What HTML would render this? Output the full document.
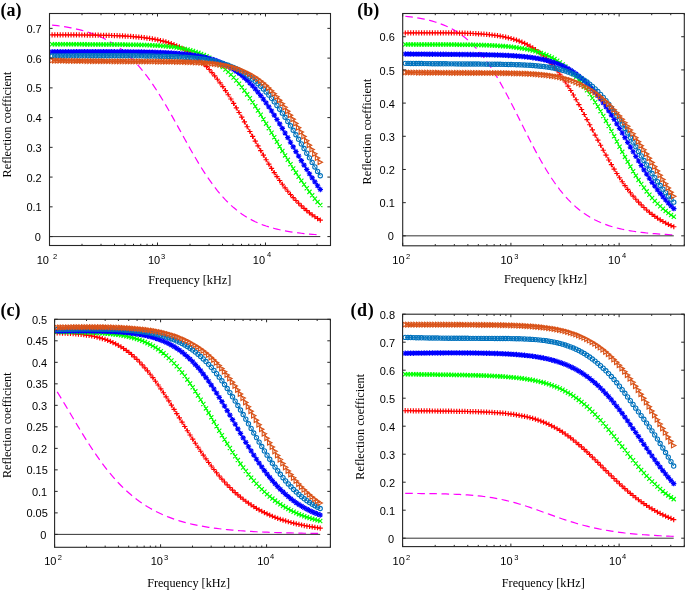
<!DOCTYPE html>
<html><head><meta charset="utf-8"><style>
html,body{margin:0;padding:0;background:#fff;}
svg{display:block;will-change:transform;}
text{fill:#000;}
.t{font-family:"Liberation Sans",sans-serif;font-size:11px;}
.s{font-family:"Liberation Sans",sans-serif;font-size:7.5px;}
.f{font-family:"Liberation Serif",serif;font-size:12.2px;}
.p{font-family:"Liberation Serif",serif;font-size:18px;font-weight:bold;}
</style></head><body>
<svg width="685" height="590" viewBox="0 0 685 590">
<defs><clipPath id="ca"><rect x="49.50" y="13.50" width="281.00" height="232.00"/></clipPath><clipPath id="cb"><rect x="402.70" y="13.50" width="281.60" height="232.30"/></clipPath><clipPath id="cc"><rect x="54.60" y="319.30" width="275.80" height="228.00"/></clipPath><clipPath id="cd"><rect x="402.60" y="314.20" width="281.70" height="232.40"/></clipPath></defs>
<rect width="685" height="590" fill="#fff"/>
<g clip-path="url(#ca)">
<polyline fill="none" stroke="#ff00ff" stroke-width="1.2" stroke-dasharray="7.6 4.5" points="52.10,25.04 54.81,25.36 57.52,25.71 60.23,26.09 62.94,26.50 65.65,26.93 68.35,27.40 71.06,27.91 73.77,28.46 76.48,29.06 79.19,29.70 81.90,30.39 84.61,31.13 87.32,31.94 90.03,32.81 92.74,33.75 95.45,34.77 98.15,35.86 100.86,37.04 103.57,38.32 106.28,39.69 108.99,41.16 111.70,42.75 114.41,44.45 117.12,46.28 119.83,48.24 122.54,50.33 125.25,52.57 127.95,54.95 130.66,57.49 133.37,60.19 136.08,63.06 138.79,66.09 141.50,69.29 144.21,72.66 146.92,76.19 149.63,79.90 152.34,83.77 155.05,87.80 157.75,91.98 160.46,96.31 163.17,100.76 165.88,105.34 168.59,110.01 171.30,114.78 174.01,119.61 176.72,124.49 179.43,129.40 182.14,134.32 184.85,139.23 187.55,144.10 190.26,148.92 192.97,153.66 195.68,158.32 198.39,162.86 201.10,167.28 203.81,171.56 206.52,175.69 209.23,179.66 211.94,183.46 214.65,187.09 217.35,190.55 220.06,193.83 222.77,196.92 225.48,199.85 228.19,202.59 230.90,205.17 233.61,207.58 236.32,209.83 239.03,211.93 241.74,213.89 244.45,215.70 247.15,217.38 249.86,218.94 252.57,220.37 255.28,221.70 257.99,222.93 260.70,224.06 263.41,225.09 266.12,226.05 268.83,226.93 271.54,227.74 274.25,228.48 276.95,229.16 279.66,229.78 282.37,230.36 285.08,230.88 287.79,231.37 290.50,231.81 293.21,232.22 295.92,232.60 298.63,232.94 301.34,233.26 304.05,233.55 306.75,233.83 309.46,234.08 312.17,234.31 314.88,234.52 317.59,234.73 320.30,234.91"/>
<line x1="49.50" y1="236.58" x2="320.30" y2="236.58" stroke="#333" stroke-width="1.0"/>
<polyline fill="none" stroke="#ff0000" stroke-width="1" points="52.10,34.88 54.81,34.88 57.52,34.89 60.23,34.89 62.94,34.90 65.65,34.91 68.35,34.91 71.06,34.92 73.77,34.94 76.48,34.95 79.19,34.97 81.90,34.99 84.61,35.01 87.32,35.04 90.03,35.07 92.74,35.10 95.45,35.14 98.15,35.19 100.86,35.24 103.57,35.29 106.28,35.35 108.99,35.43 111.70,35.51 114.41,35.60 117.12,35.70 119.83,35.81 122.54,35.94 125.25,36.09 127.95,36.25 130.66,36.43 133.37,36.63 136.08,36.86 138.79,37.11 141.50,37.40 144.21,37.71 146.92,38.07 149.63,38.46 152.34,38.90 155.05,39.38 157.75,39.92 160.46,40.53 163.17,41.19 165.88,41.93 168.59,42.74 171.30,43.65 174.01,44.64 176.72,45.73 179.43,46.93 182.14,48.25 184.85,49.69 187.55,51.26 190.26,52.97 192.97,54.83 195.68,56.85 198.39,59.03 201.10,61.37 203.81,63.90 206.52,66.60 209.23,69.48 211.94,72.55 214.65,75.81 217.35,79.25 220.06,82.86 222.77,86.65 225.48,90.61 228.19,94.72 230.90,98.98 233.61,103.37 236.32,107.88 239.03,112.48 241.74,117.17 244.45,121.91 247.15,126.70 249.86,131.51 252.57,136.32 255.28,141.12 257.99,145.87 260.70,150.56 263.41,155.18 266.12,159.71 268.83,164.13 271.54,168.44 274.25,172.61 276.95,176.64 279.66,180.53 282.37,184.26 285.08,187.83 287.79,191.24 290.50,194.49 293.21,197.58 295.92,200.50 298.63,203.27 301.34,205.88 304.05,208.34 306.75,210.65 309.46,212.82 312.17,214.85 314.88,216.75 317.59,218.53 320.30,220.19"/>
<path fill="none" stroke="#ff0000" stroke-width="1.15" d="M49.50 34.88h5.20M52.10 32.28v5.20M52.21 34.88h5.20M54.81 32.28v5.20M54.92 34.89h5.20M57.52 32.29v5.20M57.63 34.89h5.20M60.23 32.29v5.20M60.34 34.90h5.20M62.94 32.30v5.20M63.05 34.91h5.20M65.65 32.31v5.20M65.75 34.91h5.20M68.35 32.31v5.20M68.46 34.92h5.20M71.06 32.32v5.20M71.17 34.94h5.20M73.77 32.34v5.20M73.88 34.95h5.20M76.48 32.35v5.20M76.59 34.97h5.20M79.19 32.37v5.20M79.30 34.99h5.20M81.90 32.39v5.20M82.01 35.01h5.20M84.61 32.41v5.20M84.72 35.04h5.20M87.32 32.44v5.20M87.43 35.07h5.20M90.03 32.47v5.20M90.14 35.10h5.20M92.74 32.50v5.20M92.85 35.14h5.20M95.45 32.54v5.20M95.55 35.19h5.20M98.15 32.59v5.20M98.26 35.24h5.20M100.86 32.64v5.20M100.97 35.29h5.20M103.57 32.69v5.20M103.68 35.35h5.20M106.28 32.75v5.20M106.39 35.43h5.20M108.99 32.83v5.20M109.10 35.51h5.20M111.70 32.91v5.20M111.81 35.60h5.20M114.41 33.00v5.20M114.52 35.70h5.20M117.12 33.10v5.20M117.23 35.81h5.20M119.83 33.21v5.20M119.94 35.94h5.20M122.54 33.34v5.20M122.65 36.09h5.20M125.25 33.49v5.20M125.35 36.25h5.20M127.95 33.65v5.20M128.06 36.43h5.20M130.66 33.83v5.20M130.77 36.63h5.20M133.37 34.03v5.20M133.48 36.86h5.20M136.08 34.26v5.20M136.19 37.11h5.20M138.79 34.51v5.20M138.90 37.40h5.20M141.50 34.80v5.20M141.61 37.71h5.20M144.21 35.11v5.20M144.32 38.07h5.20M146.92 35.47v5.20M147.03 38.46h5.20M149.63 35.86v5.20M149.74 38.90h5.20M152.34 36.30v5.20M152.45 39.38h5.20M155.05 36.78v5.20M155.15 39.92h5.20M157.75 37.32v5.20M157.86 40.53h5.20M160.46 37.93v5.20M160.57 41.19h5.20M163.17 38.59v5.20M163.28 41.93h5.20M165.88 39.33v5.20M165.99 42.74h5.20M168.59 40.14v5.20M168.70 43.65h5.20M171.30 41.05v5.20M171.41 44.64h5.20M174.01 42.04v5.20M174.12 45.73h5.20M176.72 43.13v5.20M176.83 46.93h5.20M179.43 44.33v5.20M179.54 48.25h5.20M182.14 45.65v5.20M182.25 49.69h5.20M184.85 47.09v5.20M184.95 51.26h5.20M187.55 48.66v5.20M187.66 52.97h5.20M190.26 50.37v5.20M190.37 54.83h5.20M192.97 52.23v5.20M193.08 56.85h5.20M195.68 54.25v5.20M195.79 59.03h5.20M198.39 56.43v5.20M198.50 61.37h5.20M201.10 58.77v5.20M201.21 63.90h5.20M203.81 61.30v5.20M203.92 66.60h5.20M206.52 64.00v5.20M206.63 69.48h5.20M209.23 66.88v5.20M209.34 72.55h5.20M211.94 69.95v5.20M212.05 75.81h5.20M214.65 73.21v5.20M214.75 79.25h5.20M217.35 76.65v5.20M217.46 82.86h5.20M220.06 80.26v5.20M220.17 86.65h5.20M222.77 84.05v5.20M222.88 90.61h5.20M225.48 88.01v5.20M225.59 94.72h5.20M228.19 92.12v5.20M228.30 98.98h5.20M230.90 96.38v5.20M231.01 103.37h5.20M233.61 100.77v5.20M233.72 107.88h5.20M236.32 105.28v5.20M236.43 112.48h5.20M239.03 109.88v5.20M239.14 117.17h5.20M241.74 114.57v5.20M241.85 121.91h5.20M244.45 119.31v5.20M244.55 126.70h5.20M247.15 124.10v5.20M247.26 131.51h5.20M249.86 128.91v5.20M249.97 136.32h5.20M252.57 133.72v5.20M252.68 141.12h5.20M255.28 138.52v5.20M255.39 145.87h5.20M257.99 143.27v5.20M258.10 150.56h5.20M260.70 147.96v5.20M260.81 155.18h5.20M263.41 152.58v5.20M263.52 159.71h5.20M266.12 157.11v5.20M266.23 164.13h5.20M268.83 161.53v5.20M268.94 168.44h5.20M271.54 165.84v5.20M271.65 172.61h5.20M274.25 170.01v5.20M274.35 176.64h5.20M276.95 174.04v5.20M277.06 180.53h5.20M279.66 177.93v5.20M279.77 184.26h5.20M282.37 181.66v5.20M282.48 187.83h5.20M285.08 185.23v5.20M285.19 191.24h5.20M287.79 188.64v5.20M287.90 194.49h5.20M290.50 191.89v5.20M290.61 197.58h5.20M293.21 194.98v5.20M293.32 200.50h5.20M295.92 197.90v5.20M296.03 203.27h5.20M298.63 200.67v5.20M298.74 205.88h5.20M301.34 203.28v5.20M301.45 208.34h5.20M304.05 205.74v5.20M304.15 210.65h5.20M306.75 208.05v5.20M306.86 212.82h5.20M309.46 210.22v5.20M309.57 214.85h5.20M312.17 212.25v5.20M312.28 216.75h5.20M314.88 214.15v5.20M314.99 218.53h5.20M317.59 215.93v5.20M317.70 220.19h5.20M320.30 217.59v5.20"/>
<polyline fill="none" stroke="#00ff00" stroke-width="1" points="52.10,44.24 54.81,44.25 57.52,44.27 60.23,44.28 62.94,44.29 65.65,44.30 68.35,44.31 71.06,44.32 73.77,44.33 76.48,44.34 79.19,44.35 81.90,44.36 84.61,44.37 87.32,44.38 90.03,44.39 92.74,44.40 95.45,44.41 98.15,44.42 100.86,44.43 103.57,44.45 106.28,44.46 108.99,44.48 111.70,44.49 114.41,44.51 117.12,44.53 119.83,44.56 122.54,44.59 125.25,44.62 127.95,44.65 130.66,44.69 133.37,44.74 136.08,44.79 138.79,44.85 141.50,44.92 144.21,45.00 146.92,45.09 149.63,45.19 152.34,45.31 155.05,45.45 157.75,45.60 160.46,45.78 163.17,45.98 165.88,46.21 168.59,46.47 171.30,46.77 174.01,47.11 176.72,47.49 179.43,47.92 182.14,48.41 184.85,48.95 187.55,49.57 190.26,50.26 192.97,51.03 195.68,51.89 198.39,52.85 201.10,53.91 203.81,55.08 206.52,56.37 209.23,57.80 211.94,59.36 214.65,61.06 217.35,62.92 220.06,64.93 222.77,67.10 225.48,69.45 228.19,71.96 230.90,74.65 233.61,77.51 236.32,80.55 239.03,83.76 241.74,87.13 244.45,90.67 247.15,94.37 249.86,98.21 252.57,102.18 255.28,106.28 257.99,110.50 260.70,114.81 263.41,119.20 266.12,123.66 268.83,128.18 271.54,132.72 274.25,137.29 276.95,141.85 279.66,146.41 282.37,150.93 285.08,155.41 287.79,159.83 290.50,164.18 293.21,168.45 295.92,172.63 298.63,176.71 301.34,180.68 304.05,184.53 306.75,188.26 309.46,191.87 312.17,195.34 314.88,198.69 317.59,201.90 320.30,204.98"/>
<path fill="none" stroke="#00ff00" stroke-width="1.15" d="M50.00 42.14l4.20 4.20M50.00 46.34l4.20 -4.20M52.71 42.15l4.20 4.20M52.71 46.35l4.20 -4.20M55.42 42.17l4.20 4.20M55.42 46.37l4.20 -4.20M58.13 42.18l4.20 4.20M58.13 46.38l4.20 -4.20M60.84 42.19l4.20 4.20M60.84 46.39l4.20 -4.20M63.55 42.20l4.20 4.20M63.55 46.40l4.20 -4.20M66.25 42.21l4.20 4.20M66.25 46.41l4.20 -4.20M68.96 42.22l4.20 4.20M68.96 46.42l4.20 -4.20M71.67 42.23l4.20 4.20M71.67 46.43l4.20 -4.20M74.38 42.24l4.20 4.20M74.38 46.44l4.20 -4.20M77.09 42.25l4.20 4.20M77.09 46.45l4.20 -4.20M79.80 42.26l4.20 4.20M79.80 46.46l4.20 -4.20M82.51 42.27l4.20 4.20M82.51 46.47l4.20 -4.20M85.22 42.28l4.20 4.20M85.22 46.48l4.20 -4.20M87.93 42.29l4.20 4.20M87.93 46.49l4.20 -4.20M90.64 42.30l4.20 4.20M90.64 46.50l4.20 -4.20M93.35 42.31l4.20 4.20M93.35 46.51l4.20 -4.20M96.05 42.32l4.20 4.20M96.05 46.52l4.20 -4.20M98.76 42.33l4.20 4.20M98.76 46.53l4.20 -4.20M101.47 42.35l4.20 4.20M101.47 46.55l4.20 -4.20M104.18 42.36l4.20 4.20M104.18 46.56l4.20 -4.20M106.89 42.38l4.20 4.20M106.89 46.58l4.20 -4.20M109.60 42.39l4.20 4.20M109.60 46.59l4.20 -4.20M112.31 42.41l4.20 4.20M112.31 46.61l4.20 -4.20M115.02 42.43l4.20 4.20M115.02 46.63l4.20 -4.20M117.73 42.46l4.20 4.20M117.73 46.66l4.20 -4.20M120.44 42.49l4.20 4.20M120.44 46.69l4.20 -4.20M123.15 42.52l4.20 4.20M123.15 46.72l4.20 -4.20M125.85 42.55l4.20 4.20M125.85 46.75l4.20 -4.20M128.56 42.59l4.20 4.20M128.56 46.79l4.20 -4.20M131.27 42.64l4.20 4.20M131.27 46.84l4.20 -4.20M133.98 42.69l4.20 4.20M133.98 46.89l4.20 -4.20M136.69 42.75l4.20 4.20M136.69 46.95l4.20 -4.20M139.40 42.82l4.20 4.20M139.40 47.02l4.20 -4.20M142.11 42.90l4.20 4.20M142.11 47.10l4.20 -4.20M144.82 42.99l4.20 4.20M144.82 47.19l4.20 -4.20M147.53 43.09l4.20 4.20M147.53 47.29l4.20 -4.20M150.24 43.21l4.20 4.20M150.24 47.41l4.20 -4.20M152.95 43.35l4.20 4.20M152.95 47.55l4.20 -4.20M155.65 43.50l4.20 4.20M155.65 47.70l4.20 -4.20M158.36 43.68l4.20 4.20M158.36 47.88l4.20 -4.20M161.07 43.88l4.20 4.20M161.07 48.08l4.20 -4.20M163.78 44.11l4.20 4.20M163.78 48.31l4.20 -4.20M166.49 44.37l4.20 4.20M166.49 48.57l4.20 -4.20M169.20 44.67l4.20 4.20M169.20 48.87l4.20 -4.20M171.91 45.01l4.20 4.20M171.91 49.21l4.20 -4.20M174.62 45.39l4.20 4.20M174.62 49.59l4.20 -4.20M177.33 45.82l4.20 4.20M177.33 50.02l4.20 -4.20M180.04 46.31l4.20 4.20M180.04 50.51l4.20 -4.20M182.75 46.85l4.20 4.20M182.75 51.05l4.20 -4.20M185.45 47.47l4.20 4.20M185.45 51.67l4.20 -4.20M188.16 48.16l4.20 4.20M188.16 52.36l4.20 -4.20M190.87 48.93l4.20 4.20M190.87 53.13l4.20 -4.20M193.58 49.79l4.20 4.20M193.58 53.99l4.20 -4.20M196.29 50.75l4.20 4.20M196.29 54.95l4.20 -4.20M199.00 51.81l4.20 4.20M199.00 56.01l4.20 -4.20M201.71 52.98l4.20 4.20M201.71 57.18l4.20 -4.20M204.42 54.27l4.20 4.20M204.42 58.47l4.20 -4.20M207.13 55.70l4.20 4.20M207.13 59.90l4.20 -4.20M209.84 57.26l4.20 4.20M209.84 61.46l4.20 -4.20M212.55 58.96l4.20 4.20M212.55 63.16l4.20 -4.20M215.25 60.82l4.20 4.20M215.25 65.02l4.20 -4.20M217.96 62.83l4.20 4.20M217.96 67.03l4.20 -4.20M220.67 65.00l4.20 4.20M220.67 69.20l4.20 -4.20M223.38 67.35l4.20 4.20M223.38 71.55l4.20 -4.20M226.09 69.86l4.20 4.20M226.09 74.06l4.20 -4.20M228.80 72.55l4.20 4.20M228.80 76.75l4.20 -4.20M231.51 75.41l4.20 4.20M231.51 79.61l4.20 -4.20M234.22 78.45l4.20 4.20M234.22 82.65l4.20 -4.20M236.93 81.66l4.20 4.20M236.93 85.86l4.20 -4.20M239.64 85.03l4.20 4.20M239.64 89.23l4.20 -4.20M242.35 88.57l4.20 4.20M242.35 92.77l4.20 -4.20M245.05 92.27l4.20 4.20M245.05 96.47l4.20 -4.20M247.76 96.11l4.20 4.20M247.76 100.31l4.20 -4.20M250.47 100.08l4.20 4.20M250.47 104.28l4.20 -4.20M253.18 104.18l4.20 4.20M253.18 108.38l4.20 -4.20M255.89 108.40l4.20 4.20M255.89 112.60l4.20 -4.20M258.60 112.71l4.20 4.20M258.60 116.91l4.20 -4.20M261.31 117.10l4.20 4.20M261.31 121.30l4.20 -4.20M264.02 121.56l4.20 4.20M264.02 125.76l4.20 -4.20M266.73 126.08l4.20 4.20M266.73 130.28l4.20 -4.20M269.44 130.62l4.20 4.20M269.44 134.82l4.20 -4.20M272.15 135.19l4.20 4.20M272.15 139.39l4.20 -4.20M274.85 139.75l4.20 4.20M274.85 143.95l4.20 -4.20M277.56 144.31l4.20 4.20M277.56 148.51l4.20 -4.20M280.27 148.83l4.20 4.20M280.27 153.03l4.20 -4.20M282.98 153.31l4.20 4.20M282.98 157.51l4.20 -4.20M285.69 157.73l4.20 4.20M285.69 161.93l4.20 -4.20M288.40 162.08l4.20 4.20M288.40 166.28l4.20 -4.20M291.11 166.35l4.20 4.20M291.11 170.55l4.20 -4.20M293.82 170.53l4.20 4.20M293.82 174.73l4.20 -4.20M296.53 174.61l4.20 4.20M296.53 178.81l4.20 -4.20M299.24 178.58l4.20 4.20M299.24 182.78l4.20 -4.20M301.95 182.43l4.20 4.20M301.95 186.63l4.20 -4.20M304.65 186.16l4.20 4.20M304.65 190.36l4.20 -4.20M307.36 189.77l4.20 4.20M307.36 193.97l4.20 -4.20M310.07 193.24l4.20 4.20M310.07 197.44l4.20 -4.20M312.78 196.59l4.20 4.20M312.78 200.79l4.20 -4.20M315.49 199.80l4.20 4.20M315.49 204.00l4.20 -4.20M318.20 202.88l4.20 4.20M318.20 207.08l4.20 -4.20"/>
<polyline fill="none" stroke="#0000ff" stroke-width="1" points="52.10,51.81 54.81,51.80 57.52,51.79 60.23,51.78 62.94,51.77 65.65,51.76 68.35,51.76 71.06,51.75 73.77,51.74 76.48,51.73 79.19,51.73 81.90,51.72 84.61,51.72 87.32,51.72 90.03,51.71 92.74,51.71 95.45,51.71 98.15,51.71 100.86,51.71 103.57,51.72 106.28,51.72 108.99,51.73 111.70,51.73 114.41,51.74 117.12,51.75 119.83,51.77 122.54,51.78 125.25,51.80 127.95,51.82 130.66,51.84 133.37,51.87 136.08,51.90 138.79,51.94 141.50,51.98 144.21,52.03 146.92,52.08 149.63,52.14 152.34,52.21 155.05,52.28 157.75,52.37 160.46,52.47 163.17,52.58 165.88,52.70 168.59,52.84 171.30,52.99 174.01,53.17 176.72,53.36 179.43,53.58 182.14,53.83 184.85,54.10 187.55,54.41 190.26,54.75 192.97,55.13 195.68,55.56 198.39,56.03 201.10,56.56 203.81,57.15 206.52,57.80 209.23,58.53 211.94,59.33 214.65,60.22 217.35,61.19 220.06,62.27 222.77,63.46 225.48,64.76 228.19,66.19 230.90,67.75 233.61,69.45 236.32,71.30 239.03,73.31 241.74,75.48 244.45,77.82 247.15,80.34 249.86,83.03 252.57,85.91 255.28,88.96 257.99,92.21 260.70,95.63 263.41,99.22 266.12,102.98 268.83,106.91 271.54,110.98 274.25,115.18 276.95,119.50 279.66,123.93 282.37,128.44 285.08,133.02 287.79,137.64 290.50,142.28 293.21,146.93 295.92,151.56 298.63,156.15 301.34,160.69 304.05,165.14 306.75,169.51 309.46,173.77 312.17,177.91 314.88,181.91 317.59,185.78 320.30,189.49"/>
<path fill="none" stroke="#0000ff" stroke-width="1.15" d="M49.40 51.81h5.40M52.10 49.11v5.40M50.15 49.86l3.90 3.90M50.15 53.76l3.90 -3.90M52.11 51.80h5.40M54.81 49.10v5.40M52.86 49.85l3.90 3.90M52.86 53.75l3.90 -3.90M54.82 51.79h5.40M57.52 49.09v5.40M55.57 49.84l3.90 3.90M55.57 53.74l3.90 -3.90M57.53 51.78h5.40M60.23 49.08v5.40M58.28 49.83l3.90 3.90M58.28 53.73l3.90 -3.90M60.24 51.77h5.40M62.94 49.07v5.40M60.99 49.82l3.90 3.90M60.99 53.72l3.90 -3.90M62.95 51.76h5.40M65.65 49.06v5.40M63.70 49.81l3.90 3.90M63.70 53.71l3.90 -3.90M65.65 51.76h5.40M68.35 49.06v5.40M66.40 49.81l3.90 3.90M66.40 53.71l3.90 -3.90M68.36 51.75h5.40M71.06 49.05v5.40M69.11 49.80l3.90 3.90M69.11 53.70l3.90 -3.90M71.07 51.74h5.40M73.77 49.04v5.40M71.82 49.79l3.90 3.90M71.82 53.69l3.90 -3.90M73.78 51.73h5.40M76.48 49.03v5.40M74.53 49.78l3.90 3.90M74.53 53.68l3.90 -3.90M76.49 51.73h5.40M79.19 49.03v5.40M77.24 49.78l3.90 3.90M77.24 53.68l3.90 -3.90M79.20 51.72h5.40M81.90 49.02v5.40M79.95 49.77l3.90 3.90M79.95 53.67l3.90 -3.90M81.91 51.72h5.40M84.61 49.02v5.40M82.66 49.77l3.90 3.90M82.66 53.67l3.90 -3.90M84.62 51.72h5.40M87.32 49.02v5.40M85.37 49.77l3.90 3.90M85.37 53.67l3.90 -3.90M87.33 51.71h5.40M90.03 49.01v5.40M88.08 49.76l3.90 3.90M88.08 53.66l3.90 -3.90M90.04 51.71h5.40M92.74 49.01v5.40M90.79 49.76l3.90 3.90M90.79 53.66l3.90 -3.90M92.75 51.71h5.40M95.45 49.01v5.40M93.50 49.76l3.90 3.90M93.50 53.66l3.90 -3.90M95.45 51.71h5.40M98.15 49.01v5.40M96.20 49.76l3.90 3.90M96.20 53.66l3.90 -3.90M98.16 51.71h5.40M100.86 49.01v5.40M98.91 49.76l3.90 3.90M98.91 53.66l3.90 -3.90M100.87 51.72h5.40M103.57 49.02v5.40M101.62 49.77l3.90 3.90M101.62 53.67l3.90 -3.90M103.58 51.72h5.40M106.28 49.02v5.40M104.33 49.77l3.90 3.90M104.33 53.67l3.90 -3.90M106.29 51.73h5.40M108.99 49.03v5.40M107.04 49.78l3.90 3.90M107.04 53.68l3.90 -3.90M109.00 51.73h5.40M111.70 49.03v5.40M109.75 49.78l3.90 3.90M109.75 53.68l3.90 -3.90M111.71 51.74h5.40M114.41 49.04v5.40M112.46 49.79l3.90 3.90M112.46 53.69l3.90 -3.90M114.42 51.75h5.40M117.12 49.05v5.40M115.17 49.80l3.90 3.90M115.17 53.70l3.90 -3.90M117.13 51.77h5.40M119.83 49.07v5.40M117.88 49.82l3.90 3.90M117.88 53.72l3.90 -3.90M119.84 51.78h5.40M122.54 49.08v5.40M120.59 49.83l3.90 3.90M120.59 53.73l3.90 -3.90M122.55 51.80h5.40M125.25 49.10v5.40M123.30 49.85l3.90 3.90M123.30 53.75l3.90 -3.90M125.25 51.82h5.40M127.95 49.12v5.40M126.00 49.87l3.90 3.90M126.00 53.77l3.90 -3.90M127.96 51.84h5.40M130.66 49.14v5.40M128.71 49.89l3.90 3.90M128.71 53.79l3.90 -3.90M130.67 51.87h5.40M133.37 49.17v5.40M131.42 49.92l3.90 3.90M131.42 53.82l3.90 -3.90M133.38 51.90h5.40M136.08 49.20v5.40M134.13 49.95l3.90 3.90M134.13 53.85l3.90 -3.90M136.09 51.94h5.40M138.79 49.24v5.40M136.84 49.99l3.90 3.90M136.84 53.89l3.90 -3.90M138.80 51.98h5.40M141.50 49.28v5.40M139.55 50.03l3.90 3.90M139.55 53.93l3.90 -3.90M141.51 52.03h5.40M144.21 49.33v5.40M142.26 50.08l3.90 3.90M142.26 53.98l3.90 -3.90M144.22 52.08h5.40M146.92 49.38v5.40M144.97 50.13l3.90 3.90M144.97 54.03l3.90 -3.90M146.93 52.14h5.40M149.63 49.44v5.40M147.68 50.19l3.90 3.90M147.68 54.09l3.90 -3.90M149.64 52.21h5.40M152.34 49.51v5.40M150.39 50.26l3.90 3.90M150.39 54.16l3.90 -3.90M152.35 52.28h5.40M155.05 49.58v5.40M153.10 50.33l3.90 3.90M153.10 54.23l3.90 -3.90M155.05 52.37h5.40M157.75 49.67v5.40M155.80 50.42l3.90 3.90M155.80 54.32l3.90 -3.90M157.76 52.47h5.40M160.46 49.77v5.40M158.51 50.52l3.90 3.90M158.51 54.42l3.90 -3.90M160.47 52.58h5.40M163.17 49.88v5.40M161.22 50.63l3.90 3.90M161.22 54.53l3.90 -3.90M163.18 52.70h5.40M165.88 50.00v5.40M163.93 50.75l3.90 3.90M163.93 54.65l3.90 -3.90M165.89 52.84h5.40M168.59 50.14v5.40M166.64 50.89l3.90 3.90M166.64 54.79l3.90 -3.90M168.60 52.99h5.40M171.30 50.29v5.40M169.35 51.04l3.90 3.90M169.35 54.94l3.90 -3.90M171.31 53.17h5.40M174.01 50.47v5.40M172.06 51.22l3.90 3.90M172.06 55.12l3.90 -3.90M174.02 53.36h5.40M176.72 50.66v5.40M174.77 51.41l3.90 3.90M174.77 55.31l3.90 -3.90M176.73 53.58h5.40M179.43 50.88v5.40M177.48 51.63l3.90 3.90M177.48 55.53l3.90 -3.90M179.44 53.83h5.40M182.14 51.13v5.40M180.19 51.88l3.90 3.90M180.19 55.78l3.90 -3.90M182.15 54.10h5.40M184.85 51.40v5.40M182.90 52.15l3.90 3.90M182.90 56.05l3.90 -3.90M184.85 54.41h5.40M187.55 51.71v5.40M185.60 52.46l3.90 3.90M185.60 56.36l3.90 -3.90M187.56 54.75h5.40M190.26 52.05v5.40M188.31 52.80l3.90 3.90M188.31 56.70l3.90 -3.90M190.27 55.13h5.40M192.97 52.43v5.40M191.02 53.18l3.90 3.90M191.02 57.08l3.90 -3.90M192.98 55.56h5.40M195.68 52.86v5.40M193.73 53.61l3.90 3.90M193.73 57.51l3.90 -3.90M195.69 56.03h5.40M198.39 53.33v5.40M196.44 54.08l3.90 3.90M196.44 57.98l3.90 -3.90M198.40 56.56h5.40M201.10 53.86v5.40M199.15 54.61l3.90 3.90M199.15 58.51l3.90 -3.90M201.11 57.15h5.40M203.81 54.45v5.40M201.86 55.20l3.90 3.90M201.86 59.10l3.90 -3.90M203.82 57.80h5.40M206.52 55.10v5.40M204.57 55.85l3.90 3.90M204.57 59.75l3.90 -3.90M206.53 58.53h5.40M209.23 55.83v5.40M207.28 56.58l3.90 3.90M207.28 60.48l3.90 -3.90M209.24 59.33h5.40M211.94 56.63v5.40M209.99 57.38l3.90 3.90M209.99 61.28l3.90 -3.90M211.95 60.22h5.40M214.65 57.52v5.40M212.70 58.27l3.90 3.90M212.70 62.17l3.90 -3.90M214.65 61.19h5.40M217.35 58.49v5.40M215.40 59.24l3.90 3.90M215.40 63.14l3.90 -3.90M217.36 62.27h5.40M220.06 59.57v5.40M218.11 60.32l3.90 3.90M218.11 64.22l3.90 -3.90M220.07 63.46h5.40M222.77 60.76v5.40M220.82 61.51l3.90 3.90M220.82 65.41l3.90 -3.90M222.78 64.76h5.40M225.48 62.06v5.40M223.53 62.81l3.90 3.90M223.53 66.71l3.90 -3.90M225.49 66.19h5.40M228.19 63.49v5.40M226.24 64.24l3.90 3.90M226.24 68.14l3.90 -3.90M228.20 67.75h5.40M230.90 65.05v5.40M228.95 65.80l3.90 3.90M228.95 69.70l3.90 -3.90M230.91 69.45h5.40M233.61 66.75v5.40M231.66 67.50l3.90 3.90M231.66 71.40l3.90 -3.90M233.62 71.30h5.40M236.32 68.60v5.40M234.37 69.35l3.90 3.90M234.37 73.25l3.90 -3.90M236.33 73.31h5.40M239.03 70.61v5.40M237.08 71.36l3.90 3.90M237.08 75.26l3.90 -3.90M239.04 75.48h5.40M241.74 72.78v5.40M239.79 73.53l3.90 3.90M239.79 77.43l3.90 -3.90M241.75 77.82h5.40M244.45 75.12v5.40M242.50 75.87l3.90 3.90M242.50 79.77l3.90 -3.90M244.45 80.34h5.40M247.15 77.64v5.40M245.20 78.39l3.90 3.90M245.20 82.29l3.90 -3.90M247.16 83.03h5.40M249.86 80.33v5.40M247.91 81.08l3.90 3.90M247.91 84.98l3.90 -3.90M249.87 85.91h5.40M252.57 83.21v5.40M250.62 83.96l3.90 3.90M250.62 87.86l3.90 -3.90M252.58 88.96h5.40M255.28 86.26v5.40M253.33 87.01l3.90 3.90M253.33 90.91l3.90 -3.90M255.29 92.21h5.40M257.99 89.51v5.40M256.04 90.26l3.90 3.90M256.04 94.16l3.90 -3.90M258.00 95.63h5.40M260.70 92.93v5.40M258.75 93.68l3.90 3.90M258.75 97.58l3.90 -3.90M260.71 99.22h5.40M263.41 96.52v5.40M261.46 97.27l3.90 3.90M261.46 101.17l3.90 -3.90M263.42 102.98h5.40M266.12 100.28v5.40M264.17 101.03l3.90 3.90M264.17 104.93l3.90 -3.90M266.13 106.91h5.40M268.83 104.21v5.40M266.88 104.96l3.90 3.90M266.88 108.86l3.90 -3.90M268.84 110.98h5.40M271.54 108.28v5.40M269.59 109.03l3.90 3.90M269.59 112.93l3.90 -3.90M271.55 115.18h5.40M274.25 112.48v5.40M272.30 113.23l3.90 3.90M272.30 117.13l3.90 -3.90M274.25 119.50h5.40M276.95 116.80v5.40M275.00 117.55l3.90 3.90M275.00 121.45l3.90 -3.90M276.96 123.93h5.40M279.66 121.23v5.40M277.71 121.98l3.90 3.90M277.71 125.88l3.90 -3.90M279.67 128.44h5.40M282.37 125.74v5.40M280.42 126.49l3.90 3.90M280.42 130.39l3.90 -3.90M282.38 133.02h5.40M285.08 130.32v5.40M283.13 131.07l3.90 3.90M283.13 134.97l3.90 -3.90M285.09 137.64h5.40M287.79 134.94v5.40M285.84 135.69l3.90 3.90M285.84 139.59l3.90 -3.90M287.80 142.28h5.40M290.50 139.58v5.40M288.55 140.33l3.90 3.90M288.55 144.23l3.90 -3.90M290.51 146.93h5.40M293.21 144.23v5.40M291.26 144.98l3.90 3.90M291.26 148.88l3.90 -3.90M293.22 151.56h5.40M295.92 148.86v5.40M293.97 149.61l3.90 3.90M293.97 153.51l3.90 -3.90M295.93 156.15h5.40M298.63 153.45v5.40M296.68 154.20l3.90 3.90M296.68 158.10l3.90 -3.90M298.64 160.69h5.40M301.34 157.99v5.40M299.39 158.74l3.90 3.90M299.39 162.64l3.90 -3.90M301.35 165.14h5.40M304.05 162.44v5.40M302.10 163.19l3.90 3.90M302.10 167.09l3.90 -3.90M304.05 169.51h5.40M306.75 166.81v5.40M304.80 167.56l3.90 3.90M304.80 171.46l3.90 -3.90M306.76 173.77h5.40M309.46 171.07v5.40M307.51 171.82l3.90 3.90M307.51 175.72l3.90 -3.90M309.47 177.91h5.40M312.17 175.21v5.40M310.22 175.96l3.90 3.90M310.22 179.86l3.90 -3.90M312.18 181.91h5.40M314.88 179.21v5.40M312.93 179.96l3.90 3.90M312.93 183.86l3.90 -3.90M314.89 185.78h5.40M317.59 183.08v5.40M315.64 183.83l3.90 3.90M315.64 187.73l3.90 -3.90M317.60 189.49h5.40M320.30 186.79v5.40M318.35 187.54l3.90 3.90M318.35 191.44l3.90 -3.90"/>
<polyline fill="none" stroke="#0072bd" stroke-width="1" points="52.10,55.99 54.81,55.96 57.52,55.94 60.23,55.92 62.94,55.90 65.65,55.88 68.35,55.87 71.06,55.85 73.77,55.83 76.48,55.82 79.19,55.81 81.90,55.79 84.61,55.78 87.32,55.77 90.03,55.76 92.74,55.75 95.45,55.75 98.15,55.74 100.86,55.73 103.57,55.73 106.28,55.73 108.99,55.73 111.70,55.73 114.41,55.73 117.12,55.73 119.83,55.74 122.54,55.75 125.25,55.76 127.95,55.77 130.66,55.79 133.37,55.80 136.08,55.82 138.79,55.85 141.50,55.87 144.21,55.91 146.92,55.94 149.63,55.98 152.34,56.03 155.05,56.08 157.75,56.14 160.46,56.21 163.17,56.28 165.88,56.36 168.59,56.46 171.30,56.56 174.01,56.68 176.72,56.81 179.43,56.95 182.14,57.12 184.85,57.30 187.55,57.50 190.26,57.73 192.97,57.98 195.68,58.26 198.39,58.57 201.10,58.92 203.81,59.31 206.52,59.74 209.23,60.21 211.94,60.74 214.65,61.32 217.35,61.97 220.06,62.68 222.77,63.46 225.48,64.33 228.19,65.28 230.90,66.33 233.61,67.48 236.32,68.74 239.03,70.12 241.74,71.62 244.45,73.26 247.15,75.03 249.86,76.95 252.57,79.03 255.28,81.27 257.99,83.68 260.70,86.26 263.41,89.01 266.12,91.94 268.83,95.05 271.54,98.34 274.25,101.80 276.95,105.43 279.66,109.22 282.37,113.16 285.08,117.25 287.79,121.47 290.50,125.80 293.21,130.23 295.92,134.74 298.63,139.31 301.34,143.93 304.05,148.57 306.75,153.21 309.46,157.83 312.17,162.41 314.88,166.94 317.59,171.39 320.30,175.76"/>
<g fill="none" stroke="#0072bd" stroke-width="1.1"><circle cx="52.10" cy="55.99" r="2.15"/><circle cx="54.81" cy="55.96" r="2.15"/><circle cx="57.52" cy="55.94" r="2.15"/><circle cx="60.23" cy="55.92" r="2.15"/><circle cx="62.94" cy="55.90" r="2.15"/><circle cx="65.65" cy="55.88" r="2.15"/><circle cx="68.35" cy="55.87" r="2.15"/><circle cx="71.06" cy="55.85" r="2.15"/><circle cx="73.77" cy="55.83" r="2.15"/><circle cx="76.48" cy="55.82" r="2.15"/><circle cx="79.19" cy="55.81" r="2.15"/><circle cx="81.90" cy="55.79" r="2.15"/><circle cx="84.61" cy="55.78" r="2.15"/><circle cx="87.32" cy="55.77" r="2.15"/><circle cx="90.03" cy="55.76" r="2.15"/><circle cx="92.74" cy="55.75" r="2.15"/><circle cx="95.45" cy="55.75" r="2.15"/><circle cx="98.15" cy="55.74" r="2.15"/><circle cx="100.86" cy="55.73" r="2.15"/><circle cx="103.57" cy="55.73" r="2.15"/><circle cx="106.28" cy="55.73" r="2.15"/><circle cx="108.99" cy="55.73" r="2.15"/><circle cx="111.70" cy="55.73" r="2.15"/><circle cx="114.41" cy="55.73" r="2.15"/><circle cx="117.12" cy="55.73" r="2.15"/><circle cx="119.83" cy="55.74" r="2.15"/><circle cx="122.54" cy="55.75" r="2.15"/><circle cx="125.25" cy="55.76" r="2.15"/><circle cx="127.95" cy="55.77" r="2.15"/><circle cx="130.66" cy="55.79" r="2.15"/><circle cx="133.37" cy="55.80" r="2.15"/><circle cx="136.08" cy="55.82" r="2.15"/><circle cx="138.79" cy="55.85" r="2.15"/><circle cx="141.50" cy="55.87" r="2.15"/><circle cx="144.21" cy="55.91" r="2.15"/><circle cx="146.92" cy="55.94" r="2.15"/><circle cx="149.63" cy="55.98" r="2.15"/><circle cx="152.34" cy="56.03" r="2.15"/><circle cx="155.05" cy="56.08" r="2.15"/><circle cx="157.75" cy="56.14" r="2.15"/><circle cx="160.46" cy="56.21" r="2.15"/><circle cx="163.17" cy="56.28" r="2.15"/><circle cx="165.88" cy="56.36" r="2.15"/><circle cx="168.59" cy="56.46" r="2.15"/><circle cx="171.30" cy="56.56" r="2.15"/><circle cx="174.01" cy="56.68" r="2.15"/><circle cx="176.72" cy="56.81" r="2.15"/><circle cx="179.43" cy="56.95" r="2.15"/><circle cx="182.14" cy="57.12" r="2.15"/><circle cx="184.85" cy="57.30" r="2.15"/><circle cx="187.55" cy="57.50" r="2.15"/><circle cx="190.26" cy="57.73" r="2.15"/><circle cx="192.97" cy="57.98" r="2.15"/><circle cx="195.68" cy="58.26" r="2.15"/><circle cx="198.39" cy="58.57" r="2.15"/><circle cx="201.10" cy="58.92" r="2.15"/><circle cx="203.81" cy="59.31" r="2.15"/><circle cx="206.52" cy="59.74" r="2.15"/><circle cx="209.23" cy="60.21" r="2.15"/><circle cx="211.94" cy="60.74" r="2.15"/><circle cx="214.65" cy="61.32" r="2.15"/><circle cx="217.35" cy="61.97" r="2.15"/><circle cx="220.06" cy="62.68" r="2.15"/><circle cx="222.77" cy="63.46" r="2.15"/><circle cx="225.48" cy="64.33" r="2.15"/><circle cx="228.19" cy="65.28" r="2.15"/><circle cx="230.90" cy="66.33" r="2.15"/><circle cx="233.61" cy="67.48" r="2.15"/><circle cx="236.32" cy="68.74" r="2.15"/><circle cx="239.03" cy="70.12" r="2.15"/><circle cx="241.74" cy="71.62" r="2.15"/><circle cx="244.45" cy="73.26" r="2.15"/><circle cx="247.15" cy="75.03" r="2.15"/><circle cx="249.86" cy="76.95" r="2.15"/><circle cx="252.57" cy="79.03" r="2.15"/><circle cx="255.28" cy="81.27" r="2.15"/><circle cx="257.99" cy="83.68" r="2.15"/><circle cx="260.70" cy="86.26" r="2.15"/><circle cx="263.41" cy="89.01" r="2.15"/><circle cx="266.12" cy="91.94" r="2.15"/><circle cx="268.83" cy="95.05" r="2.15"/><circle cx="271.54" cy="98.34" r="2.15"/><circle cx="274.25" cy="101.80" r="2.15"/><circle cx="276.95" cy="105.43" r="2.15"/><circle cx="279.66" cy="109.22" r="2.15"/><circle cx="282.37" cy="113.16" r="2.15"/><circle cx="285.08" cy="117.25" r="2.15"/><circle cx="287.79" cy="121.47" r="2.15"/><circle cx="290.50" cy="125.80" r="2.15"/><circle cx="293.21" cy="130.23" r="2.15"/><circle cx="295.92" cy="134.74" r="2.15"/><circle cx="298.63" cy="139.31" r="2.15"/><circle cx="301.34" cy="143.93" r="2.15"/><circle cx="304.05" cy="148.57" r="2.15"/><circle cx="306.75" cy="153.21" r="2.15"/><circle cx="309.46" cy="157.83" r="2.15"/><circle cx="312.17" cy="162.41" r="2.15"/><circle cx="314.88" cy="166.94" r="2.15"/><circle cx="317.59" cy="171.39" r="2.15"/><circle cx="320.30" cy="175.76" r="2.15"/></g>
<polyline fill="none" stroke="#d95319" stroke-width="1" points="52.10,60.54 54.81,60.59 57.52,60.64 60.23,60.69 62.94,60.73 65.65,60.78 68.35,60.82 71.06,60.86 73.77,60.90 76.48,60.94 79.19,60.97 81.90,61.01 84.61,61.04 87.32,61.07 90.03,61.10 92.74,61.13 95.45,61.16 98.15,61.18 100.86,61.21 103.57,61.23 106.28,61.25 108.99,61.28 111.70,61.30 114.41,61.32 117.12,61.33 119.83,61.35 122.54,61.37 125.25,61.39 127.95,61.40 130.66,61.42 133.37,61.43 136.08,61.45 138.79,61.46 141.50,61.48 144.21,61.49 146.92,61.51 149.63,61.53 152.34,61.54 155.05,61.56 157.75,61.58 160.46,61.61 163.17,61.63 165.88,61.66 168.59,61.69 171.30,61.73 174.01,61.77 176.72,61.82 179.43,61.87 182.14,61.93 184.85,62.00 187.55,62.08 190.26,62.17 192.97,62.28 195.68,62.40 198.39,62.53 201.10,62.69 203.81,62.87 206.52,63.07 209.23,63.31 211.94,63.57 214.65,63.87 217.35,64.21 220.06,64.60 222.77,65.04 225.48,65.54 228.19,66.10 230.90,66.74 233.61,67.45 236.32,68.25 239.03,69.14 241.74,70.14 244.45,71.26 247.15,72.50 249.86,73.87 252.57,75.39 255.28,77.06 257.99,78.89 260.70,80.90 263.41,83.08 266.12,85.45 268.83,88.01 271.54,90.76 274.25,93.70 276.95,96.83 279.66,100.15 282.37,103.66 285.08,107.33 287.79,111.16 290.50,115.13 293.21,119.23 295.92,123.43 298.63,127.71 301.34,132.06 304.05,136.44 306.75,140.84 309.46,145.22 312.17,149.56 314.88,153.85 317.59,158.06 320.30,162.18"/>
<path fill="none" stroke="#d95319" stroke-width="1.15" d="M49.90 58.19L54.30 60.54L49.90 62.89ZM52.61 58.24L57.01 60.59L52.61 62.94ZM55.32 58.29L59.72 60.64L55.32 62.99ZM58.03 58.34L62.43 60.69L58.03 63.04ZM60.74 58.38L65.14 60.73L60.74 63.08ZM63.45 58.43L67.85 60.78L63.45 63.13ZM66.15 58.47L70.55 60.82L66.15 63.17ZM68.86 58.51L73.26 60.86L68.86 63.21ZM71.57 58.55L75.97 60.90L71.57 63.25ZM74.28 58.59L78.68 60.94L74.28 63.29ZM76.99 58.62L81.39 60.97L76.99 63.32ZM79.70 58.66L84.10 61.01L79.70 63.36ZM82.41 58.69L86.81 61.04L82.41 63.39ZM85.12 58.72L89.52 61.07L85.12 63.42ZM87.83 58.75L92.23 61.10L87.83 63.45ZM90.54 58.78L94.94 61.13L90.54 63.48ZM93.25 58.81L97.65 61.16L93.25 63.51ZM95.95 58.83L100.35 61.18L95.95 63.53ZM98.66 58.86L103.06 61.21L98.66 63.56ZM101.37 58.88L105.77 61.23L101.37 63.58ZM104.08 58.90L108.48 61.25L104.08 63.60ZM106.79 58.93L111.19 61.28L106.79 63.63ZM109.50 58.95L113.90 61.30L109.50 63.65ZM112.21 58.97L116.61 61.32L112.21 63.67ZM114.92 58.98L119.32 61.33L114.92 63.68ZM117.63 59.00L122.03 61.35L117.63 63.70ZM120.34 59.02L124.74 61.37L120.34 63.72ZM123.05 59.04L127.45 61.39L123.05 63.74ZM125.75 59.05L130.15 61.40L125.75 63.75ZM128.46 59.07L132.86 61.42L128.46 63.77ZM131.17 59.08L135.57 61.43L131.17 63.78ZM133.88 59.10L138.28 61.45L133.88 63.80ZM136.59 59.11L140.99 61.46L136.59 63.81ZM139.30 59.13L143.70 61.48L139.30 63.83ZM142.01 59.14L146.41 61.49L142.01 63.84ZM144.72 59.16L149.12 61.51L144.72 63.86ZM147.43 59.18L151.83 61.53L147.43 63.88ZM150.14 59.19L154.54 61.54L150.14 63.89ZM152.85 59.21L157.25 61.56L152.85 63.91ZM155.55 59.23L159.95 61.58L155.55 63.93ZM158.26 59.26L162.66 61.61L158.26 63.96ZM160.97 59.28L165.37 61.63L160.97 63.98ZM163.68 59.31L168.08 61.66L163.68 64.01ZM166.39 59.34L170.79 61.69L166.39 64.04ZM169.10 59.38L173.50 61.73L169.10 64.08ZM171.81 59.42L176.21 61.77L171.81 64.12ZM174.52 59.47L178.92 61.82L174.52 64.17ZM177.23 59.52L181.63 61.87L177.23 64.22ZM179.94 59.58L184.34 61.93L179.94 64.28ZM182.65 59.65L187.05 62.00L182.65 64.35ZM185.35 59.73L189.75 62.08L185.35 64.43ZM188.06 59.82L192.46 62.17L188.06 64.52ZM190.77 59.93L195.17 62.28L190.77 64.63ZM193.48 60.05L197.88 62.40L193.48 64.75ZM196.19 60.18L200.59 62.53L196.19 64.88ZM198.90 60.34L203.30 62.69L198.90 65.04ZM201.61 60.52L206.01 62.87L201.61 65.22ZM204.32 60.72L208.72 63.07L204.32 65.42ZM207.03 60.96L211.43 63.31L207.03 65.66ZM209.74 61.22L214.14 63.57L209.74 65.92ZM212.45 61.52L216.85 63.87L212.45 66.22ZM215.15 61.86L219.55 64.21L215.15 66.56ZM217.86 62.25L222.26 64.60L217.86 66.95ZM220.57 62.69L224.97 65.04L220.57 67.39ZM223.28 63.19L227.68 65.54L223.28 67.89ZM225.99 63.75L230.39 66.10L225.99 68.45ZM228.70 64.39L233.10 66.74L228.70 69.09ZM231.41 65.10L235.81 67.45L231.41 69.80ZM234.12 65.90L238.52 68.25L234.12 70.60ZM236.83 66.79L241.23 69.14L236.83 71.49ZM239.54 67.79L243.94 70.14L239.54 72.49ZM242.25 68.91L246.65 71.26L242.25 73.61ZM244.95 70.15L249.35 72.50L244.95 74.85ZM247.66 71.52L252.06 73.87L247.66 76.22ZM250.37 73.04L254.77 75.39L250.37 77.74ZM253.08 74.71L257.48 77.06L253.08 79.41ZM255.79 76.54L260.19 78.89L255.79 81.24ZM258.50 78.55L262.90 80.90L258.50 83.25ZM261.21 80.73L265.61 83.08L261.21 85.43ZM263.92 83.10L268.32 85.45L263.92 87.80ZM266.63 85.66L271.03 88.01L266.63 90.36ZM269.34 88.41L273.74 90.76L269.34 93.11ZM272.05 91.35L276.45 93.70L272.05 96.05ZM274.75 94.48L279.15 96.83L274.75 99.18ZM277.46 97.80L281.86 100.15L277.46 102.50ZM280.17 101.31L284.57 103.66L280.17 106.01ZM282.88 104.98L287.28 107.33L282.88 109.68ZM285.59 108.81L289.99 111.16L285.59 113.51ZM288.30 112.78L292.70 115.13L288.30 117.48ZM291.01 116.88L295.41 119.23L291.01 121.58ZM293.72 121.08L298.12 123.43L293.72 125.78ZM296.43 125.36L300.83 127.71L296.43 130.06ZM299.14 129.71L303.54 132.06L299.14 134.41ZM301.85 134.09L306.25 136.44L301.85 138.79ZM304.55 138.49L308.95 140.84L304.55 143.19ZM307.26 142.87L311.66 145.22L307.26 147.57ZM309.97 147.21L314.37 149.56L309.97 151.91ZM312.68 151.50L317.08 153.85L312.68 156.20ZM315.39 155.71L319.79 158.06L315.39 160.41ZM318.10 159.83L322.50 162.18L318.10 164.53Z"/>
</g>
<rect x="49.50" y="13.50" width="281.00" height="232.00" fill="none" stroke="#262626" stroke-width="1.1"/>
<path stroke="#262626" stroke-width="1" d="M49.50 236.58h3.1M330.50 236.58h-3.1M49.50 206.83h3.1M330.50 206.83h-3.1M49.50 177.09h3.1M330.50 177.09h-3.1M49.50 147.35h3.1M330.50 147.35h-3.1M49.50 117.60h3.1M330.50 117.60h-3.1M49.50 87.86h3.1M330.50 87.86h-3.1M49.50 58.12h3.1M330.50 58.12h-3.1M49.50 28.37h3.1M330.50 28.37h-3.1M49.50 245.50v-3.0M49.50 13.50v3.0M82.01 245.50v-1.7M82.01 13.50v1.7M101.02 245.50v-1.7M101.02 13.50v1.7M114.52 245.50v-1.7M114.52 13.50v1.7M124.98 245.50v-1.7M124.98 13.50v1.7M133.53 245.50v-1.7M133.53 13.50v1.7M140.76 245.50v-1.7M140.76 13.50v1.7M147.03 245.50v-1.7M147.03 13.50v1.7M152.55 245.50v-1.7M152.55 13.50v1.7M157.49 245.50v-3.0M157.49 13.50v3.0M190.00 245.50v-1.7M190.00 13.50v1.7M209.02 245.50v-1.7M209.02 13.50v1.7M222.51 245.50v-1.7M222.51 13.50v1.7M232.97 245.50v-1.7M232.97 13.50v1.7M241.52 245.50v-1.7M241.52 13.50v1.7M248.75 245.50v-1.7M248.75 13.50v1.7M255.02 245.50v-1.7M255.02 13.50v1.7M260.54 245.50v-1.7M260.54 13.50v1.7M265.48 245.50v-3.0M265.48 13.50v3.0M297.99 245.50v-1.7M297.99 13.50v1.7M317.01 245.50v-1.7M317.01 13.50v1.7M330.50 245.50v-1.7M330.50 13.50v1.7"/>
<text x="34.69" y="241.18" class="t">0</text>
<text x="26.43" y="211.43" class="t">0.1</text>
<text x="26.43" y="181.69" class="t">0.2</text>
<text x="26.43" y="151.95" class="t">0.3</text>
<text x="26.43" y="122.20" class="t">0.4</text>
<text x="26.43" y="92.46" class="t">0.5</text>
<text x="26.43" y="62.72" class="t">0.6</text>
<text x="26.43" y="32.97" class="t">0.7</text>
<text x="36.63" y="263.60" class="t">10</text>
<text x="52.88" y="258.70" class="s">2</text>
<text x="147.88" y="263.60" class="t">10</text>
<text x="161.08" y="258.50" class="s">3</text>
<text x="252.83" y="263.60" class="t">10</text>
<text x="266.88" y="257.00" class="s">4</text>
<text x="189.80" y="283.65" text-anchor="middle" class="f">Frequency [kHz]</text>
<text transform="translate(11.20,124.55) rotate(-90)" text-anchor="middle" class="f">Reflection coefficient</text>
<text x="0.5" y="15.9" class="p">(a)</text>
<g clip-path="url(#cb)">
<polyline fill="none" stroke="#ff00ff" stroke-width="1.2" stroke-dasharray="7.6 4.5" points="405.30,16.26 408.01,16.57 410.72,16.91 413.44,17.29 416.15,17.70 418.86,18.15 421.57,18.64 424.28,19.18 427.00,19.78 429.71,20.44 432.42,21.16 435.13,21.95 437.85,22.82 440.56,23.78 443.27,24.83 445.98,25.98 448.69,27.24 451.41,28.61 454.12,30.12 456.83,31.76 459.54,33.54 462.25,35.48 464.97,37.58 467.68,39.86 470.39,42.32 473.10,44.96 475.82,47.81 478.53,50.85 481.24,54.10 483.95,57.56 486.66,61.23 489.38,65.11 492.09,69.20 494.80,73.48 497.51,77.96 500.22,82.62 502.94,87.45 505.65,92.43 508.36,97.55 511.07,102.77 513.78,108.09 516.50,113.47 519.21,118.89 521.92,124.33 524.63,129.75 527.35,135.14 530.06,140.47 532.77,145.72 535.48,150.86 538.19,155.87 540.91,160.74 543.62,165.45 546.33,169.99 549.04,174.34 551.75,178.51 554.47,182.48 557.18,186.25 559.89,189.82 562.60,193.20 565.32,196.37 568.03,199.36 570.74,202.15 573.45,204.76 576.16,207.20 578.88,209.47 581.59,211.57 584.30,213.53 587.01,215.34 589.72,217.02 592.44,218.56 595.15,219.99 597.86,221.31 600.57,222.52 603.28,223.64 606.00,224.66 608.71,225.61 611.42,226.47 614.13,227.27 616.85,228.00 619.56,228.67 622.27,229.28 624.98,229.85 627.69,230.36 630.41,230.84 633.12,231.27 635.83,231.67 638.54,232.04 641.25,232.38 643.97,232.69 646.68,232.98 649.39,233.24 652.10,233.49 654.82,233.71 657.53,233.92 660.24,234.12 662.95,234.30 665.66,234.47 668.38,234.63 671.09,234.78 673.80,234.92"/>
<line x1="402.70" y1="235.84" x2="673.80" y2="235.84" stroke="#333" stroke-width="1.0"/>
<polyline fill="none" stroke="#ff0000" stroke-width="1" points="405.30,32.98 408.01,32.95 410.72,32.93 413.44,32.91 416.15,32.89 418.86,32.87 421.57,32.85 424.28,32.84 427.00,32.83 429.71,32.83 432.42,32.82 435.13,32.82 437.85,32.83 440.56,32.84 443.27,32.85 445.98,32.87 448.69,32.90 451.41,32.93 454.12,32.97 456.83,33.01 459.54,33.07 462.25,33.13 464.97,33.21 467.68,33.30 470.39,33.40 473.10,33.52 475.82,33.66 478.53,33.81 481.24,33.99 483.95,34.20 486.66,34.43 489.38,34.70 492.09,35.00 494.80,35.34 497.51,35.72 500.22,36.16 502.94,36.65 505.65,37.20 508.36,37.82 511.07,38.51 513.78,39.29 516.50,40.16 519.21,41.13 521.92,42.21 524.63,43.41 527.35,44.74 530.06,46.21 532.77,47.83 535.48,49.61 538.19,51.56 540.91,53.69 543.62,56.00 546.33,58.52 549.04,61.24 551.75,64.17 554.47,67.30 557.18,70.66 559.89,74.22 562.60,78.00 565.32,81.98 568.03,86.15 570.74,90.51 573.45,95.04 576.16,99.73 578.88,104.55 581.59,109.48 584.30,114.51 587.01,119.60 589.72,124.74 592.44,129.90 595.15,135.06 597.86,140.19 600.57,145.26 603.28,150.27 606.00,155.18 608.71,159.97 611.42,164.64 614.13,169.16 616.85,173.53 619.56,177.74 622.27,181.77 624.98,185.63 627.69,189.30 630.41,192.79 633.12,196.10 635.83,199.22 638.54,202.17 641.25,204.94 643.97,207.54 646.68,209.98 649.39,212.26 652.10,214.39 654.82,216.37 657.53,218.21 660.24,219.92 662.95,221.51 665.66,222.98 668.38,224.34 671.09,225.59 673.80,226.75"/>
<path fill="none" stroke="#ff0000" stroke-width="1.15" d="M402.70 32.98h5.20M405.30 30.38v5.20M405.41 32.95h5.20M408.01 30.35v5.20M408.12 32.93h5.20M410.72 30.33v5.20M410.84 32.91h5.20M413.44 30.31v5.20M413.55 32.89h5.20M416.15 30.29v5.20M416.26 32.87h5.20M418.86 30.27v5.20M418.97 32.85h5.20M421.57 30.25v5.20M421.68 32.84h5.20M424.28 30.24v5.20M424.40 32.83h5.20M427.00 30.23v5.20M427.11 32.83h5.20M429.71 30.23v5.20M429.82 32.82h5.20M432.42 30.22v5.20M432.53 32.82h5.20M435.13 30.22v5.20M435.25 32.83h5.20M437.85 30.23v5.20M437.96 32.84h5.20M440.56 30.24v5.20M440.67 32.85h5.20M443.27 30.25v5.20M443.38 32.87h5.20M445.98 30.27v5.20M446.09 32.90h5.20M448.69 30.30v5.20M448.81 32.93h5.20M451.41 30.33v5.20M451.52 32.97h5.20M454.12 30.37v5.20M454.23 33.01h5.20M456.83 30.41v5.20M456.94 33.07h5.20M459.54 30.47v5.20M459.65 33.13h5.20M462.25 30.53v5.20M462.37 33.21h5.20M464.97 30.61v5.20M465.08 33.30h5.20M467.68 30.70v5.20M467.79 33.40h5.20M470.39 30.80v5.20M470.50 33.52h5.20M473.10 30.92v5.20M473.22 33.66h5.20M475.82 31.06v5.20M475.93 33.81h5.20M478.53 31.21v5.20M478.64 33.99h5.20M481.24 31.39v5.20M481.35 34.20h5.20M483.95 31.60v5.20M484.06 34.43h5.20M486.66 31.83v5.20M486.78 34.70h5.20M489.38 32.10v5.20M489.49 35.00h5.20M492.09 32.40v5.20M492.20 35.34h5.20M494.80 32.74v5.20M494.91 35.72h5.20M497.51 33.12v5.20M497.62 36.16h5.20M500.22 33.56v5.20M500.34 36.65h5.20M502.94 34.05v5.20M503.05 37.20h5.20M505.65 34.60v5.20M505.76 37.82h5.20M508.36 35.22v5.20M508.47 38.51h5.20M511.07 35.91v5.20M511.18 39.29h5.20M513.78 36.69v5.20M513.90 40.16h5.20M516.50 37.56v5.20M516.61 41.13h5.20M519.21 38.53v5.20M519.32 42.21h5.20M521.92 39.61v5.20M522.03 43.41h5.20M524.63 40.81v5.20M524.75 44.74h5.20M527.35 42.14v5.20M527.46 46.21h5.20M530.06 43.61v5.20M530.17 47.83h5.20M532.77 45.23v5.20M532.88 49.61h5.20M535.48 47.01v5.20M535.59 51.56h5.20M538.19 48.96v5.20M538.31 53.69h5.20M540.91 51.09v5.20M541.02 56.00h5.20M543.62 53.40v5.20M543.73 58.52h5.20M546.33 55.92v5.20M546.44 61.24h5.20M549.04 58.64v5.20M549.15 64.17h5.20M551.75 61.57v5.20M551.87 67.30h5.20M554.47 64.70v5.20M554.58 70.66h5.20M557.18 68.06v5.20M557.29 74.22h5.20M559.89 71.62v5.20M560.00 78.00h5.20M562.60 75.40v5.20M562.72 81.98h5.20M565.32 79.38v5.20M565.43 86.15h5.20M568.03 83.55v5.20M568.14 90.51h5.20M570.74 87.91v5.20M570.85 95.04h5.20M573.45 92.44v5.20M573.56 99.73h5.20M576.16 97.13v5.20M576.28 104.55h5.20M578.88 101.95v5.20M578.99 109.48h5.20M581.59 106.88v5.20M581.70 114.51h5.20M584.30 111.91v5.20M584.41 119.60h5.20M587.01 117.00v5.20M587.12 124.74h5.20M589.72 122.14v5.20M589.84 129.90h5.20M592.44 127.30v5.20M592.55 135.06h5.20M595.15 132.46v5.20M595.26 140.19h5.20M597.86 137.59v5.20M597.97 145.26h5.20M600.57 142.66v5.20M600.68 150.27h5.20M603.28 147.67v5.20M603.40 155.18h5.20M606.00 152.58v5.20M606.11 159.97h5.20M608.71 157.37v5.20M608.82 164.64h5.20M611.42 162.04v5.20M611.53 169.16h5.20M614.13 166.56v5.20M614.25 173.53h5.20M616.85 170.93v5.20M616.96 177.74h5.20M619.56 175.14v5.20M619.67 181.77h5.20M622.27 179.17v5.20M622.38 185.63h5.20M624.98 183.03v5.20M625.09 189.30h5.20M627.69 186.70v5.20M627.81 192.79h5.20M630.41 190.19v5.20M630.52 196.10h5.20M633.12 193.50v5.20M633.23 199.22h5.20M635.83 196.62v5.20M635.94 202.17h5.20M638.54 199.57v5.20M638.65 204.94h5.20M641.25 202.34v5.20M641.37 207.54h5.20M643.97 204.94v5.20M644.08 209.98h5.20M646.68 207.38v5.20M646.79 212.26h5.20M649.39 209.66v5.20M649.50 214.39h5.20M652.10 211.79v5.20M652.22 216.37h5.20M654.82 213.77v5.20M654.93 218.21h5.20M657.53 215.61v5.20M657.64 219.92h5.20M660.24 217.32v5.20M660.35 221.51h5.20M662.95 218.91v5.20M663.06 222.98h5.20M665.66 220.38v5.20M665.78 224.34h5.20M668.38 221.74v5.20M668.49 225.59h5.20M671.09 222.99v5.20M671.20 226.75h5.20M673.80 224.15v5.20"/>
<polyline fill="none" stroke="#00ff00" stroke-width="1" points="405.30,44.39 408.01,44.40 410.72,44.42 413.44,44.43 416.15,44.44 418.86,44.45 421.57,44.46 424.28,44.47 427.00,44.48 429.71,44.49 432.42,44.50 435.13,44.51 437.85,44.52 440.56,44.53 443.27,44.55 445.98,44.56 448.69,44.57 451.41,44.59 454.12,44.61 456.83,44.63 459.54,44.66 462.25,44.69 464.97,44.72 467.68,44.76 470.39,44.80 473.10,44.85 475.82,44.91 478.53,44.97 481.24,45.05 483.95,45.13 486.66,45.23 489.38,45.34 492.09,45.46 494.80,45.60 497.51,45.75 500.22,45.92 502.94,46.12 505.65,46.34 508.36,46.59 511.07,46.86 513.78,47.17 516.50,47.52 519.21,47.90 521.92,48.33 524.63,48.81 527.35,49.34 530.06,49.94 532.77,50.59 535.48,51.32 538.19,52.13 540.91,53.03 543.62,54.01 546.33,55.11 549.04,56.31 551.75,57.63 554.47,59.10 557.18,60.72 559.89,62.50 562.60,64.47 565.32,66.62 568.03,68.95 570.74,71.47 573.45,74.16 576.16,77.04 578.88,80.09 581.59,83.31 584.30,86.70 587.01,90.26 589.72,94.01 592.44,97.97 595.15,102.14 597.86,106.54 600.57,111.15 603.28,115.94 606.00,120.89 608.71,125.95 611.42,131.10 614.13,136.31 616.85,141.52 619.56,146.71 622.27,151.84 624.98,156.89 627.69,161.82 630.41,166.61 633.12,171.23 635.83,175.67 638.54,179.92 641.25,183.95 643.97,187.77 646.68,191.38 649.39,194.77 652.10,197.95 654.82,200.92 657.53,203.70 660.24,206.28 662.95,208.69 665.66,210.93 668.38,213.02 671.09,214.97 673.80,216.79"/>
<path fill="none" stroke="#00ff00" stroke-width="1.15" d="M403.20 42.29l4.20 4.20M403.20 46.49l4.20 -4.20M405.91 42.30l4.20 4.20M405.91 46.50l4.20 -4.20M408.62 42.32l4.20 4.20M408.62 46.52l4.20 -4.20M411.34 42.33l4.20 4.20M411.34 46.53l4.20 -4.20M414.05 42.34l4.20 4.20M414.05 46.54l4.20 -4.20M416.76 42.35l4.20 4.20M416.76 46.55l4.20 -4.20M419.47 42.36l4.20 4.20M419.47 46.56l4.20 -4.20M422.18 42.37l4.20 4.20M422.18 46.57l4.20 -4.20M424.90 42.38l4.20 4.20M424.90 46.58l4.20 -4.20M427.61 42.39l4.20 4.20M427.61 46.59l4.20 -4.20M430.32 42.40l4.20 4.20M430.32 46.60l4.20 -4.20M433.03 42.41l4.20 4.20M433.03 46.61l4.20 -4.20M435.75 42.42l4.20 4.20M435.75 46.62l4.20 -4.20M438.46 42.43l4.20 4.20M438.46 46.63l4.20 -4.20M441.17 42.45l4.20 4.20M441.17 46.65l4.20 -4.20M443.88 42.46l4.20 4.20M443.88 46.66l4.20 -4.20M446.59 42.47l4.20 4.20M446.59 46.67l4.20 -4.20M449.31 42.49l4.20 4.20M449.31 46.69l4.20 -4.20M452.02 42.51l4.20 4.20M452.02 46.71l4.20 -4.20M454.73 42.53l4.20 4.20M454.73 46.73l4.20 -4.20M457.44 42.56l4.20 4.20M457.44 46.76l4.20 -4.20M460.15 42.59l4.20 4.20M460.15 46.79l4.20 -4.20M462.87 42.62l4.20 4.20M462.87 46.82l4.20 -4.20M465.58 42.66l4.20 4.20M465.58 46.86l4.20 -4.20M468.29 42.70l4.20 4.20M468.29 46.90l4.20 -4.20M471.00 42.75l4.20 4.20M471.00 46.95l4.20 -4.20M473.72 42.81l4.20 4.20M473.72 47.01l4.20 -4.20M476.43 42.87l4.20 4.20M476.43 47.07l4.20 -4.20M479.14 42.95l4.20 4.20M479.14 47.15l4.20 -4.20M481.85 43.03l4.20 4.20M481.85 47.23l4.20 -4.20M484.56 43.13l4.20 4.20M484.56 47.33l4.20 -4.20M487.28 43.24l4.20 4.20M487.28 47.44l4.20 -4.20M489.99 43.36l4.20 4.20M489.99 47.56l4.20 -4.20M492.70 43.50l4.20 4.20M492.70 47.70l4.20 -4.20M495.41 43.65l4.20 4.20M495.41 47.85l4.20 -4.20M498.12 43.82l4.20 4.20M498.12 48.02l4.20 -4.20M500.84 44.02l4.20 4.20M500.84 48.22l4.20 -4.20M503.55 44.24l4.20 4.20M503.55 48.44l4.20 -4.20M506.26 44.49l4.20 4.20M506.26 48.69l4.20 -4.20M508.97 44.76l4.20 4.20M508.97 48.96l4.20 -4.20M511.68 45.07l4.20 4.20M511.68 49.27l4.20 -4.20M514.40 45.42l4.20 4.20M514.40 49.62l4.20 -4.20M517.11 45.80l4.20 4.20M517.11 50.00l4.20 -4.20M519.82 46.23l4.20 4.20M519.82 50.43l4.20 -4.20M522.53 46.71l4.20 4.20M522.53 50.91l4.20 -4.20M525.25 47.24l4.20 4.20M525.25 51.44l4.20 -4.20M527.96 47.84l4.20 4.20M527.96 52.04l4.20 -4.20M530.67 48.49l4.20 4.20M530.67 52.69l4.20 -4.20M533.38 49.22l4.20 4.20M533.38 53.42l4.20 -4.20M536.09 50.03l4.20 4.20M536.09 54.23l4.20 -4.20M538.81 50.93l4.20 4.20M538.81 55.13l4.20 -4.20M541.52 51.91l4.20 4.20M541.52 56.11l4.20 -4.20M544.23 53.01l4.20 4.20M544.23 57.21l4.20 -4.20M546.94 54.21l4.20 4.20M546.94 58.41l4.20 -4.20M549.65 55.53l4.20 4.20M549.65 59.73l4.20 -4.20M552.37 57.00l4.20 4.20M552.37 61.20l4.20 -4.20M555.08 58.62l4.20 4.20M555.08 62.82l4.20 -4.20M557.79 60.40l4.20 4.20M557.79 64.60l4.20 -4.20M560.50 62.37l4.20 4.20M560.50 66.57l4.20 -4.20M563.22 64.52l4.20 4.20M563.22 68.72l4.20 -4.20M565.93 66.85l4.20 4.20M565.93 71.05l4.20 -4.20M568.64 69.37l4.20 4.20M568.64 73.57l4.20 -4.20M571.35 72.06l4.20 4.20M571.35 76.26l4.20 -4.20M574.06 74.94l4.20 4.20M574.06 79.14l4.20 -4.20M576.78 77.99l4.20 4.20M576.78 82.19l4.20 -4.20M579.49 81.21l4.20 4.20M579.49 85.41l4.20 -4.20M582.20 84.60l4.20 4.20M582.20 88.80l4.20 -4.20M584.91 88.16l4.20 4.20M584.91 92.36l4.20 -4.20M587.62 91.91l4.20 4.20M587.62 96.11l4.20 -4.20M590.34 95.87l4.20 4.20M590.34 100.07l4.20 -4.20M593.05 100.04l4.20 4.20M593.05 104.24l4.20 -4.20M595.76 104.44l4.20 4.20M595.76 108.64l4.20 -4.20M598.47 109.05l4.20 4.20M598.47 113.25l4.20 -4.20M601.18 113.84l4.20 4.20M601.18 118.04l4.20 -4.20M603.90 118.79l4.20 4.20M603.90 122.99l4.20 -4.20M606.61 123.85l4.20 4.20M606.61 128.05l4.20 -4.20M609.32 129.00l4.20 4.20M609.32 133.20l4.20 -4.20M612.03 134.21l4.20 4.20M612.03 138.41l4.20 -4.20M614.75 139.42l4.20 4.20M614.75 143.62l4.20 -4.20M617.46 144.61l4.20 4.20M617.46 148.81l4.20 -4.20M620.17 149.74l4.20 4.20M620.17 153.94l4.20 -4.20M622.88 154.79l4.20 4.20M622.88 158.99l4.20 -4.20M625.59 159.72l4.20 4.20M625.59 163.92l4.20 -4.20M628.31 164.51l4.20 4.20M628.31 168.71l4.20 -4.20M631.02 169.13l4.20 4.20M631.02 173.33l4.20 -4.20M633.73 173.57l4.20 4.20M633.73 177.77l4.20 -4.20M636.44 177.82l4.20 4.20M636.44 182.02l4.20 -4.20M639.15 181.85l4.20 4.20M639.15 186.05l4.20 -4.20M641.87 185.67l4.20 4.20M641.87 189.87l4.20 -4.20M644.58 189.28l4.20 4.20M644.58 193.48l4.20 -4.20M647.29 192.67l4.20 4.20M647.29 196.87l4.20 -4.20M650.00 195.85l4.20 4.20M650.00 200.05l4.20 -4.20M652.72 198.82l4.20 4.20M652.72 203.02l4.20 -4.20M655.43 201.60l4.20 4.20M655.43 205.80l4.20 -4.20M658.14 204.18l4.20 4.20M658.14 208.38l4.20 -4.20M660.85 206.59l4.20 4.20M660.85 210.79l4.20 -4.20M663.56 208.83l4.20 4.20M663.56 213.03l4.20 -4.20M666.28 210.92l4.20 4.20M666.28 215.12l4.20 -4.20M668.99 212.87l4.20 4.20M668.99 217.07l4.20 -4.20M671.70 214.69l4.20 4.20M671.70 218.89l4.20 -4.20"/>
<polyline fill="none" stroke="#0000ff" stroke-width="1" points="405.30,54.01 408.01,54.04 410.72,54.06 413.44,54.08 416.15,54.10 418.86,54.12 421.57,54.14 424.28,54.16 427.00,54.18 429.71,54.20 432.42,54.22 435.13,54.24 437.85,54.26 440.56,54.28 443.27,54.30 445.98,54.32 448.69,54.34 451.41,54.36 454.12,54.38 456.83,54.40 459.54,54.43 462.25,54.45 464.97,54.48 467.68,54.50 470.39,54.53 473.10,54.57 475.82,54.60 478.53,54.64 481.24,54.69 483.95,54.73 486.66,54.79 489.38,54.85 492.09,54.91 494.80,54.99 497.51,55.07 500.22,55.16 502.94,55.26 505.65,55.38 508.36,55.51 511.07,55.65 513.78,55.82 516.50,56.00 519.21,56.21 521.92,56.44 524.63,56.70 527.35,56.99 530.06,57.32 532.77,57.69 535.48,58.10 538.19,58.57 540.91,59.08 543.62,59.66 546.33,60.30 549.04,61.02 551.75,61.81 554.47,62.70 557.18,63.68 559.89,64.76 562.60,65.96 565.32,67.28 568.03,68.73 570.74,70.32 573.45,72.06 576.16,73.96 578.88,76.02 581.59,78.26 584.30,80.68 587.01,83.28 589.72,86.07 592.44,89.05 595.15,92.23 597.86,95.59 600.57,99.14 603.28,102.88 606.00,106.78 608.71,110.84 611.42,115.05 614.13,119.39 616.85,123.84 619.56,128.38 622.27,133.00 624.98,137.67 627.69,142.36 630.41,147.06 633.12,151.74 635.83,156.38 638.54,160.96 641.25,165.46 643.97,169.85 646.68,174.14 649.39,178.29 652.10,182.31 654.82,186.17 657.53,189.88 660.24,193.42 662.95,196.79 665.66,200.00 668.38,203.03 671.09,205.89 673.80,208.59"/>
<path fill="none" stroke="#0000ff" stroke-width="1.15" d="M402.60 54.01h5.40M405.30 51.31v5.40M403.35 52.06l3.90 3.90M403.35 55.96l3.90 -3.90M405.31 54.04h5.40M408.01 51.34v5.40M406.06 52.09l3.90 3.90M406.06 55.99l3.90 -3.90M408.02 54.06h5.40M410.72 51.36v5.40M408.77 52.11l3.90 3.90M408.77 56.01l3.90 -3.90M410.74 54.08h5.40M413.44 51.38v5.40M411.49 52.13l3.90 3.90M411.49 56.03l3.90 -3.90M413.45 54.10h5.40M416.15 51.40v5.40M414.20 52.15l3.90 3.90M414.20 56.05l3.90 -3.90M416.16 54.12h5.40M418.86 51.42v5.40M416.91 52.17l3.90 3.90M416.91 56.07l3.90 -3.90M418.87 54.14h5.40M421.57 51.44v5.40M419.62 52.19l3.90 3.90M419.62 56.09l3.90 -3.90M421.58 54.16h5.40M424.28 51.46v5.40M422.33 52.21l3.90 3.90M422.33 56.11l3.90 -3.90M424.30 54.18h5.40M427.00 51.48v5.40M425.05 52.23l3.90 3.90M425.05 56.13l3.90 -3.90M427.01 54.20h5.40M429.71 51.50v5.40M427.76 52.25l3.90 3.90M427.76 56.15l3.90 -3.90M429.72 54.22h5.40M432.42 51.52v5.40M430.47 52.27l3.90 3.90M430.47 56.17l3.90 -3.90M432.43 54.24h5.40M435.13 51.54v5.40M433.18 52.29l3.90 3.90M433.18 56.19l3.90 -3.90M435.15 54.26h5.40M437.85 51.56v5.40M435.90 52.31l3.90 3.90M435.90 56.21l3.90 -3.90M437.86 54.28h5.40M440.56 51.58v5.40M438.61 52.33l3.90 3.90M438.61 56.23l3.90 -3.90M440.57 54.30h5.40M443.27 51.60v5.40M441.32 52.35l3.90 3.90M441.32 56.25l3.90 -3.90M443.28 54.32h5.40M445.98 51.62v5.40M444.03 52.37l3.90 3.90M444.03 56.27l3.90 -3.90M445.99 54.34h5.40M448.69 51.64v5.40M446.74 52.39l3.90 3.90M446.74 56.29l3.90 -3.90M448.71 54.36h5.40M451.41 51.66v5.40M449.46 52.41l3.90 3.90M449.46 56.31l3.90 -3.90M451.42 54.38h5.40M454.12 51.68v5.40M452.17 52.43l3.90 3.90M452.17 56.33l3.90 -3.90M454.13 54.40h5.40M456.83 51.70v5.40M454.88 52.45l3.90 3.90M454.88 56.35l3.90 -3.90M456.84 54.43h5.40M459.54 51.73v5.40M457.59 52.48l3.90 3.90M457.59 56.38l3.90 -3.90M459.55 54.45h5.40M462.25 51.75v5.40M460.30 52.50l3.90 3.90M460.30 56.40l3.90 -3.90M462.27 54.48h5.40M464.97 51.78v5.40M463.02 52.53l3.90 3.90M463.02 56.43l3.90 -3.90M464.98 54.50h5.40M467.68 51.80v5.40M465.73 52.55l3.90 3.90M465.73 56.45l3.90 -3.90M467.69 54.53h5.40M470.39 51.83v5.40M468.44 52.58l3.90 3.90M468.44 56.48l3.90 -3.90M470.40 54.57h5.40M473.10 51.87v5.40M471.15 52.62l3.90 3.90M471.15 56.52l3.90 -3.90M473.12 54.60h5.40M475.82 51.90v5.40M473.87 52.65l3.90 3.90M473.87 56.55l3.90 -3.90M475.83 54.64h5.40M478.53 51.94v5.40M476.58 52.69l3.90 3.90M476.58 56.59l3.90 -3.90M478.54 54.69h5.40M481.24 51.99v5.40M479.29 52.74l3.90 3.90M479.29 56.64l3.90 -3.90M481.25 54.73h5.40M483.95 52.03v5.40M482.00 52.78l3.90 3.90M482.00 56.68l3.90 -3.90M483.96 54.79h5.40M486.66 52.09v5.40M484.71 52.84l3.90 3.90M484.71 56.74l3.90 -3.90M486.68 54.85h5.40M489.38 52.15v5.40M487.43 52.90l3.90 3.90M487.43 56.80l3.90 -3.90M489.39 54.91h5.40M492.09 52.21v5.40M490.14 52.96l3.90 3.90M490.14 56.86l3.90 -3.90M492.10 54.99h5.40M494.80 52.29v5.40M492.85 53.04l3.90 3.90M492.85 56.94l3.90 -3.90M494.81 55.07h5.40M497.51 52.37v5.40M495.56 53.12l3.90 3.90M495.56 57.02l3.90 -3.90M497.52 55.16h5.40M500.22 52.46v5.40M498.27 53.21l3.90 3.90M498.27 57.11l3.90 -3.90M500.24 55.26h5.40M502.94 52.56v5.40M500.99 53.31l3.90 3.90M500.99 57.21l3.90 -3.90M502.95 55.38h5.40M505.65 52.68v5.40M503.70 53.43l3.90 3.90M503.70 57.33l3.90 -3.90M505.66 55.51h5.40M508.36 52.81v5.40M506.41 53.56l3.90 3.90M506.41 57.46l3.90 -3.90M508.37 55.65h5.40M511.07 52.95v5.40M509.12 53.70l3.90 3.90M509.12 57.60l3.90 -3.90M511.08 55.82h5.40M513.78 53.12v5.40M511.83 53.87l3.90 3.90M511.83 57.77l3.90 -3.90M513.80 56.00h5.40M516.50 53.30v5.40M514.55 54.05l3.90 3.90M514.55 57.95l3.90 -3.90M516.51 56.21h5.40M519.21 53.51v5.40M517.26 54.26l3.90 3.90M517.26 58.16l3.90 -3.90M519.22 56.44h5.40M521.92 53.74v5.40M519.97 54.49l3.90 3.90M519.97 58.39l3.90 -3.90M521.93 56.70h5.40M524.63 54.00v5.40M522.68 54.75l3.90 3.90M522.68 58.65l3.90 -3.90M524.65 56.99h5.40M527.35 54.29v5.40M525.40 55.04l3.90 3.90M525.40 58.94l3.90 -3.90M527.36 57.32h5.40M530.06 54.62v5.40M528.11 55.37l3.90 3.90M528.11 59.27l3.90 -3.90M530.07 57.69h5.40M532.77 54.99v5.40M530.82 55.74l3.90 3.90M530.82 59.64l3.90 -3.90M532.78 58.10h5.40M535.48 55.40v5.40M533.53 56.15l3.90 3.90M533.53 60.05l3.90 -3.90M535.49 58.57h5.40M538.19 55.87v5.40M536.24 56.62l3.90 3.90M536.24 60.52l3.90 -3.90M538.21 59.08h5.40M540.91 56.38v5.40M538.96 57.13l3.90 3.90M538.96 61.03l3.90 -3.90M540.92 59.66h5.40M543.62 56.96v5.40M541.67 57.71l3.90 3.90M541.67 61.61l3.90 -3.90M543.63 60.30h5.40M546.33 57.60v5.40M544.38 58.35l3.90 3.90M544.38 62.25l3.90 -3.90M546.34 61.02h5.40M549.04 58.32v5.40M547.09 59.07l3.90 3.90M547.09 62.97l3.90 -3.90M549.05 61.81h5.40M551.75 59.11v5.40M549.80 59.86l3.90 3.90M549.80 63.76l3.90 -3.90M551.77 62.70h5.40M554.47 60.00v5.40M552.52 60.75l3.90 3.90M552.52 64.65l3.90 -3.90M554.48 63.68h5.40M557.18 60.98v5.40M555.23 61.73l3.90 3.90M555.23 65.63l3.90 -3.90M557.19 64.76h5.40M559.89 62.06v5.40M557.94 62.81l3.90 3.90M557.94 66.71l3.90 -3.90M559.90 65.96h5.40M562.60 63.26v5.40M560.65 64.01l3.90 3.90M560.65 67.91l3.90 -3.90M562.62 67.28h5.40M565.32 64.58v5.40M563.37 65.33l3.90 3.90M563.37 69.23l3.90 -3.90M565.33 68.73h5.40M568.03 66.03v5.40M566.08 66.78l3.90 3.90M566.08 70.68l3.90 -3.90M568.04 70.32h5.40M570.74 67.62v5.40M568.79 68.37l3.90 3.90M568.79 72.27l3.90 -3.90M570.75 72.06h5.40M573.45 69.36v5.40M571.50 70.11l3.90 3.90M571.50 74.01l3.90 -3.90M573.46 73.96h5.40M576.16 71.26v5.40M574.21 72.01l3.90 3.90M574.21 75.91l3.90 -3.90M576.18 76.02h5.40M578.88 73.32v5.40M576.93 74.07l3.90 3.90M576.93 77.97l3.90 -3.90M578.89 78.26h5.40M581.59 75.56v5.40M579.64 76.31l3.90 3.90M579.64 80.21l3.90 -3.90M581.60 80.68h5.40M584.30 77.98v5.40M582.35 78.73l3.90 3.90M582.35 82.63l3.90 -3.90M584.31 83.28h5.40M587.01 80.58v5.40M585.06 81.33l3.90 3.90M585.06 85.23l3.90 -3.90M587.02 86.07h5.40M589.72 83.37v5.40M587.77 84.12l3.90 3.90M587.77 88.02l3.90 -3.90M589.74 89.05h5.40M592.44 86.35v5.40M590.49 87.10l3.90 3.90M590.49 91.00l3.90 -3.90M592.45 92.23h5.40M595.15 89.53v5.40M593.20 90.28l3.90 3.90M593.20 94.18l3.90 -3.90M595.16 95.59h5.40M597.86 92.89v5.40M595.91 93.64l3.90 3.90M595.91 97.54l3.90 -3.90M597.87 99.14h5.40M600.57 96.44v5.40M598.62 97.19l3.90 3.90M598.62 101.09l3.90 -3.90M600.58 102.88h5.40M603.28 100.18v5.40M601.33 100.93l3.90 3.90M601.33 104.83l3.90 -3.90M603.30 106.78h5.40M606.00 104.08v5.40M604.05 104.83l3.90 3.90M604.05 108.73l3.90 -3.90M606.01 110.84h5.40M608.71 108.14v5.40M606.76 108.89l3.90 3.90M606.76 112.79l3.90 -3.90M608.72 115.05h5.40M611.42 112.35v5.40M609.47 113.10l3.90 3.90M609.47 117.00l3.90 -3.90M611.43 119.39h5.40M614.13 116.69v5.40M612.18 117.44l3.90 3.90M612.18 121.34l3.90 -3.90M614.15 123.84h5.40M616.85 121.14v5.40M614.90 121.89l3.90 3.90M614.90 125.79l3.90 -3.90M616.86 128.38h5.40M619.56 125.68v5.40M617.61 126.43l3.90 3.90M617.61 130.33l3.90 -3.90M619.57 133.00h5.40M622.27 130.30v5.40M620.32 131.05l3.90 3.90M620.32 134.95l3.90 -3.90M622.28 137.67h5.40M624.98 134.97v5.40M623.03 135.72l3.90 3.90M623.03 139.62l3.90 -3.90M624.99 142.36h5.40M627.69 139.66v5.40M625.74 140.41l3.90 3.90M625.74 144.31l3.90 -3.90M627.71 147.06h5.40M630.41 144.36v5.40M628.46 145.11l3.90 3.90M628.46 149.01l3.90 -3.90M630.42 151.74h5.40M633.12 149.04v5.40M631.17 149.79l3.90 3.90M631.17 153.69l3.90 -3.90M633.13 156.38h5.40M635.83 153.68v5.40M633.88 154.43l3.90 3.90M633.88 158.33l3.90 -3.90M635.84 160.96h5.40M638.54 158.26v5.40M636.59 159.01l3.90 3.90M636.59 162.91l3.90 -3.90M638.55 165.46h5.40M641.25 162.76v5.40M639.30 163.51l3.90 3.90M639.30 167.41l3.90 -3.90M641.27 169.85h5.40M643.97 167.15v5.40M642.02 167.90l3.90 3.90M642.02 171.80l3.90 -3.90M643.98 174.14h5.40M646.68 171.44v5.40M644.73 172.19l3.90 3.90M644.73 176.09l3.90 -3.90M646.69 178.29h5.40M649.39 175.59v5.40M647.44 176.34l3.90 3.90M647.44 180.24l3.90 -3.90M649.40 182.31h5.40M652.10 179.61v5.40M650.15 180.36l3.90 3.90M650.15 184.26l3.90 -3.90M652.12 186.17h5.40M654.82 183.47v5.40M652.87 184.22l3.90 3.90M652.87 188.12l3.90 -3.90M654.83 189.88h5.40M657.53 187.18v5.40M655.58 187.93l3.90 3.90M655.58 191.83l3.90 -3.90M657.54 193.42h5.40M660.24 190.72v5.40M658.29 191.47l3.90 3.90M658.29 195.37l3.90 -3.90M660.25 196.79h5.40M662.95 194.09v5.40M661.00 194.84l3.90 3.90M661.00 198.74l3.90 -3.90M662.96 200.00h5.40M665.66 197.30v5.40M663.71 198.05l3.90 3.90M663.71 201.95l3.90 -3.90M665.68 203.03h5.40M668.38 200.33v5.40M666.43 201.08l3.90 3.90M666.43 204.98l3.90 -3.90M668.39 205.89h5.40M671.09 203.19v5.40M669.14 203.94l3.90 3.90M669.14 207.84l3.90 -3.90M671.10 208.59h5.40M673.80 205.89v5.40M671.85 206.64l3.90 3.90M671.85 210.54l3.90 -3.90"/>
<polyline fill="none" stroke="#0072bd" stroke-width="1" points="405.30,63.37 408.01,63.40 410.72,63.44 413.44,63.47 416.15,63.50 418.86,63.53 421.57,63.57 424.28,63.60 427.00,63.62 429.71,63.65 432.42,63.68 435.13,63.71 437.85,63.73 440.56,63.76 443.27,63.78 445.98,63.80 448.69,63.83 451.41,63.85 454.12,63.87 456.83,63.89 459.54,63.91 462.25,63.94 464.97,63.96 467.68,63.98 470.39,64.00 473.10,64.02 475.82,64.04 478.53,64.07 481.24,64.09 483.95,64.12 486.66,64.14 489.38,64.17 492.09,64.20 494.80,64.24 497.51,64.28 500.22,64.32 502.94,64.36 505.65,64.42 508.36,64.47 511.07,64.54 513.78,64.61 516.50,64.70 519.21,64.79 521.92,64.90 524.63,65.02 527.35,65.16 530.06,65.32 532.77,65.51 535.48,65.71 538.19,65.95 540.91,66.22 543.62,66.53 546.33,66.88 549.04,67.27 551.75,67.72 554.47,68.23 557.18,68.81 559.89,69.45 562.60,70.19 565.32,71.01 568.03,71.93 570.74,72.96 573.45,74.11 576.16,75.40 578.88,76.82 581.59,78.39 584.30,80.13 587.01,82.03 589.72,84.11 592.44,86.39 595.15,88.85 597.86,91.52 600.57,94.38 603.28,97.45 606.00,100.72 608.71,104.19 611.42,107.84 614.13,111.68 616.85,115.68 619.56,119.83 622.27,124.12 624.98,128.51 627.69,133.00 630.41,137.56 633.12,142.16 635.83,146.77 638.54,151.38 641.25,155.96 643.97,160.49 646.68,164.95 649.39,169.31 652.10,173.56 654.82,177.68 657.53,181.66 660.24,185.49 662.95,189.16 665.66,192.67 668.38,196.00 671.09,199.17 673.80,202.16"/>
<g fill="none" stroke="#0072bd" stroke-width="1.1"><circle cx="405.30" cy="63.37" r="2.15"/><circle cx="408.01" cy="63.40" r="2.15"/><circle cx="410.72" cy="63.44" r="2.15"/><circle cx="413.44" cy="63.47" r="2.15"/><circle cx="416.15" cy="63.50" r="2.15"/><circle cx="418.86" cy="63.53" r="2.15"/><circle cx="421.57" cy="63.57" r="2.15"/><circle cx="424.28" cy="63.60" r="2.15"/><circle cx="427.00" cy="63.62" r="2.15"/><circle cx="429.71" cy="63.65" r="2.15"/><circle cx="432.42" cy="63.68" r="2.15"/><circle cx="435.13" cy="63.71" r="2.15"/><circle cx="437.85" cy="63.73" r="2.15"/><circle cx="440.56" cy="63.76" r="2.15"/><circle cx="443.27" cy="63.78" r="2.15"/><circle cx="445.98" cy="63.80" r="2.15"/><circle cx="448.69" cy="63.83" r="2.15"/><circle cx="451.41" cy="63.85" r="2.15"/><circle cx="454.12" cy="63.87" r="2.15"/><circle cx="456.83" cy="63.89" r="2.15"/><circle cx="459.54" cy="63.91" r="2.15"/><circle cx="462.25" cy="63.94" r="2.15"/><circle cx="464.97" cy="63.96" r="2.15"/><circle cx="467.68" cy="63.98" r="2.15"/><circle cx="470.39" cy="64.00" r="2.15"/><circle cx="473.10" cy="64.02" r="2.15"/><circle cx="475.82" cy="64.04" r="2.15"/><circle cx="478.53" cy="64.07" r="2.15"/><circle cx="481.24" cy="64.09" r="2.15"/><circle cx="483.95" cy="64.12" r="2.15"/><circle cx="486.66" cy="64.14" r="2.15"/><circle cx="489.38" cy="64.17" r="2.15"/><circle cx="492.09" cy="64.20" r="2.15"/><circle cx="494.80" cy="64.24" r="2.15"/><circle cx="497.51" cy="64.28" r="2.15"/><circle cx="500.22" cy="64.32" r="2.15"/><circle cx="502.94" cy="64.36" r="2.15"/><circle cx="505.65" cy="64.42" r="2.15"/><circle cx="508.36" cy="64.47" r="2.15"/><circle cx="511.07" cy="64.54" r="2.15"/><circle cx="513.78" cy="64.61" r="2.15"/><circle cx="516.50" cy="64.70" r="2.15"/><circle cx="519.21" cy="64.79" r="2.15"/><circle cx="521.92" cy="64.90" r="2.15"/><circle cx="524.63" cy="65.02" r="2.15"/><circle cx="527.35" cy="65.16" r="2.15"/><circle cx="530.06" cy="65.32" r="2.15"/><circle cx="532.77" cy="65.51" r="2.15"/><circle cx="535.48" cy="65.71" r="2.15"/><circle cx="538.19" cy="65.95" r="2.15"/><circle cx="540.91" cy="66.22" r="2.15"/><circle cx="543.62" cy="66.53" r="2.15"/><circle cx="546.33" cy="66.88" r="2.15"/><circle cx="549.04" cy="67.27" r="2.15"/><circle cx="551.75" cy="67.72" r="2.15"/><circle cx="554.47" cy="68.23" r="2.15"/><circle cx="557.18" cy="68.81" r="2.15"/><circle cx="559.89" cy="69.45" r="2.15"/><circle cx="562.60" cy="70.19" r="2.15"/><circle cx="565.32" cy="71.01" r="2.15"/><circle cx="568.03" cy="71.93" r="2.15"/><circle cx="570.74" cy="72.96" r="2.15"/><circle cx="573.45" cy="74.11" r="2.15"/><circle cx="576.16" cy="75.40" r="2.15"/><circle cx="578.88" cy="76.82" r="2.15"/><circle cx="581.59" cy="78.39" r="2.15"/><circle cx="584.30" cy="80.13" r="2.15"/><circle cx="587.01" cy="82.03" r="2.15"/><circle cx="589.72" cy="84.11" r="2.15"/><circle cx="592.44" cy="86.39" r="2.15"/><circle cx="595.15" cy="88.85" r="2.15"/><circle cx="597.86" cy="91.52" r="2.15"/><circle cx="600.57" cy="94.38" r="2.15"/><circle cx="603.28" cy="97.45" r="2.15"/><circle cx="606.00" cy="100.72" r="2.15"/><circle cx="608.71" cy="104.19" r="2.15"/><circle cx="611.42" cy="107.84" r="2.15"/><circle cx="614.13" cy="111.68" r="2.15"/><circle cx="616.85" cy="115.68" r="2.15"/><circle cx="619.56" cy="119.83" r="2.15"/><circle cx="622.27" cy="124.12" r="2.15"/><circle cx="624.98" cy="128.51" r="2.15"/><circle cx="627.69" cy="133.00" r="2.15"/><circle cx="630.41" cy="137.56" r="2.15"/><circle cx="633.12" cy="142.16" r="2.15"/><circle cx="635.83" cy="146.77" r="2.15"/><circle cx="638.54" cy="151.38" r="2.15"/><circle cx="641.25" cy="155.96" r="2.15"/><circle cx="643.97" cy="160.49" r="2.15"/><circle cx="646.68" cy="164.95" r="2.15"/><circle cx="649.39" cy="169.31" r="2.15"/><circle cx="652.10" cy="173.56" r="2.15"/><circle cx="654.82" cy="177.68" r="2.15"/><circle cx="657.53" cy="181.66" r="2.15"/><circle cx="660.24" cy="185.49" r="2.15"/><circle cx="662.95" cy="189.16" r="2.15"/><circle cx="665.66" cy="192.67" r="2.15"/><circle cx="668.38" cy="196.00" r="2.15"/><circle cx="671.09" cy="199.17" r="2.15"/><circle cx="673.80" cy="202.16" r="2.15"/></g>
<polyline fill="none" stroke="#d95319" stroke-width="1" points="405.30,72.45 408.01,72.48 410.72,72.51 413.44,72.53 416.15,72.56 418.86,72.58 421.57,72.61 424.28,72.63 427.00,72.65 429.71,72.67 432.42,72.69 435.13,72.71 437.85,72.73 440.56,72.75 443.27,72.77 445.98,72.78 448.69,72.80 451.41,72.82 454.12,72.83 456.83,72.85 459.54,72.86 462.25,72.87 464.97,72.89 467.68,72.90 470.39,72.92 473.10,72.93 475.82,72.94 478.53,72.96 481.24,72.97 483.95,72.99 486.66,73.00 489.38,73.02 492.09,73.04 494.80,73.06 497.51,73.09 500.22,73.11 502.94,73.14 505.65,73.18 508.36,73.22 511.07,73.26 513.78,73.32 516.50,73.38 519.21,73.45 521.92,73.53 524.63,73.62 527.35,73.73 530.06,73.86 532.77,74.00 535.48,74.17 538.19,74.36 540.91,74.58 543.62,74.84 546.33,75.12 549.04,75.45 551.75,75.82 554.47,76.24 557.18,76.72 559.89,77.26 562.60,77.86 565.32,78.53 568.03,79.28 570.74,80.12 573.45,81.05 576.16,82.08 578.88,83.21 581.59,84.45 584.30,85.81 587.01,87.29 589.72,88.90 592.44,90.64 595.15,92.52 597.86,94.54 600.57,96.71 603.28,99.02 606.00,101.48 608.71,104.09 611.42,106.85 614.13,109.75 616.85,112.80 619.56,115.98 622.27,119.30 624.98,122.75 627.69,126.32 630.41,130.00 633.12,133.79 635.83,137.68 638.54,141.65 641.25,145.70 643.97,149.81 646.68,153.98 649.39,158.19 652.10,162.43 654.82,166.69 657.53,170.97 660.24,175.24 662.95,179.50 665.66,183.75 668.38,187.96 671.09,192.13 673.80,196.26"/>
<path fill="none" stroke="#d95319" stroke-width="1.15" d="M403.10 70.10L407.50 72.45L403.10 74.80ZM405.81 70.13L410.21 72.48L405.81 74.83ZM408.52 70.16L412.92 72.51L408.52 74.86ZM411.24 70.18L415.64 72.53L411.24 74.88ZM413.95 70.21L418.35 72.56L413.95 74.91ZM416.66 70.23L421.06 72.58L416.66 74.93ZM419.37 70.26L423.77 72.61L419.37 74.96ZM422.08 70.28L426.48 72.63L422.08 74.98ZM424.80 70.30L429.20 72.65L424.80 75.00ZM427.51 70.32L431.91 72.67L427.51 75.02ZM430.22 70.34L434.62 72.69L430.22 75.04ZM432.93 70.36L437.33 72.71L432.93 75.06ZM435.65 70.38L440.05 72.73L435.65 75.08ZM438.36 70.40L442.76 72.75L438.36 75.10ZM441.07 70.42L445.47 72.77L441.07 75.12ZM443.78 70.43L448.18 72.78L443.78 75.13ZM446.49 70.45L450.89 72.80L446.49 75.15ZM449.21 70.47L453.61 72.82L449.21 75.17ZM451.92 70.48L456.32 72.83L451.92 75.18ZM454.63 70.50L459.03 72.85L454.63 75.20ZM457.34 70.51L461.74 72.86L457.34 75.21ZM460.05 70.52L464.45 72.87L460.05 75.22ZM462.77 70.54L467.17 72.89L462.77 75.24ZM465.48 70.55L469.88 72.90L465.48 75.25ZM468.19 70.57L472.59 72.92L468.19 75.27ZM470.90 70.58L475.30 72.93L470.90 75.28ZM473.62 70.59L478.02 72.94L473.62 75.29ZM476.33 70.61L480.73 72.96L476.33 75.31ZM479.04 70.62L483.44 72.97L479.04 75.32ZM481.75 70.64L486.15 72.99L481.75 75.34ZM484.46 70.65L488.86 73.00L484.46 75.35ZM487.18 70.67L491.58 73.02L487.18 75.37ZM489.89 70.69L494.29 73.04L489.89 75.39ZM492.60 70.71L497.00 73.06L492.60 75.41ZM495.31 70.74L499.71 73.09L495.31 75.44ZM498.02 70.76L502.42 73.11L498.02 75.46ZM500.74 70.79L505.14 73.14L500.74 75.49ZM503.45 70.83L507.85 73.18L503.45 75.53ZM506.16 70.87L510.56 73.22L506.16 75.57ZM508.87 70.91L513.27 73.26L508.87 75.61ZM511.58 70.97L515.98 73.32L511.58 75.67ZM514.30 71.03L518.70 73.38L514.30 75.73ZM517.01 71.10L521.41 73.45L517.01 75.80ZM519.72 71.18L524.12 73.53L519.72 75.88ZM522.43 71.27L526.83 73.62L522.43 75.97ZM525.15 71.38L529.55 73.73L525.15 76.08ZM527.86 71.51L532.26 73.86L527.86 76.21ZM530.57 71.65L534.97 74.00L530.57 76.35ZM533.28 71.82L537.68 74.17L533.28 76.52ZM535.99 72.01L540.39 74.36L535.99 76.71ZM538.71 72.23L543.11 74.58L538.71 76.93ZM541.42 72.49L545.82 74.84L541.42 77.19ZM544.13 72.77L548.53 75.12L544.13 77.47ZM546.84 73.10L551.24 75.45L546.84 77.80ZM549.55 73.47L553.95 75.82L549.55 78.17ZM552.27 73.89L556.67 76.24L552.27 78.59ZM554.98 74.37L559.38 76.72L554.98 79.07ZM557.69 74.91L562.09 77.26L557.69 79.61ZM560.40 75.51L564.80 77.86L560.40 80.21ZM563.12 76.18L567.52 78.53L563.12 80.88ZM565.83 76.93L570.23 79.28L565.83 81.63ZM568.54 77.77L572.94 80.12L568.54 82.47ZM571.25 78.70L575.65 81.05L571.25 83.40ZM573.96 79.73L578.36 82.08L573.96 84.43ZM576.68 80.86L581.08 83.21L576.68 85.56ZM579.39 82.10L583.79 84.45L579.39 86.80ZM582.10 83.46L586.50 85.81L582.10 88.16ZM584.81 84.94L589.21 87.29L584.81 89.64ZM587.52 86.55L591.92 88.90L587.52 91.25ZM590.24 88.29L594.64 90.64L590.24 92.99ZM592.95 90.17L597.35 92.52L592.95 94.87ZM595.66 92.19L600.06 94.54L595.66 96.89ZM598.37 94.36L602.77 96.71L598.37 99.06ZM601.08 96.67L605.48 99.02L601.08 101.37ZM603.80 99.13L608.20 101.48L603.80 103.83ZM606.51 101.74L610.91 104.09L606.51 106.44ZM609.22 104.50L613.62 106.85L609.22 109.20ZM611.93 107.40L616.33 109.75L611.93 112.10ZM614.65 110.45L619.05 112.80L614.65 115.15ZM617.36 113.63L621.76 115.98L617.36 118.33ZM620.07 116.95L624.47 119.30L620.07 121.65ZM622.78 120.40L627.18 122.75L622.78 125.10ZM625.49 123.97L629.89 126.32L625.49 128.67ZM628.21 127.65L632.61 130.00L628.21 132.35ZM630.92 131.44L635.32 133.79L630.92 136.14ZM633.63 135.33L638.03 137.68L633.63 140.03ZM636.34 139.30L640.74 141.65L636.34 144.00ZM639.05 143.35L643.45 145.70L639.05 148.05ZM641.77 147.46L646.17 149.81L641.77 152.16ZM644.48 151.63L648.88 153.98L644.48 156.33ZM647.19 155.84L651.59 158.19L647.19 160.54ZM649.90 160.08L654.30 162.43L649.90 164.78ZM652.62 164.34L657.02 166.69L652.62 169.04ZM655.33 168.62L659.73 170.97L655.33 173.32ZM658.04 172.89L662.44 175.24L658.04 177.59ZM660.75 177.15L665.15 179.50L660.75 181.85ZM663.46 181.40L667.86 183.75L663.46 186.10ZM666.18 185.61L670.58 187.96L666.18 190.31ZM668.89 189.78L673.29 192.13L668.89 194.48ZM671.60 193.91L676.00 196.26L671.60 198.61Z"/>
</g>
<rect x="402.70" y="13.50" width="281.60" height="232.30" fill="none" stroke="#262626" stroke-width="1.1"/>
<path stroke="#262626" stroke-width="1" d="M402.70 235.84h3.1M684.30 235.84h-3.1M402.70 202.66h3.1M684.30 202.66h-3.1M402.70 169.47h3.1M684.30 169.47h-3.1M402.70 136.29h3.1M684.30 136.29h-3.1M402.70 103.10h3.1M684.30 103.10h-3.1M402.70 69.92h3.1M684.30 69.92h-3.1M402.70 36.73h3.1M684.30 36.73h-3.1M402.70 245.80v-3.0M402.70 13.50v3.0M435.28 245.80v-1.7M435.28 13.50v1.7M454.33 245.80v-1.7M454.33 13.50v1.7M467.86 245.80v-1.7M467.86 13.50v1.7M478.34 245.80v-1.7M478.34 13.50v1.7M486.91 245.80v-1.7M486.91 13.50v1.7M494.16 245.80v-1.7M494.16 13.50v1.7M500.43 245.80v-1.7M500.43 13.50v1.7M505.97 245.80v-1.7M505.97 13.50v1.7M510.92 245.80v-3.0M510.92 13.50v3.0M543.50 245.80v-1.7M543.50 13.50v1.7M562.56 245.80v-1.7M562.56 13.50v1.7M576.08 245.80v-1.7M576.08 13.50v1.7M586.57 245.80v-1.7M586.57 13.50v1.7M595.13 245.80v-1.7M595.13 13.50v1.7M602.38 245.80v-1.7M602.38 13.50v1.7M608.66 245.80v-1.7M608.66 13.50v1.7M614.19 245.80v-1.7M614.19 13.50v1.7M619.14 245.80v-3.0M619.14 13.50v3.0M651.72 245.80v-1.7M651.72 13.50v1.7M670.78 245.80v-1.7M670.78 13.50v1.7M684.30 245.80v-1.7M684.30 13.50v1.7"/>
<text x="387.79" y="240.44" class="t">0</text>
<text x="379.53" y="207.26" class="t">0.1</text>
<text x="379.53" y="174.07" class="t">0.2</text>
<text x="379.53" y="140.89" class="t">0.3</text>
<text x="379.53" y="107.70" class="t">0.4</text>
<text x="379.53" y="74.52" class="t">0.5</text>
<text x="379.53" y="41.33" class="t">0.6</text>
<text x="392.28" y="263.60" class="t">10</text>
<text x="406.03" y="258.50" class="s">2</text>
<text x="500.38" y="263.60" class="t">10</text>
<text x="514.28" y="258.50" class="s">3</text>
<text x="608.03" y="263.60" class="t">10</text>
<text x="621.98" y="258.30" class="s">4</text>
<text x="545.50" y="283.40" text-anchor="middle" class="f">Frequency [kHz]</text>
<text transform="translate(370.90,131.55) rotate(-90)" text-anchor="middle" class="f">Reflection coefficient</text>
<text x="357.3" y="15.9" class="p">(b)</text>
<g clip-path="url(#cc)">
<polyline fill="none" stroke="#ff00ff" stroke-width="1.2" stroke-dasharray="7.6 4.5" points="57.20,391.93 59.86,396.17 62.51,400.49 65.17,404.89 67.83,409.33 70.48,413.79 73.14,418.26 75.80,422.72 78.45,427.15 81.11,431.53 83.77,435.86 86.42,440.11 89.08,444.28 91.74,448.35 94.39,452.33 97.05,456.19 99.71,459.94 102.36,463.57 105.02,467.08 107.67,470.46 110.33,473.72 112.99,476.85 115.64,479.85 118.30,482.73 120.96,485.48 123.61,488.11 126.27,490.62 128.93,493.01 131.58,495.29 134.24,497.45 136.90,499.51 139.55,501.47 142.21,503.32 144.87,505.08 147.52,506.74 150.18,508.32 152.84,509.81 155.49,511.22 158.15,512.55 160.81,513.81 163.46,515.00 166.12,516.12 168.78,517.18 171.43,518.17 174.09,519.11 176.75,520.00 179.40,520.83 182.06,521.61 184.72,522.35 187.37,523.05 190.03,523.70 192.68,524.32 195.34,524.89 198.00,525.44 200.65,525.95 203.31,526.43 205.97,526.88 208.62,527.30 211.28,527.70 213.94,528.08 216.59,528.43 219.25,528.76 221.91,529.07 224.56,529.36 227.22,529.63 229.88,529.89 232.53,530.13 235.19,530.36 237.85,530.57 240.50,530.77 243.16,530.96 245.82,531.14 248.47,531.30 251.13,531.46 253.79,531.61 256.44,531.75 259.10,531.88 261.76,532.00 264.41,532.11 267.07,532.22 269.73,532.32 272.38,532.42 275.04,532.51 277.69,532.59 280.35,532.68 283.01,532.75 285.66,532.82 288.32,532.89 290.98,532.95 293.63,533.02 296.29,533.07 298.95,533.13 301.60,533.18 304.26,533.23 306.92,533.27 309.57,533.32 312.23,533.36 314.89,533.40 317.54,533.44 320.20,533.47"/>
<line x1="54.60" y1="534.39" x2="320.20" y2="534.39" stroke="#333" stroke-width="1.0"/>
<polyline fill="none" stroke="#ff0000" stroke-width="1" points="57.20,332.84 59.86,332.93 62.51,333.04 65.17,333.16 67.83,333.31 70.48,333.47 73.14,333.66 75.80,333.88 78.45,334.13 81.11,334.41 83.77,334.73 86.42,335.10 89.08,335.52 91.74,335.99 94.39,336.52 97.05,337.12 99.71,337.80 102.36,338.56 105.02,339.41 107.67,340.36 110.33,341.41 112.99,342.58 115.64,343.86 118.30,345.28 120.96,346.83 123.61,348.53 126.27,350.37 128.93,352.37 131.58,354.53 134.24,356.85 136.90,359.34 139.55,361.99 142.21,364.81 144.87,367.80 147.52,370.94 150.18,374.24 152.84,377.68 155.49,381.27 158.15,384.99 160.81,388.83 163.46,392.77 166.12,396.81 168.78,400.92 171.43,405.11 174.09,409.34 176.75,413.61 179.40,417.90 182.06,422.19 184.72,426.47 187.37,430.73 190.03,434.95 192.68,439.12 195.34,443.23 198.00,447.27 200.65,451.22 203.31,455.08 205.97,458.84 208.62,462.50 211.28,466.04 213.94,469.47 216.59,472.78 219.25,475.98 221.91,479.05 224.56,481.99 227.22,484.82 229.88,487.52 232.53,490.10 235.19,492.56 237.85,494.90 240.50,497.13 243.16,499.25 245.82,501.26 248.47,503.17 251.13,504.97 253.79,506.68 256.44,508.30 259.10,509.82 261.76,511.26 264.41,512.62 267.07,513.90 269.73,515.11 272.38,516.24 275.04,517.31 277.69,518.31 280.35,519.25 283.01,520.14 285.66,520.97 288.32,521.76 290.98,522.49 293.63,523.18 296.29,523.82 298.95,524.43 301.60,525.00 304.26,525.53 306.92,526.03 309.57,526.50 312.23,526.94 314.89,527.35 317.54,527.74 320.20,528.10"/>
<path fill="none" stroke="#ff0000" stroke-width="1.15" d="M54.60 332.84h5.20M57.20 330.24v5.20M57.26 332.93h5.20M59.86 330.33v5.20M59.91 333.04h5.20M62.51 330.44v5.20M62.57 333.16h5.20M65.17 330.56v5.20M65.23 333.31h5.20M67.83 330.71v5.20M67.88 333.47h5.20M70.48 330.87v5.20M70.54 333.66h5.20M73.14 331.06v5.20M73.20 333.88h5.20M75.80 331.28v5.20M75.85 334.13h5.20M78.45 331.53v5.20M78.51 334.41h5.20M81.11 331.81v5.20M81.17 334.73h5.20M83.77 332.13v5.20M83.82 335.10h5.20M86.42 332.50v5.20M86.48 335.52h5.20M89.08 332.92v5.20M89.14 335.99h5.20M91.74 333.39v5.20M91.79 336.52h5.20M94.39 333.92v5.20M94.45 337.12h5.20M97.05 334.52v5.20M97.11 337.80h5.20M99.71 335.20v5.20M99.76 338.56h5.20M102.36 335.96v5.20M102.42 339.41h5.20M105.02 336.81v5.20M105.07 340.36h5.20M107.67 337.76v5.20M107.73 341.41h5.20M110.33 338.81v5.20M110.39 342.58h5.20M112.99 339.98v5.20M113.04 343.86h5.20M115.64 341.26v5.20M115.70 345.28h5.20M118.30 342.68v5.20M118.36 346.83h5.20M120.96 344.23v5.20M121.01 348.53h5.20M123.61 345.93v5.20M123.67 350.37h5.20M126.27 347.77v5.20M126.33 352.37h5.20M128.93 349.77v5.20M128.98 354.53h5.20M131.58 351.93v5.20M131.64 356.85h5.20M134.24 354.25v5.20M134.30 359.34h5.20M136.90 356.74v5.20M136.95 361.99h5.20M139.55 359.39v5.20M139.61 364.81h5.20M142.21 362.21v5.20M142.27 367.80h5.20M144.87 365.20v5.20M144.92 370.94h5.20M147.52 368.34v5.20M147.58 374.24h5.20M150.18 371.64v5.20M150.24 377.68h5.20M152.84 375.08v5.20M152.89 381.27h5.20M155.49 378.67v5.20M155.55 384.99h5.20M158.15 382.39v5.20M158.21 388.83h5.20M160.81 386.23v5.20M160.86 392.77h5.20M163.46 390.17v5.20M163.52 396.81h5.20M166.12 394.21v5.20M166.18 400.92h5.20M168.78 398.32v5.20M168.83 405.11h5.20M171.43 402.51v5.20M171.49 409.34h5.20M174.09 406.74v5.20M174.15 413.61h5.20M176.75 411.01v5.20M176.80 417.90h5.20M179.40 415.30v5.20M179.46 422.19h5.20M182.06 419.59v5.20M182.12 426.47h5.20M184.72 423.87v5.20M184.77 430.73h5.20M187.37 428.13v5.20M187.43 434.95h5.20M190.03 432.35v5.20M190.08 439.12h5.20M192.68 436.52v5.20M192.74 443.23h5.20M195.34 440.63v5.20M195.40 447.27h5.20M198.00 444.67v5.20M198.05 451.22h5.20M200.65 448.62v5.20M200.71 455.08h5.20M203.31 452.48v5.20M203.37 458.84h5.20M205.97 456.24v5.20M206.02 462.50h5.20M208.62 459.90v5.20M208.68 466.04h5.20M211.28 463.44v5.20M211.34 469.47h5.20M213.94 466.87v5.20M213.99 472.78h5.20M216.59 470.18v5.20M216.65 475.98h5.20M219.25 473.38v5.20M219.31 479.05h5.20M221.91 476.45v5.20M221.96 481.99h5.20M224.56 479.39v5.20M224.62 484.82h5.20M227.22 482.22v5.20M227.28 487.52h5.20M229.88 484.92v5.20M229.93 490.10h5.20M232.53 487.50v5.20M232.59 492.56h5.20M235.19 489.96v5.20M235.25 494.90h5.20M237.85 492.30v5.20M237.90 497.13h5.20M240.50 494.53v5.20M240.56 499.25h5.20M243.16 496.65v5.20M243.22 501.26h5.20M245.82 498.66v5.20M245.87 503.17h5.20M248.47 500.57v5.20M248.53 504.97h5.20M251.13 502.37v5.20M251.19 506.68h5.20M253.79 504.08v5.20M253.84 508.30h5.20M256.44 505.70v5.20M256.50 509.82h5.20M259.10 507.22v5.20M259.16 511.26h5.20M261.76 508.66v5.20M261.81 512.62h5.20M264.41 510.02v5.20M264.47 513.90h5.20M267.07 511.30v5.20M267.13 515.11h5.20M269.73 512.51v5.20M269.78 516.24h5.20M272.38 513.64v5.20M272.44 517.31h5.20M275.04 514.71v5.20M275.09 518.31h5.20M277.69 515.71v5.20M277.75 519.25h5.20M280.35 516.65v5.20M280.41 520.14h5.20M283.01 517.54v5.20M283.06 520.97h5.20M285.66 518.37v5.20M285.72 521.76h5.20M288.32 519.16v5.20M288.38 522.49h5.20M290.98 519.89v5.20M291.03 523.18h5.20M293.63 520.58v5.20M293.69 523.82h5.20M296.29 521.22v5.20M296.35 524.43h5.20M298.95 521.83v5.20M299.00 525.00h5.20M301.60 522.40v5.20M301.66 525.53h5.20M304.26 522.93v5.20M304.32 526.03h5.20M306.92 523.43v5.20M306.97 526.50h5.20M309.57 523.90v5.20M309.63 526.94h5.20M312.23 524.34v5.20M312.29 527.35h5.20M314.89 524.75v5.20M314.94 527.74h5.20M317.54 525.14v5.20M317.60 528.10h5.20M320.20 525.50v5.20"/>
<polyline fill="none" stroke="#00ff00" stroke-width="1" points="57.20,331.80 59.86,331.84 62.51,331.88 65.17,331.92 67.83,331.96 70.48,332.01 73.14,332.06 75.80,332.11 78.45,332.18 81.11,332.25 83.77,332.32 86.42,332.41 89.08,332.50 91.74,332.61 94.39,332.73 97.05,332.87 99.71,333.02 102.36,333.20 105.02,333.40 107.67,333.62 110.33,333.87 112.99,334.15 115.64,334.47 118.30,334.83 120.96,335.24 123.61,335.70 126.27,336.21 128.93,336.79 131.58,337.43 134.24,338.15 136.90,338.96 139.55,339.85 142.21,340.84 144.87,341.94 147.52,343.16 150.18,344.49 152.84,345.96 155.49,347.57 158.15,349.33 160.81,351.23 163.46,353.30 166.12,355.54 168.78,357.95 171.43,360.53 174.09,363.28 176.75,366.22 179.40,369.32 182.06,372.60 184.72,376.05 187.37,379.65 190.03,383.41 192.68,387.31 195.34,391.33 198.00,395.48 200.65,399.72 203.31,404.04 205.97,408.43 208.62,412.87 211.28,417.35 213.94,421.83 216.59,426.31 219.25,430.77 221.91,435.19 224.56,439.55 227.22,443.85 229.88,448.06 232.53,452.18 235.19,456.20 237.85,460.10 240.50,463.88 243.16,467.53 245.82,471.04 248.47,474.42 251.13,477.66 253.79,480.76 256.44,483.72 259.10,486.53 261.76,489.21 264.41,491.75 267.07,494.16 269.73,496.44 272.38,498.59 275.04,500.62 277.69,502.53 280.35,504.33 283.01,506.02 285.66,507.60 288.32,509.09 290.98,510.49 293.63,511.79 296.29,513.01 298.95,514.16 301.60,515.23 304.26,516.22 306.92,517.16 309.57,518.03 312.23,518.84 314.89,519.59 317.54,520.30 320.20,520.96"/>
<path fill="none" stroke="#00ff00" stroke-width="1.15" d="M55.10 329.70l4.20 4.20M55.10 333.90l4.20 -4.20M57.76 329.74l4.20 4.20M57.76 333.94l4.20 -4.20M60.41 329.78l4.20 4.20M60.41 333.98l4.20 -4.20M63.07 329.82l4.20 4.20M63.07 334.02l4.20 -4.20M65.73 329.86l4.20 4.20M65.73 334.06l4.20 -4.20M68.38 329.91l4.20 4.20M68.38 334.11l4.20 -4.20M71.04 329.96l4.20 4.20M71.04 334.16l4.20 -4.20M73.70 330.01l4.20 4.20M73.70 334.21l4.20 -4.20M76.35 330.08l4.20 4.20M76.35 334.28l4.20 -4.20M79.01 330.15l4.20 4.20M79.01 334.35l4.20 -4.20M81.67 330.22l4.20 4.20M81.67 334.42l4.20 -4.20M84.32 330.31l4.20 4.20M84.32 334.51l4.20 -4.20M86.98 330.40l4.20 4.20M86.98 334.60l4.20 -4.20M89.64 330.51l4.20 4.20M89.64 334.71l4.20 -4.20M92.29 330.63l4.20 4.20M92.29 334.83l4.20 -4.20M94.95 330.77l4.20 4.20M94.95 334.97l4.20 -4.20M97.61 330.92l4.20 4.20M97.61 335.12l4.20 -4.20M100.26 331.10l4.20 4.20M100.26 335.30l4.20 -4.20M102.92 331.30l4.20 4.20M102.92 335.50l4.20 -4.20M105.57 331.52l4.20 4.20M105.57 335.72l4.20 -4.20M108.23 331.77l4.20 4.20M108.23 335.97l4.20 -4.20M110.89 332.05l4.20 4.20M110.89 336.25l4.20 -4.20M113.54 332.37l4.20 4.20M113.54 336.57l4.20 -4.20M116.20 332.73l4.20 4.20M116.20 336.93l4.20 -4.20M118.86 333.14l4.20 4.20M118.86 337.34l4.20 -4.20M121.51 333.60l4.20 4.20M121.51 337.80l4.20 -4.20M124.17 334.11l4.20 4.20M124.17 338.31l4.20 -4.20M126.83 334.69l4.20 4.20M126.83 338.89l4.20 -4.20M129.48 335.33l4.20 4.20M129.48 339.53l4.20 -4.20M132.14 336.05l4.20 4.20M132.14 340.25l4.20 -4.20M134.80 336.86l4.20 4.20M134.80 341.06l4.20 -4.20M137.45 337.75l4.20 4.20M137.45 341.95l4.20 -4.20M140.11 338.74l4.20 4.20M140.11 342.94l4.20 -4.20M142.77 339.84l4.20 4.20M142.77 344.04l4.20 -4.20M145.42 341.06l4.20 4.20M145.42 345.26l4.20 -4.20M148.08 342.39l4.20 4.20M148.08 346.59l4.20 -4.20M150.74 343.86l4.20 4.20M150.74 348.06l4.20 -4.20M153.39 345.47l4.20 4.20M153.39 349.67l4.20 -4.20M156.05 347.23l4.20 4.20M156.05 351.43l4.20 -4.20M158.71 349.13l4.20 4.20M158.71 353.33l4.20 -4.20M161.36 351.20l4.20 4.20M161.36 355.40l4.20 -4.20M164.02 353.44l4.20 4.20M164.02 357.64l4.20 -4.20M166.68 355.85l4.20 4.20M166.68 360.05l4.20 -4.20M169.33 358.43l4.20 4.20M169.33 362.63l4.20 -4.20M171.99 361.18l4.20 4.20M171.99 365.38l4.20 -4.20M174.65 364.12l4.20 4.20M174.65 368.32l4.20 -4.20M177.30 367.22l4.20 4.20M177.30 371.42l4.20 -4.20M179.96 370.50l4.20 4.20M179.96 374.70l4.20 -4.20M182.62 373.95l4.20 4.20M182.62 378.15l4.20 -4.20M185.27 377.55l4.20 4.20M185.27 381.75l4.20 -4.20M187.93 381.31l4.20 4.20M187.93 385.51l4.20 -4.20M190.58 385.21l4.20 4.20M190.58 389.41l4.20 -4.20M193.24 389.23l4.20 4.20M193.24 393.43l4.20 -4.20M195.90 393.38l4.20 4.20M195.90 397.58l4.20 -4.20M198.55 397.62l4.20 4.20M198.55 401.82l4.20 -4.20M201.21 401.94l4.20 4.20M201.21 406.14l4.20 -4.20M203.87 406.33l4.20 4.20M203.87 410.53l4.20 -4.20M206.52 410.77l4.20 4.20M206.52 414.97l4.20 -4.20M209.18 415.25l4.20 4.20M209.18 419.45l4.20 -4.20M211.84 419.73l4.20 4.20M211.84 423.93l4.20 -4.20M214.49 424.21l4.20 4.20M214.49 428.41l4.20 -4.20M217.15 428.67l4.20 4.20M217.15 432.87l4.20 -4.20M219.81 433.09l4.20 4.20M219.81 437.29l4.20 -4.20M222.46 437.45l4.20 4.20M222.46 441.65l4.20 -4.20M225.12 441.75l4.20 4.20M225.12 445.95l4.20 -4.20M227.78 445.96l4.20 4.20M227.78 450.16l4.20 -4.20M230.43 450.08l4.20 4.20M230.43 454.28l4.20 -4.20M233.09 454.10l4.20 4.20M233.09 458.30l4.20 -4.20M235.75 458.00l4.20 4.20M235.75 462.20l4.20 -4.20M238.40 461.78l4.20 4.20M238.40 465.98l4.20 -4.20M241.06 465.43l4.20 4.20M241.06 469.63l4.20 -4.20M243.72 468.94l4.20 4.20M243.72 473.14l4.20 -4.20M246.37 472.32l4.20 4.20M246.37 476.52l4.20 -4.20M249.03 475.56l4.20 4.20M249.03 479.76l4.20 -4.20M251.69 478.66l4.20 4.20M251.69 482.86l4.20 -4.20M254.34 481.62l4.20 4.20M254.34 485.82l4.20 -4.20M257.00 484.43l4.20 4.20M257.00 488.63l4.20 -4.20M259.66 487.11l4.20 4.20M259.66 491.31l4.20 -4.20M262.31 489.65l4.20 4.20M262.31 493.85l4.20 -4.20M264.97 492.06l4.20 4.20M264.97 496.26l4.20 -4.20M267.63 494.34l4.20 4.20M267.63 498.54l4.20 -4.20M270.28 496.49l4.20 4.20M270.28 500.69l4.20 -4.20M272.94 498.52l4.20 4.20M272.94 502.72l4.20 -4.20M275.59 500.43l4.20 4.20M275.59 504.63l4.20 -4.20M278.25 502.23l4.20 4.20M278.25 506.43l4.20 -4.20M280.91 503.92l4.20 4.20M280.91 508.12l4.20 -4.20M283.56 505.50l4.20 4.20M283.56 509.70l4.20 -4.20M286.22 506.99l4.20 4.20M286.22 511.19l4.20 -4.20M288.88 508.39l4.20 4.20M288.88 512.59l4.20 -4.20M291.53 509.69l4.20 4.20M291.53 513.89l4.20 -4.20M294.19 510.91l4.20 4.20M294.19 515.11l4.20 -4.20M296.85 512.06l4.20 4.20M296.85 516.26l4.20 -4.20M299.50 513.13l4.20 4.20M299.50 517.33l4.20 -4.20M302.16 514.12l4.20 4.20M302.16 518.32l4.20 -4.20M304.82 515.06l4.20 4.20M304.82 519.26l4.20 -4.20M307.47 515.93l4.20 4.20M307.47 520.13l4.20 -4.20M310.13 516.74l4.20 4.20M310.13 520.94l4.20 -4.20M312.79 517.49l4.20 4.20M312.79 521.69l4.20 -4.20M315.44 518.20l4.20 4.20M315.44 522.40l4.20 -4.20M318.10 518.86l4.20 4.20M318.10 523.06l4.20 -4.20"/>
<polyline fill="none" stroke="#0000ff" stroke-width="1" points="57.20,331.10 59.86,331.07 62.51,331.04 65.17,331.01 67.83,330.99 70.48,330.97 73.14,330.96 75.80,330.95 78.45,330.94 81.11,330.95 83.77,330.95 86.42,330.97 89.08,330.99 91.74,331.02 94.39,331.06 97.05,331.11 99.71,331.17 102.36,331.24 105.02,331.32 107.67,331.41 110.33,331.53 112.99,331.66 115.64,331.80 118.30,331.97 120.96,332.16 123.61,332.38 126.27,332.62 128.93,332.89 131.58,333.20 134.24,333.55 136.90,333.93 139.55,334.37 142.21,334.85 144.87,335.38 147.52,335.98 150.18,336.64 152.84,337.37 155.49,338.19 158.15,339.08 160.81,340.07 163.46,341.15 166.12,342.34 168.78,343.65 171.43,345.08 174.09,346.63 176.75,348.32 179.40,350.16 182.06,352.15 184.72,354.29 187.37,356.60 190.03,359.08 192.68,361.73 195.34,364.55 198.00,367.54 200.65,370.71 203.31,374.06 205.97,377.57 208.62,381.24 211.28,385.07 213.94,389.04 216.59,393.14 219.25,397.36 221.91,401.68 224.56,406.10 227.22,410.58 229.88,415.11 232.53,419.68 235.19,424.26 237.85,428.83 240.50,433.38 243.16,437.88 245.82,442.33 248.47,446.70 251.13,450.97 253.79,455.15 256.44,459.20 259.10,463.13 261.76,466.93 264.41,470.58 267.07,474.09 269.73,477.44 272.38,480.64 275.04,483.69 277.69,486.59 280.35,489.33 283.01,491.92 285.66,494.37 288.32,496.67 290.98,498.84 293.63,500.87 296.29,502.77 298.95,504.55 301.60,506.21 304.26,507.75 306.92,509.19 309.57,510.53 312.23,511.78 314.89,512.93 317.54,514.00 320.20,514.99"/>
<path fill="none" stroke="#0000ff" stroke-width="1.15" d="M54.50 331.10h5.40M57.20 328.40v5.40M55.25 329.15l3.90 3.90M55.25 333.05l3.90 -3.90M57.16 331.07h5.40M59.86 328.37v5.40M57.91 329.12l3.90 3.90M57.91 333.02l3.90 -3.90M59.81 331.04h5.40M62.51 328.34v5.40M60.56 329.09l3.90 3.90M60.56 332.99l3.90 -3.90M62.47 331.01h5.40M65.17 328.31v5.40M63.22 329.06l3.90 3.90M63.22 332.96l3.90 -3.90M65.13 330.99h5.40M67.83 328.29v5.40M65.88 329.04l3.90 3.90M65.88 332.94l3.90 -3.90M67.78 330.97h5.40M70.48 328.27v5.40M68.53 329.02l3.90 3.90M68.53 332.92l3.90 -3.90M70.44 330.96h5.40M73.14 328.26v5.40M71.19 329.01l3.90 3.90M71.19 332.91l3.90 -3.90M73.10 330.95h5.40M75.80 328.25v5.40M73.85 329.00l3.90 3.90M73.85 332.90l3.90 -3.90M75.75 330.94h5.40M78.45 328.24v5.40M76.50 328.99l3.90 3.90M76.50 332.89l3.90 -3.90M78.41 330.95h5.40M81.11 328.25v5.40M79.16 329.00l3.90 3.90M79.16 332.90l3.90 -3.90M81.07 330.95h5.40M83.77 328.25v5.40M81.82 329.00l3.90 3.90M81.82 332.90l3.90 -3.90M83.72 330.97h5.40M86.42 328.27v5.40M84.47 329.02l3.90 3.90M84.47 332.92l3.90 -3.90M86.38 330.99h5.40M89.08 328.29v5.40M87.13 329.04l3.90 3.90M87.13 332.94l3.90 -3.90M89.04 331.02h5.40M91.74 328.32v5.40M89.79 329.07l3.90 3.90M89.79 332.97l3.90 -3.90M91.69 331.06h5.40M94.39 328.36v5.40M92.44 329.11l3.90 3.90M92.44 333.01l3.90 -3.90M94.35 331.11h5.40M97.05 328.41v5.40M95.10 329.16l3.90 3.90M95.10 333.06l3.90 -3.90M97.01 331.17h5.40M99.71 328.47v5.40M97.76 329.22l3.90 3.90M97.76 333.12l3.90 -3.90M99.66 331.24h5.40M102.36 328.54v5.40M100.41 329.29l3.90 3.90M100.41 333.19l3.90 -3.90M102.32 331.32h5.40M105.02 328.62v5.40M103.07 329.37l3.90 3.90M103.07 333.27l3.90 -3.90M104.97 331.41h5.40M107.67 328.71v5.40M105.72 329.46l3.90 3.90M105.72 333.36l3.90 -3.90M107.63 331.53h5.40M110.33 328.83v5.40M108.38 329.58l3.90 3.90M108.38 333.48l3.90 -3.90M110.29 331.66h5.40M112.99 328.96v5.40M111.04 329.71l3.90 3.90M111.04 333.61l3.90 -3.90M112.94 331.80h5.40M115.64 329.10v5.40M113.69 329.85l3.90 3.90M113.69 333.75l3.90 -3.90M115.60 331.97h5.40M118.30 329.27v5.40M116.35 330.02l3.90 3.90M116.35 333.92l3.90 -3.90M118.26 332.16h5.40M120.96 329.46v5.40M119.01 330.21l3.90 3.90M119.01 334.11l3.90 -3.90M120.91 332.38h5.40M123.61 329.68v5.40M121.66 330.43l3.90 3.90M121.66 334.33l3.90 -3.90M123.57 332.62h5.40M126.27 329.92v5.40M124.32 330.67l3.90 3.90M124.32 334.57l3.90 -3.90M126.23 332.89h5.40M128.93 330.19v5.40M126.98 330.94l3.90 3.90M126.98 334.84l3.90 -3.90M128.88 333.20h5.40M131.58 330.50v5.40M129.63 331.25l3.90 3.90M129.63 335.15l3.90 -3.90M131.54 333.55h5.40M134.24 330.85v5.40M132.29 331.60l3.90 3.90M132.29 335.50l3.90 -3.90M134.20 333.93h5.40M136.90 331.23v5.40M134.95 331.98l3.90 3.90M134.95 335.88l3.90 -3.90M136.85 334.37h5.40M139.55 331.67v5.40M137.60 332.42l3.90 3.90M137.60 336.32l3.90 -3.90M139.51 334.85h5.40M142.21 332.15v5.40M140.26 332.90l3.90 3.90M140.26 336.80l3.90 -3.90M142.17 335.38h5.40M144.87 332.68v5.40M142.92 333.43l3.90 3.90M142.92 337.33l3.90 -3.90M144.82 335.98h5.40M147.52 333.28v5.40M145.57 334.03l3.90 3.90M145.57 337.93l3.90 -3.90M147.48 336.64h5.40M150.18 333.94v5.40M148.23 334.69l3.90 3.90M148.23 338.59l3.90 -3.90M150.14 337.37h5.40M152.84 334.67v5.40M150.89 335.42l3.90 3.90M150.89 339.32l3.90 -3.90M152.79 338.19h5.40M155.49 335.49v5.40M153.54 336.24l3.90 3.90M153.54 340.14l3.90 -3.90M155.45 339.08h5.40M158.15 336.38v5.40M156.20 337.13l3.90 3.90M156.20 341.03l3.90 -3.90M158.11 340.07h5.40M160.81 337.37v5.40M158.86 338.12l3.90 3.90M158.86 342.02l3.90 -3.90M160.76 341.15h5.40M163.46 338.45v5.40M161.51 339.20l3.90 3.90M161.51 343.10l3.90 -3.90M163.42 342.34h5.40M166.12 339.64v5.40M164.17 340.39l3.90 3.90M164.17 344.29l3.90 -3.90M166.08 343.65h5.40M168.78 340.95v5.40M166.83 341.70l3.90 3.90M166.83 345.60l3.90 -3.90M168.73 345.08h5.40M171.43 342.38v5.40M169.48 343.13l3.90 3.90M169.48 347.03l3.90 -3.90M171.39 346.63h5.40M174.09 343.93v5.40M172.14 344.68l3.90 3.90M172.14 348.58l3.90 -3.90M174.05 348.32h5.40M176.75 345.62v5.40M174.80 346.37l3.90 3.90M174.80 350.27l3.90 -3.90M176.70 350.16h5.40M179.40 347.46v5.40M177.45 348.21l3.90 3.90M177.45 352.11l3.90 -3.90M179.36 352.15h5.40M182.06 349.45v5.40M180.11 350.20l3.90 3.90M180.11 354.10l3.90 -3.90M182.02 354.29h5.40M184.72 351.59v5.40M182.77 352.34l3.90 3.90M182.77 356.24l3.90 -3.90M184.67 356.60h5.40M187.37 353.90v5.40M185.42 354.65l3.90 3.90M185.42 358.55l3.90 -3.90M187.33 359.08h5.40M190.03 356.38v5.40M188.08 357.13l3.90 3.90M188.08 361.03l3.90 -3.90M189.98 361.73h5.40M192.68 359.03v5.40M190.73 359.78l3.90 3.90M190.73 363.68l3.90 -3.90M192.64 364.55h5.40M195.34 361.85v5.40M193.39 362.60l3.90 3.90M193.39 366.50l3.90 -3.90M195.30 367.54h5.40M198.00 364.84v5.40M196.05 365.59l3.90 3.90M196.05 369.49l3.90 -3.90M197.95 370.71h5.40M200.65 368.01v5.40M198.70 368.76l3.90 3.90M198.70 372.66l3.90 -3.90M200.61 374.06h5.40M203.31 371.36v5.40M201.36 372.11l3.90 3.90M201.36 376.01l3.90 -3.90M203.27 377.57h5.40M205.97 374.87v5.40M204.02 375.62l3.90 3.90M204.02 379.52l3.90 -3.90M205.92 381.24h5.40M208.62 378.54v5.40M206.67 379.29l3.90 3.90M206.67 383.19l3.90 -3.90M208.58 385.07h5.40M211.28 382.37v5.40M209.33 383.12l3.90 3.90M209.33 387.02l3.90 -3.90M211.24 389.04h5.40M213.94 386.34v5.40M211.99 387.09l3.90 3.90M211.99 390.99l3.90 -3.90M213.89 393.14h5.40M216.59 390.44v5.40M214.64 391.19l3.90 3.90M214.64 395.09l3.90 -3.90M216.55 397.36h5.40M219.25 394.66v5.40M217.30 395.41l3.90 3.90M217.30 399.31l3.90 -3.90M219.21 401.68h5.40M221.91 398.98v5.40M219.96 399.73l3.90 3.90M219.96 403.63l3.90 -3.90M221.86 406.10h5.40M224.56 403.40v5.40M222.61 404.15l3.90 3.90M222.61 408.05l3.90 -3.90M224.52 410.58h5.40M227.22 407.88v5.40M225.27 408.63l3.90 3.90M225.27 412.53l3.90 -3.90M227.18 415.11h5.40M229.88 412.41v5.40M227.93 413.16l3.90 3.90M227.93 417.06l3.90 -3.90M229.83 419.68h5.40M232.53 416.98v5.40M230.58 417.73l3.90 3.90M230.58 421.63l3.90 -3.90M232.49 424.26h5.40M235.19 421.56v5.40M233.24 422.31l3.90 3.90M233.24 426.21l3.90 -3.90M235.15 428.83h5.40M237.85 426.13v5.40M235.90 426.88l3.90 3.90M235.90 430.78l3.90 -3.90M237.80 433.38h5.40M240.50 430.68v5.40M238.55 431.43l3.90 3.90M238.55 435.33l3.90 -3.90M240.46 437.88h5.40M243.16 435.18v5.40M241.21 435.93l3.90 3.90M241.21 439.83l3.90 -3.90M243.12 442.33h5.40M245.82 439.63v5.40M243.87 440.38l3.90 3.90M243.87 444.28l3.90 -3.90M245.77 446.70h5.40M248.47 444.00v5.40M246.52 444.75l3.90 3.90M246.52 448.65l3.90 -3.90M248.43 450.97h5.40M251.13 448.27v5.40M249.18 449.02l3.90 3.90M249.18 452.92l3.90 -3.90M251.09 455.15h5.40M253.79 452.45v5.40M251.84 453.20l3.90 3.90M251.84 457.10l3.90 -3.90M253.74 459.20h5.40M256.44 456.50v5.40M254.49 457.25l3.90 3.90M254.49 461.15l3.90 -3.90M256.40 463.13h5.40M259.10 460.43v5.40M257.15 461.18l3.90 3.90M257.15 465.08l3.90 -3.90M259.06 466.93h5.40M261.76 464.23v5.40M259.81 464.98l3.90 3.90M259.81 468.88l3.90 -3.90M261.71 470.58h5.40M264.41 467.88v5.40M262.46 468.63l3.90 3.90M262.46 472.53l3.90 -3.90M264.37 474.09h5.40M267.07 471.39v5.40M265.12 472.14l3.90 3.90M265.12 476.04l3.90 -3.90M267.03 477.44h5.40M269.73 474.74v5.40M267.78 475.49l3.90 3.90M267.78 479.39l3.90 -3.90M269.68 480.64h5.40M272.38 477.94v5.40M270.43 478.69l3.90 3.90M270.43 482.59l3.90 -3.90M272.34 483.69h5.40M275.04 480.99v5.40M273.09 481.74l3.90 3.90M273.09 485.64l3.90 -3.90M274.99 486.59h5.40M277.69 483.89v5.40M275.74 484.64l3.90 3.90M275.74 488.54l3.90 -3.90M277.65 489.33h5.40M280.35 486.63v5.40M278.40 487.38l3.90 3.90M278.40 491.28l3.90 -3.90M280.31 491.92h5.40M283.01 489.22v5.40M281.06 489.97l3.90 3.90M281.06 493.87l3.90 -3.90M282.96 494.37h5.40M285.66 491.67v5.40M283.71 492.42l3.90 3.90M283.71 496.32l3.90 -3.90M285.62 496.67h5.40M288.32 493.97v5.40M286.37 494.72l3.90 3.90M286.37 498.62l3.90 -3.90M288.28 498.84h5.40M290.98 496.14v5.40M289.03 496.89l3.90 3.90M289.03 500.79l3.90 -3.90M290.93 500.87h5.40M293.63 498.17v5.40M291.68 498.92l3.90 3.90M291.68 502.82l3.90 -3.90M293.59 502.77h5.40M296.29 500.07v5.40M294.34 500.82l3.90 3.90M294.34 504.72l3.90 -3.90M296.25 504.55h5.40M298.95 501.85v5.40M297.00 502.60l3.90 3.90M297.00 506.50l3.90 -3.90M298.90 506.21h5.40M301.60 503.51v5.40M299.65 504.26l3.90 3.90M299.65 508.16l3.90 -3.90M301.56 507.75h5.40M304.26 505.05v5.40M302.31 505.80l3.90 3.90M302.31 509.70l3.90 -3.90M304.22 509.19h5.40M306.92 506.49v5.40M304.97 507.24l3.90 3.90M304.97 511.14l3.90 -3.90M306.87 510.53h5.40M309.57 507.83v5.40M307.62 508.58l3.90 3.90M307.62 512.48l3.90 -3.90M309.53 511.78h5.40M312.23 509.08v5.40M310.28 509.83l3.90 3.90M310.28 513.73l3.90 -3.90M312.19 512.93h5.40M314.89 510.23v5.40M312.94 510.98l3.90 3.90M312.94 514.88l3.90 -3.90M314.84 514.00h5.40M317.54 511.30v5.40M315.59 512.05l3.90 3.90M315.59 515.95l3.90 -3.90M317.50 514.99h5.40M320.20 512.29v5.40M318.25 513.04l3.90 3.90M318.25 516.94l3.90 -3.90"/>
<polyline fill="none" stroke="#0072bd" stroke-width="1" points="57.20,329.45 59.86,329.39 62.51,329.33 65.17,329.28 67.83,329.24 70.48,329.19 73.14,329.16 75.80,329.13 78.45,329.10 81.11,329.09 83.77,329.07 86.42,329.07 89.08,329.07 91.74,329.08 94.39,329.10 97.05,329.13 99.71,329.16 102.36,329.21 105.02,329.26 107.67,329.33 110.33,329.41 112.99,329.50 115.64,329.61 118.30,329.73 120.96,329.87 123.61,330.03 126.27,330.20 128.93,330.40 131.58,330.62 134.24,330.87 136.90,331.14 139.55,331.45 142.21,331.79 144.87,332.16 147.52,332.57 150.18,333.03 152.84,333.53 155.49,334.08 158.15,334.69 160.81,335.35 163.46,336.08 166.12,336.88 168.78,337.76 171.43,338.71 174.09,339.75 176.75,340.89 179.40,342.13 182.06,343.47 184.72,344.93 187.37,346.51 190.03,348.22 192.68,350.07 195.34,352.05 198.00,354.19 200.65,356.48 203.31,358.93 205.97,361.54 208.62,364.33 211.28,367.28 213.94,370.40 216.59,373.70 219.25,377.16 221.91,380.79 224.56,384.57 227.22,388.50 229.88,392.58 232.53,396.78 235.19,401.09 237.85,405.50 240.50,410.00 243.16,414.56 245.82,419.16 248.47,423.78 251.13,428.41 253.79,433.02 256.44,437.59 259.10,442.11 261.76,446.55 264.41,450.90 267.07,455.14 269.73,459.26 272.38,463.25 275.04,467.09 277.69,470.78 280.35,474.32 283.01,477.69 285.66,480.89 288.32,483.93 290.98,486.81 293.63,489.52 296.29,492.06 298.95,494.45 301.60,496.69 304.26,498.78 306.92,500.72 309.57,502.53 312.23,504.21 314.89,505.76 317.54,507.20 320.20,508.52"/>
<g fill="none" stroke="#0072bd" stroke-width="1.1"><circle cx="57.20" cy="329.45" r="2.15"/><circle cx="59.86" cy="329.39" r="2.15"/><circle cx="62.51" cy="329.33" r="2.15"/><circle cx="65.17" cy="329.28" r="2.15"/><circle cx="67.83" cy="329.24" r="2.15"/><circle cx="70.48" cy="329.19" r="2.15"/><circle cx="73.14" cy="329.16" r="2.15"/><circle cx="75.80" cy="329.13" r="2.15"/><circle cx="78.45" cy="329.10" r="2.15"/><circle cx="81.11" cy="329.09" r="2.15"/><circle cx="83.77" cy="329.07" r="2.15"/><circle cx="86.42" cy="329.07" r="2.15"/><circle cx="89.08" cy="329.07" r="2.15"/><circle cx="91.74" cy="329.08" r="2.15"/><circle cx="94.39" cy="329.10" r="2.15"/><circle cx="97.05" cy="329.13" r="2.15"/><circle cx="99.71" cy="329.16" r="2.15"/><circle cx="102.36" cy="329.21" r="2.15"/><circle cx="105.02" cy="329.26" r="2.15"/><circle cx="107.67" cy="329.33" r="2.15"/><circle cx="110.33" cy="329.41" r="2.15"/><circle cx="112.99" cy="329.50" r="2.15"/><circle cx="115.64" cy="329.61" r="2.15"/><circle cx="118.30" cy="329.73" r="2.15"/><circle cx="120.96" cy="329.87" r="2.15"/><circle cx="123.61" cy="330.03" r="2.15"/><circle cx="126.27" cy="330.20" r="2.15"/><circle cx="128.93" cy="330.40" r="2.15"/><circle cx="131.58" cy="330.62" r="2.15"/><circle cx="134.24" cy="330.87" r="2.15"/><circle cx="136.90" cy="331.14" r="2.15"/><circle cx="139.55" cy="331.45" r="2.15"/><circle cx="142.21" cy="331.79" r="2.15"/><circle cx="144.87" cy="332.16" r="2.15"/><circle cx="147.52" cy="332.57" r="2.15"/><circle cx="150.18" cy="333.03" r="2.15"/><circle cx="152.84" cy="333.53" r="2.15"/><circle cx="155.49" cy="334.08" r="2.15"/><circle cx="158.15" cy="334.69" r="2.15"/><circle cx="160.81" cy="335.35" r="2.15"/><circle cx="163.46" cy="336.08" r="2.15"/><circle cx="166.12" cy="336.88" r="2.15"/><circle cx="168.78" cy="337.76" r="2.15"/><circle cx="171.43" cy="338.71" r="2.15"/><circle cx="174.09" cy="339.75" r="2.15"/><circle cx="176.75" cy="340.89" r="2.15"/><circle cx="179.40" cy="342.13" r="2.15"/><circle cx="182.06" cy="343.47" r="2.15"/><circle cx="184.72" cy="344.93" r="2.15"/><circle cx="187.37" cy="346.51" r="2.15"/><circle cx="190.03" cy="348.22" r="2.15"/><circle cx="192.68" cy="350.07" r="2.15"/><circle cx="195.34" cy="352.05" r="2.15"/><circle cx="198.00" cy="354.19" r="2.15"/><circle cx="200.65" cy="356.48" r="2.15"/><circle cx="203.31" cy="358.93" r="2.15"/><circle cx="205.97" cy="361.54" r="2.15"/><circle cx="208.62" cy="364.33" r="2.15"/><circle cx="211.28" cy="367.28" r="2.15"/><circle cx="213.94" cy="370.40" r="2.15"/><circle cx="216.59" cy="373.70" r="2.15"/><circle cx="219.25" cy="377.16" r="2.15"/><circle cx="221.91" cy="380.79" r="2.15"/><circle cx="224.56" cy="384.57" r="2.15"/><circle cx="227.22" cy="388.50" r="2.15"/><circle cx="229.88" cy="392.58" r="2.15"/><circle cx="232.53" cy="396.78" r="2.15"/><circle cx="235.19" cy="401.09" r="2.15"/><circle cx="237.85" cy="405.50" r="2.15"/><circle cx="240.50" cy="410.00" r="2.15"/><circle cx="243.16" cy="414.56" r="2.15"/><circle cx="245.82" cy="419.16" r="2.15"/><circle cx="248.47" cy="423.78" r="2.15"/><circle cx="251.13" cy="428.41" r="2.15"/><circle cx="253.79" cy="433.02" r="2.15"/><circle cx="256.44" cy="437.59" r="2.15"/><circle cx="259.10" cy="442.11" r="2.15"/><circle cx="261.76" cy="446.55" r="2.15"/><circle cx="264.41" cy="450.90" r="2.15"/><circle cx="267.07" cy="455.14" r="2.15"/><circle cx="269.73" cy="459.26" r="2.15"/><circle cx="272.38" cy="463.25" r="2.15"/><circle cx="275.04" cy="467.09" r="2.15"/><circle cx="277.69" cy="470.78" r="2.15"/><circle cx="280.35" cy="474.32" r="2.15"/><circle cx="283.01" cy="477.69" r="2.15"/><circle cx="285.66" cy="480.89" r="2.15"/><circle cx="288.32" cy="483.93" r="2.15"/><circle cx="290.98" cy="486.81" r="2.15"/><circle cx="293.63" cy="489.52" r="2.15"/><circle cx="296.29" cy="492.06" r="2.15"/><circle cx="298.95" cy="494.45" r="2.15"/><circle cx="301.60" cy="496.69" r="2.15"/><circle cx="304.26" cy="498.78" r="2.15"/><circle cx="306.92" cy="500.72" r="2.15"/><circle cx="309.57" cy="502.53" r="2.15"/><circle cx="312.23" cy="504.21" r="2.15"/><circle cx="314.89" cy="505.76" r="2.15"/><circle cx="317.54" cy="507.20" r="2.15"/><circle cx="320.20" cy="508.52" r="2.15"/></g>
<polyline fill="none" stroke="#d95319" stroke-width="1" points="57.20,327.55 59.86,327.48 62.51,327.42 65.17,327.36 67.83,327.31 70.48,327.27 73.14,327.23 75.80,327.19 78.45,327.16 81.11,327.14 83.77,327.12 86.42,327.11 89.08,327.10 91.74,327.11 94.39,327.12 97.05,327.13 99.71,327.16 102.36,327.19 105.02,327.23 107.67,327.28 110.33,327.35 112.99,327.42 115.64,327.51 118.30,327.60 120.96,327.72 123.61,327.84 126.27,327.99 128.93,328.15 131.58,328.33 134.24,328.53 136.90,328.75 139.55,328.99 142.21,329.27 144.87,329.57 147.52,329.90 150.18,330.26 152.84,330.66 155.49,331.10 158.15,331.58 160.81,332.11 163.46,332.68 166.12,333.32 168.78,334.00 171.43,334.76 174.09,335.58 176.75,336.47 179.40,337.44 182.06,338.50 184.72,339.64 187.37,340.88 190.03,342.22 192.68,343.68 195.34,345.24 198.00,346.93 200.65,348.75 203.31,350.70 205.97,352.79 208.62,355.02 211.28,357.41 213.94,359.95 216.59,362.64 219.25,365.50 221.91,368.52 224.56,371.69 227.22,375.03 229.88,378.52 232.53,382.17 235.19,385.96 237.85,389.88 240.50,393.94 243.16,398.11 245.82,402.38 248.47,406.74 251.13,411.17 253.79,415.65 256.44,420.17 259.10,424.72 261.76,429.26 264.41,433.78 267.07,438.27 269.73,442.70 272.38,447.06 275.04,451.34 277.69,455.51 280.35,459.58 283.01,463.51 285.66,467.32 288.32,470.98 290.98,474.49 293.63,477.85 296.29,481.06 298.95,484.10 301.60,486.99 304.26,489.72 306.92,492.30 309.57,494.73 312.23,497.00 314.89,499.14 317.54,501.13 320.20,502.99"/>
<path fill="none" stroke="#d95319" stroke-width="1.15" d="M55.00 325.20L59.40 327.55L55.00 329.90ZM57.66 325.13L62.06 327.48L57.66 329.83ZM60.31 325.07L64.71 327.42L60.31 329.77ZM62.97 325.01L67.37 327.36L62.97 329.71ZM65.63 324.96L70.03 327.31L65.63 329.66ZM68.28 324.92L72.68 327.27L68.28 329.62ZM70.94 324.88L75.34 327.23L70.94 329.58ZM73.60 324.84L78.00 327.19L73.60 329.54ZM76.25 324.81L80.65 327.16L76.25 329.51ZM78.91 324.79L83.31 327.14L78.91 329.49ZM81.57 324.77L85.97 327.12L81.57 329.47ZM84.22 324.76L88.62 327.11L84.22 329.46ZM86.88 324.75L91.28 327.10L86.88 329.45ZM89.54 324.76L93.94 327.11L89.54 329.46ZM92.19 324.77L96.59 327.12L92.19 329.47ZM94.85 324.78L99.25 327.13L94.85 329.48ZM97.51 324.81L101.91 327.16L97.51 329.51ZM100.16 324.84L104.56 327.19L100.16 329.54ZM102.82 324.88L107.22 327.23L102.82 329.58ZM105.47 324.93L109.87 327.28L105.47 329.63ZM108.13 325.00L112.53 327.35L108.13 329.70ZM110.79 325.07L115.19 327.42L110.79 329.77ZM113.44 325.16L117.84 327.51L113.44 329.86ZM116.10 325.25L120.50 327.60L116.10 329.95ZM118.76 325.37L123.16 327.72L118.76 330.07ZM121.41 325.49L125.81 327.84L121.41 330.19ZM124.07 325.64L128.47 327.99L124.07 330.34ZM126.73 325.80L131.13 328.15L126.73 330.50ZM129.38 325.98L133.78 328.33L129.38 330.68ZM132.04 326.18L136.44 328.53L132.04 330.88ZM134.70 326.40L139.10 328.75L134.70 331.10ZM137.35 326.64L141.75 328.99L137.35 331.34ZM140.01 326.92L144.41 329.27L140.01 331.62ZM142.67 327.22L147.07 329.57L142.67 331.92ZM145.32 327.55L149.72 329.90L145.32 332.25ZM147.98 327.91L152.38 330.26L147.98 332.61ZM150.64 328.31L155.04 330.66L150.64 333.01ZM153.29 328.75L157.69 331.10L153.29 333.45ZM155.95 329.23L160.35 331.58L155.95 333.93ZM158.61 329.76L163.01 332.11L158.61 334.46ZM161.26 330.33L165.66 332.68L161.26 335.03ZM163.92 330.97L168.32 333.32L163.92 335.67ZM166.58 331.65L170.98 334.00L166.58 336.35ZM169.23 332.41L173.63 334.76L169.23 337.11ZM171.89 333.23L176.29 335.58L171.89 337.93ZM174.55 334.12L178.95 336.47L174.55 338.82ZM177.20 335.09L181.60 337.44L177.20 339.79ZM179.86 336.15L184.26 338.50L179.86 340.85ZM182.52 337.29L186.92 339.64L182.52 341.99ZM185.17 338.53L189.57 340.88L185.17 343.23ZM187.83 339.87L192.23 342.22L187.83 344.57ZM190.48 341.33L194.88 343.68L190.48 346.03ZM193.14 342.89L197.54 345.24L193.14 347.59ZM195.80 344.58L200.20 346.93L195.80 349.28ZM198.45 346.40L202.85 348.75L198.45 351.10ZM201.11 348.35L205.51 350.70L201.11 353.05ZM203.77 350.44L208.17 352.79L203.77 355.14ZM206.42 352.67L210.82 355.02L206.42 357.37ZM209.08 355.06L213.48 357.41L209.08 359.76ZM211.74 357.60L216.14 359.95L211.74 362.30ZM214.39 360.29L218.79 362.64L214.39 364.99ZM217.05 363.15L221.45 365.50L217.05 367.85ZM219.71 366.17L224.11 368.52L219.71 370.87ZM222.36 369.34L226.76 371.69L222.36 374.04ZM225.02 372.68L229.42 375.03L225.02 377.38ZM227.68 376.17L232.08 378.52L227.68 380.87ZM230.33 379.82L234.73 382.17L230.33 384.52ZM232.99 383.61L237.39 385.96L232.99 388.31ZM235.65 387.53L240.05 389.88L235.65 392.23ZM238.30 391.59L242.70 393.94L238.30 396.29ZM240.96 395.76L245.36 398.11L240.96 400.46ZM243.62 400.03L248.02 402.38L243.62 404.73ZM246.27 404.39L250.67 406.74L246.27 409.09ZM248.93 408.82L253.33 411.17L248.93 413.52ZM251.59 413.30L255.99 415.65L251.59 418.00ZM254.24 417.82L258.64 420.17L254.24 422.52ZM256.90 422.37L261.30 424.72L256.90 427.07ZM259.56 426.91L263.96 429.26L259.56 431.61ZM262.21 431.43L266.61 433.78L262.21 436.13ZM264.87 435.92L269.27 438.27L264.87 440.62ZM267.53 440.35L271.93 442.70L267.53 445.05ZM270.18 444.71L274.58 447.06L270.18 449.41ZM272.84 448.99L277.24 451.34L272.84 453.69ZM275.49 453.16L279.89 455.51L275.49 457.86ZM278.15 457.23L282.55 459.58L278.15 461.93ZM280.81 461.16L285.21 463.51L280.81 465.86ZM283.46 464.97L287.86 467.32L283.46 469.67ZM286.12 468.63L290.52 470.98L286.12 473.33ZM288.78 472.14L293.18 474.49L288.78 476.84ZM291.43 475.50L295.83 477.85L291.43 480.20ZM294.09 478.71L298.49 481.06L294.09 483.41ZM296.75 481.75L301.15 484.10L296.75 486.45ZM299.40 484.64L303.80 486.99L299.40 489.34ZM302.06 487.37L306.46 489.72L302.06 492.07ZM304.72 489.95L309.12 492.30L304.72 494.65ZM307.37 492.38L311.77 494.73L307.37 497.08ZM310.03 494.65L314.43 497.00L310.03 499.35ZM312.69 496.79L317.09 499.14L312.69 501.49ZM315.34 498.78L319.74 501.13L315.34 503.48ZM318.00 500.64L322.40 502.99L318.00 505.34Z"/>
</g>
<rect x="54.60" y="319.30" width="275.80" height="228.00" fill="none" stroke="#262626" stroke-width="1.1"/>
<path stroke="#262626" stroke-width="1" d="M54.60 534.39h3.1M330.40 534.39h-3.1M54.60 512.88h3.1M330.40 512.88h-3.1M54.60 491.38h3.1M330.40 491.38h-3.1M54.60 469.87h3.1M330.40 469.87h-3.1M54.60 448.36h3.1M330.40 448.36h-3.1M54.60 426.85h3.1M330.40 426.85h-3.1M54.60 405.34h3.1M330.40 405.34h-3.1M54.60 383.83h3.1M330.40 383.83h-3.1M54.60 362.32h3.1M330.40 362.32h-3.1M54.60 340.81h3.1M330.40 340.81h-3.1M54.60 319.30h3.1M330.40 319.30h-3.1M54.60 547.30v-3.0M54.60 319.30v3.0M86.51 547.30v-1.7M86.51 319.30v1.7M105.17 547.30v-1.7M105.17 319.30v1.7M118.41 547.30v-1.7M118.41 319.30v1.7M128.69 547.30v-1.7M128.69 319.30v1.7M137.08 547.30v-1.7M137.08 319.30v1.7M144.17 547.30v-1.7M144.17 319.30v1.7M150.32 547.30v-1.7M150.32 319.30v1.7M155.74 547.30v-1.7M155.74 319.30v1.7M160.59 547.30v-3.0M160.59 319.30v3.0M192.50 547.30v-1.7M192.50 319.30v1.7M211.16 547.30v-1.7M211.16 319.30v1.7M224.41 547.30v-1.7M224.41 319.30v1.7M234.68 547.30v-1.7M234.68 319.30v1.7M243.07 547.30v-1.7M243.07 319.30v1.7M250.17 547.30v-1.7M250.17 319.30v1.7M256.31 547.30v-1.7M256.31 319.30v1.7M261.74 547.30v-1.7M261.74 319.30v1.7M266.59 547.30v-3.0M266.59 319.30v3.0M298.49 547.30v-1.7M298.49 319.30v1.7M317.16 547.30v-1.7M317.16 319.30v1.7M330.40 547.30v-1.7M330.40 319.30v1.7"/>
<text x="40.19" y="538.99" class="t">0</text>
<text x="26.42" y="517.48" class="t">0.05</text>
<text x="31.93" y="495.98" class="t">0.1</text>
<text x="26.42" y="474.47" class="t">0.15</text>
<text x="31.93" y="452.96" class="t">0.2</text>
<text x="26.42" y="431.45" class="t">0.25</text>
<text x="31.93" y="409.94" class="t">0.3</text>
<text x="26.42" y="388.43" class="t">0.35</text>
<text x="31.93" y="366.92" class="t">0.4</text>
<text x="26.42" y="345.41" class="t">0.45</text>
<text x="31.93" y="323.90" class="t">0.5</text>
<text x="44.18" y="564.60" class="t">10</text>
<text x="57.83" y="559.60" class="s">2</text>
<text x="150.63" y="564.60" class="t">10</text>
<text x="163.98" y="559.70" class="s">3</text>
<text x="257.13" y="564.60" class="t">10</text>
<text x="269.93" y="559.30" class="s">4</text>
<text x="188.60" y="586.70" text-anchor="middle" class="f">Frequency [kHz]</text>
<text transform="translate(11.20,425.25) rotate(-90)" text-anchor="middle" class="f">Reflection coefficient</text>
<text x="0.5" y="315.7" class="p">(c)</text>
<g clip-path="url(#cd)">
<polyline fill="none" stroke="#ff00ff" stroke-width="1.2" stroke-dasharray="7.6 4.5" points="405.20,493.40 407.91,493.42 410.62,493.44 413.34,493.46 416.05,493.48 418.76,493.50 421.47,493.53 424.18,493.56 426.90,493.59 429.61,493.63 432.32,493.67 435.03,493.71 437.75,493.76 440.46,493.82 443.17,493.88 445.88,493.96 448.59,494.04 451.31,494.13 454.02,494.23 456.73,494.34 459.44,494.47 462.15,494.62 464.87,494.78 467.58,494.96 470.29,495.16 473.00,495.38 475.72,495.62 478.43,495.89 481.14,496.19 483.85,496.52 486.56,496.88 489.28,497.27 491.99,497.69 494.70,498.15 497.41,498.65 500.12,499.18 502.84,499.75 505.55,500.36 508.26,501.01 510.97,501.69 513.68,502.41 516.40,503.17 519.11,503.96 521.82,504.79 524.53,505.64 527.25,506.52 529.96,507.43 532.67,508.36 535.38,509.31 538.09,510.27 540.81,511.24 543.52,512.22 546.23,513.20 548.94,514.18 551.65,515.15 554.37,516.12 557.08,517.08 559.79,518.02 562.50,518.95 565.22,519.86 567.93,520.74 570.64,521.60 573.35,522.44 576.06,523.25 578.78,524.03 581.49,524.78 584.20,525.50 586.91,526.20 589.62,526.86 592.34,527.49 595.05,528.10 597.76,528.67 600.47,529.22 603.18,529.74 605.90,530.23 608.61,530.69 611.32,531.13 614.03,531.55 616.75,531.94 619.46,532.30 622.17,532.65 624.88,532.98 627.59,533.28 630.31,533.57 633.02,533.84 635.73,534.09 638.44,534.33 641.15,534.55 643.87,534.76 646.58,534.95 649.29,535.14 652.00,535.31 654.72,535.47 657.43,535.62 660.14,535.76 662.85,535.89 665.56,536.01 668.28,536.13 670.99,536.24 673.70,536.34"/>
<line x1="402.60" y1="538.20" x2="673.70" y2="538.20" stroke="#333" stroke-width="1.0"/>
<polyline fill="none" stroke="#ff0000" stroke-width="1" points="405.20,410.70 407.91,410.73 410.62,410.76 413.34,410.79 416.05,410.82 418.76,410.85 421.47,410.88 424.18,410.91 426.90,410.94 429.61,410.96 432.32,410.99 435.03,411.02 437.75,411.05 440.46,411.08 443.17,411.11 445.88,411.14 448.59,411.18 451.31,411.21 454.02,411.25 456.73,411.29 459.44,411.33 462.15,411.38 464.87,411.43 467.58,411.49 470.29,411.55 473.00,411.62 475.72,411.70 478.43,411.78 481.14,411.88 483.85,411.99 486.56,412.11 489.28,412.24 491.99,412.39 494.70,412.56 497.41,412.74 500.12,412.95 502.84,413.19 505.55,413.45 508.26,413.75 510.97,414.07 513.68,414.44 516.40,414.85 519.11,415.30 521.82,415.80 524.53,416.35 527.25,416.96 529.96,417.64 532.67,418.38 535.38,419.19 538.09,420.08 540.81,421.04 543.52,422.10 546.23,423.24 548.94,424.47 551.65,425.80 554.37,427.23 557.08,428.76 559.79,430.38 562.50,432.12 565.22,433.95 567.93,435.88 570.64,437.91 573.35,440.04 576.06,442.25 578.78,444.56 581.49,446.94 584.20,449.39 586.91,451.91 589.62,454.48 592.34,457.10 595.05,459.75 597.76,462.44 600.47,465.13 603.18,467.84 605.90,470.55 608.61,473.24 611.32,475.91 614.03,478.54 616.75,481.14 619.46,483.70 622.17,486.19 624.88,488.63 627.59,491.01 630.31,493.31 633.02,495.54 635.73,497.70 638.44,499.77 641.15,501.77 643.87,503.68 646.58,505.51 649.29,507.26 652.00,508.93 654.72,510.52 657.43,512.03 660.14,513.46 662.85,514.82 665.56,516.11 668.28,517.32 670.99,518.47 673.70,519.55"/>
<path fill="none" stroke="#ff0000" stroke-width="1.15" d="M402.60 410.70h5.20M405.20 408.10v5.20M405.31 410.73h5.20M407.91 408.13v5.20M408.02 410.76h5.20M410.62 408.16v5.20M410.74 410.79h5.20M413.34 408.19v5.20M413.45 410.82h5.20M416.05 408.22v5.20M416.16 410.85h5.20M418.76 408.25v5.20M418.87 410.88h5.20M421.47 408.28v5.20M421.58 410.91h5.20M424.18 408.31v5.20M424.30 410.94h5.20M426.90 408.34v5.20M427.01 410.96h5.20M429.61 408.36v5.20M429.72 410.99h5.20M432.32 408.39v5.20M432.43 411.02h5.20M435.03 408.42v5.20M435.15 411.05h5.20M437.75 408.45v5.20M437.86 411.08h5.20M440.46 408.48v5.20M440.57 411.11h5.20M443.17 408.51v5.20M443.28 411.14h5.20M445.88 408.54v5.20M445.99 411.18h5.20M448.59 408.58v5.20M448.71 411.21h5.20M451.31 408.61v5.20M451.42 411.25h5.20M454.02 408.65v5.20M454.13 411.29h5.20M456.73 408.69v5.20M456.84 411.33h5.20M459.44 408.73v5.20M459.55 411.38h5.20M462.15 408.78v5.20M462.27 411.43h5.20M464.87 408.83v5.20M464.98 411.49h5.20M467.58 408.89v5.20M467.69 411.55h5.20M470.29 408.95v5.20M470.40 411.62h5.20M473.00 409.02v5.20M473.12 411.70h5.20M475.72 409.10v5.20M475.83 411.78h5.20M478.43 409.18v5.20M478.54 411.88h5.20M481.14 409.28v5.20M481.25 411.99h5.20M483.85 409.39v5.20M483.96 412.11h5.20M486.56 409.51v5.20M486.68 412.24h5.20M489.28 409.64v5.20M489.39 412.39h5.20M491.99 409.79v5.20M492.10 412.56h5.20M494.70 409.96v5.20M494.81 412.74h5.20M497.41 410.14v5.20M497.52 412.95h5.20M500.12 410.35v5.20M500.24 413.19h5.20M502.84 410.59v5.20M502.95 413.45h5.20M505.55 410.85v5.20M505.66 413.75h5.20M508.26 411.15v5.20M508.37 414.07h5.20M510.97 411.47v5.20M511.08 414.44h5.20M513.68 411.84v5.20M513.80 414.85h5.20M516.40 412.25v5.20M516.51 415.30h5.20M519.11 412.70v5.20M519.22 415.80h5.20M521.82 413.20v5.20M521.93 416.35h5.20M524.53 413.75v5.20M524.65 416.96h5.20M527.25 414.36v5.20M527.36 417.64h5.20M529.96 415.04v5.20M530.07 418.38h5.20M532.67 415.78v5.20M532.78 419.19h5.20M535.38 416.59v5.20M535.49 420.08h5.20M538.09 417.48v5.20M538.21 421.04h5.20M540.81 418.44v5.20M540.92 422.10h5.20M543.52 419.50v5.20M543.63 423.24h5.20M546.23 420.64v5.20M546.34 424.47h5.20M548.94 421.87v5.20M549.05 425.80h5.20M551.65 423.20v5.20M551.77 427.23h5.20M554.37 424.63v5.20M554.48 428.76h5.20M557.08 426.16v5.20M557.19 430.38h5.20M559.79 427.78v5.20M559.90 432.12h5.20M562.50 429.52v5.20M562.62 433.95h5.20M565.22 431.35v5.20M565.33 435.88h5.20M567.93 433.28v5.20M568.04 437.91h5.20M570.64 435.31v5.20M570.75 440.04h5.20M573.35 437.44v5.20M573.46 442.25h5.20M576.06 439.65v5.20M576.18 444.56h5.20M578.78 441.96v5.20M578.89 446.94h5.20M581.49 444.34v5.20M581.60 449.39h5.20M584.20 446.79v5.20M584.31 451.91h5.20M586.91 449.31v5.20M587.02 454.48h5.20M589.62 451.88v5.20M589.74 457.10h5.20M592.34 454.50v5.20M592.45 459.75h5.20M595.05 457.15v5.20M595.16 462.44h5.20M597.76 459.84v5.20M597.87 465.13h5.20M600.47 462.53v5.20M600.58 467.84h5.20M603.18 465.24v5.20M603.30 470.55h5.20M605.90 467.95v5.20M606.01 473.24h5.20M608.61 470.64v5.20M608.72 475.91h5.20M611.32 473.31v5.20M611.43 478.54h5.20M614.03 475.94v5.20M614.15 481.14h5.20M616.75 478.54v5.20M616.86 483.70h5.20M619.46 481.10v5.20M619.57 486.19h5.20M622.17 483.59v5.20M622.28 488.63h5.20M624.88 486.03v5.20M624.99 491.01h5.20M627.59 488.41v5.20M627.71 493.31h5.20M630.31 490.71v5.20M630.42 495.54h5.20M633.02 492.94v5.20M633.13 497.70h5.20M635.73 495.10v5.20M635.84 499.77h5.20M638.44 497.17v5.20M638.55 501.77h5.20M641.15 499.17v5.20M641.27 503.68h5.20M643.87 501.08v5.20M643.98 505.51h5.20M646.58 502.91v5.20M646.69 507.26h5.20M649.29 504.66v5.20M649.40 508.93h5.20M652.00 506.33v5.20M652.12 510.52h5.20M654.72 507.92v5.20M654.83 512.03h5.20M657.43 509.43v5.20M657.54 513.46h5.20M660.14 510.86v5.20M660.25 514.82h5.20M662.85 512.22v5.20M662.96 516.11h5.20M665.56 513.51v5.20M665.68 517.32h5.20M668.28 514.72v5.20M668.39 518.47h5.20M670.99 515.87v5.20M671.10 519.55h5.20M673.70 516.95v5.20"/>
<polyline fill="none" stroke="#00ff00" stroke-width="1" points="405.20,374.16 407.91,374.21 410.62,374.25 413.34,374.29 416.05,374.33 418.76,374.37 421.47,374.41 424.18,374.45 426.90,374.48 429.61,374.52 432.32,374.56 435.03,374.60 437.75,374.64 440.46,374.68 443.17,374.72 445.88,374.76 448.59,374.80 451.31,374.84 454.02,374.89 456.73,374.93 459.44,374.98 462.15,375.03 464.87,375.09 467.58,375.15 470.29,375.21 473.00,375.28 475.72,375.35 478.43,375.43 481.14,375.51 483.85,375.60 486.56,375.70 489.28,375.81 491.99,375.93 494.70,376.07 497.41,376.21 500.12,376.37 502.84,376.55 505.55,376.74 508.26,376.95 510.97,377.18 513.68,377.44 516.40,377.72 519.11,378.03 521.82,378.37 524.53,378.75 527.25,379.16 529.96,379.62 532.67,380.11 535.38,380.66 538.09,381.26 540.81,381.92 543.52,382.63 546.23,383.42 548.94,384.27 551.65,385.20 554.37,386.21 557.08,387.31 559.79,388.51 562.50,389.80 565.22,391.19 567.93,392.70 570.64,394.31 573.35,396.04 576.06,397.90 578.78,399.88 581.49,401.98 584.20,404.22 586.91,406.58 589.62,409.07 592.34,411.68 595.05,414.41 597.76,417.26 600.47,420.22 603.18,423.28 605.90,426.44 608.61,429.67 611.32,432.98 614.03,436.34 616.75,439.74 619.46,443.17 622.17,446.62 624.88,450.06 627.59,453.49 630.31,456.89 633.02,460.24 635.73,463.53 638.44,466.75 641.15,469.90 643.87,472.95 646.58,475.90 649.29,478.75 652.00,481.49 654.72,484.11 657.43,486.61 660.14,489.00 662.85,491.26 665.56,493.40 668.28,495.43 670.99,497.34 673.70,499.13"/>
<path fill="none" stroke="#00ff00" stroke-width="1.15" d="M403.10 372.06l4.20 4.20M403.10 376.26l4.20 -4.20M405.81 372.11l4.20 4.20M405.81 376.31l4.20 -4.20M408.52 372.15l4.20 4.20M408.52 376.35l4.20 -4.20M411.24 372.19l4.20 4.20M411.24 376.39l4.20 -4.20M413.95 372.23l4.20 4.20M413.95 376.43l4.20 -4.20M416.66 372.27l4.20 4.20M416.66 376.47l4.20 -4.20M419.37 372.31l4.20 4.20M419.37 376.51l4.20 -4.20M422.08 372.35l4.20 4.20M422.08 376.55l4.20 -4.20M424.80 372.38l4.20 4.20M424.80 376.58l4.20 -4.20M427.51 372.42l4.20 4.20M427.51 376.62l4.20 -4.20M430.22 372.46l4.20 4.20M430.22 376.66l4.20 -4.20M432.93 372.50l4.20 4.20M432.93 376.70l4.20 -4.20M435.65 372.54l4.20 4.20M435.65 376.74l4.20 -4.20M438.36 372.58l4.20 4.20M438.36 376.78l4.20 -4.20M441.07 372.62l4.20 4.20M441.07 376.82l4.20 -4.20M443.78 372.66l4.20 4.20M443.78 376.86l4.20 -4.20M446.49 372.70l4.20 4.20M446.49 376.90l4.20 -4.20M449.21 372.74l4.20 4.20M449.21 376.94l4.20 -4.20M451.92 372.79l4.20 4.20M451.92 376.99l4.20 -4.20M454.63 372.83l4.20 4.20M454.63 377.03l4.20 -4.20M457.34 372.88l4.20 4.20M457.34 377.08l4.20 -4.20M460.05 372.93l4.20 4.20M460.05 377.13l4.20 -4.20M462.77 372.99l4.20 4.20M462.77 377.19l4.20 -4.20M465.48 373.05l4.20 4.20M465.48 377.25l4.20 -4.20M468.19 373.11l4.20 4.20M468.19 377.31l4.20 -4.20M470.90 373.18l4.20 4.20M470.90 377.38l4.20 -4.20M473.62 373.25l4.20 4.20M473.62 377.45l4.20 -4.20M476.33 373.33l4.20 4.20M476.33 377.53l4.20 -4.20M479.04 373.41l4.20 4.20M479.04 377.61l4.20 -4.20M481.75 373.50l4.20 4.20M481.75 377.70l4.20 -4.20M484.46 373.60l4.20 4.20M484.46 377.80l4.20 -4.20M487.18 373.71l4.20 4.20M487.18 377.91l4.20 -4.20M489.89 373.83l4.20 4.20M489.89 378.03l4.20 -4.20M492.60 373.97l4.20 4.20M492.60 378.17l4.20 -4.20M495.31 374.11l4.20 4.20M495.31 378.31l4.20 -4.20M498.02 374.27l4.20 4.20M498.02 378.47l4.20 -4.20M500.74 374.45l4.20 4.20M500.74 378.65l4.20 -4.20M503.45 374.64l4.20 4.20M503.45 378.84l4.20 -4.20M506.16 374.85l4.20 4.20M506.16 379.05l4.20 -4.20M508.87 375.08l4.20 4.20M508.87 379.28l4.20 -4.20M511.58 375.34l4.20 4.20M511.58 379.54l4.20 -4.20M514.30 375.62l4.20 4.20M514.30 379.82l4.20 -4.20M517.01 375.93l4.20 4.20M517.01 380.13l4.20 -4.20M519.72 376.27l4.20 4.20M519.72 380.47l4.20 -4.20M522.43 376.65l4.20 4.20M522.43 380.85l4.20 -4.20M525.15 377.06l4.20 4.20M525.15 381.26l4.20 -4.20M527.86 377.52l4.20 4.20M527.86 381.72l4.20 -4.20M530.57 378.01l4.20 4.20M530.57 382.21l4.20 -4.20M533.28 378.56l4.20 4.20M533.28 382.76l4.20 -4.20M535.99 379.16l4.20 4.20M535.99 383.36l4.20 -4.20M538.71 379.82l4.20 4.20M538.71 384.02l4.20 -4.20M541.42 380.53l4.20 4.20M541.42 384.73l4.20 -4.20M544.13 381.32l4.20 4.20M544.13 385.52l4.20 -4.20M546.84 382.17l4.20 4.20M546.84 386.37l4.20 -4.20M549.55 383.10l4.20 4.20M549.55 387.30l4.20 -4.20M552.27 384.11l4.20 4.20M552.27 388.31l4.20 -4.20M554.98 385.21l4.20 4.20M554.98 389.41l4.20 -4.20M557.69 386.41l4.20 4.20M557.69 390.61l4.20 -4.20M560.40 387.70l4.20 4.20M560.40 391.90l4.20 -4.20M563.12 389.09l4.20 4.20M563.12 393.29l4.20 -4.20M565.83 390.60l4.20 4.20M565.83 394.80l4.20 -4.20M568.54 392.21l4.20 4.20M568.54 396.41l4.20 -4.20M571.25 393.94l4.20 4.20M571.25 398.14l4.20 -4.20M573.96 395.80l4.20 4.20M573.96 400.00l4.20 -4.20M576.68 397.78l4.20 4.20M576.68 401.98l4.20 -4.20M579.39 399.88l4.20 4.20M579.39 404.08l4.20 -4.20M582.10 402.12l4.20 4.20M582.10 406.32l4.20 -4.20M584.81 404.48l4.20 4.20M584.81 408.68l4.20 -4.20M587.52 406.97l4.20 4.20M587.52 411.17l4.20 -4.20M590.24 409.58l4.20 4.20M590.24 413.78l4.20 -4.20M592.95 412.31l4.20 4.20M592.95 416.51l4.20 -4.20M595.66 415.16l4.20 4.20M595.66 419.36l4.20 -4.20M598.37 418.12l4.20 4.20M598.37 422.32l4.20 -4.20M601.08 421.18l4.20 4.20M601.08 425.38l4.20 -4.20M603.80 424.34l4.20 4.20M603.80 428.54l4.20 -4.20M606.51 427.57l4.20 4.20M606.51 431.77l4.20 -4.20M609.22 430.88l4.20 4.20M609.22 435.08l4.20 -4.20M611.93 434.24l4.20 4.20M611.93 438.44l4.20 -4.20M614.65 437.64l4.20 4.20M614.65 441.84l4.20 -4.20M617.36 441.07l4.20 4.20M617.36 445.27l4.20 -4.20M620.07 444.52l4.20 4.20M620.07 448.72l4.20 -4.20M622.78 447.96l4.20 4.20M622.78 452.16l4.20 -4.20M625.49 451.39l4.20 4.20M625.49 455.59l4.20 -4.20M628.21 454.79l4.20 4.20M628.21 458.99l4.20 -4.20M630.92 458.14l4.20 4.20M630.92 462.34l4.20 -4.20M633.63 461.43l4.20 4.20M633.63 465.63l4.20 -4.20M636.34 464.65l4.20 4.20M636.34 468.85l4.20 -4.20M639.05 467.80l4.20 4.20M639.05 472.00l4.20 -4.20M641.77 470.85l4.20 4.20M641.77 475.05l4.20 -4.20M644.48 473.80l4.20 4.20M644.48 478.00l4.20 -4.20M647.19 476.65l4.20 4.20M647.19 480.85l4.20 -4.20M649.90 479.39l4.20 4.20M649.90 483.59l4.20 -4.20M652.62 482.01l4.20 4.20M652.62 486.21l4.20 -4.20M655.33 484.51l4.20 4.20M655.33 488.71l4.20 -4.20M658.04 486.90l4.20 4.20M658.04 491.10l4.20 -4.20M660.75 489.16l4.20 4.20M660.75 493.36l4.20 -4.20M663.46 491.30l4.20 4.20M663.46 495.50l4.20 -4.20M666.18 493.33l4.20 4.20M666.18 497.53l4.20 -4.20M668.89 495.24l4.20 4.20M668.89 499.44l4.20 -4.20M671.60 497.03l4.20 4.20M671.60 501.23l4.20 -4.20"/>
<polyline fill="none" stroke="#0000ff" stroke-width="1" points="405.20,353.29 407.91,353.25 410.62,353.21 413.34,353.18 416.05,353.15 418.76,353.11 421.47,353.09 424.18,353.06 426.90,353.04 429.61,353.01 432.32,352.99 435.03,352.97 437.75,352.96 440.46,352.94 443.17,352.93 445.88,352.92 448.59,352.92 451.31,352.92 454.02,352.91 456.73,352.92 459.44,352.92 462.15,352.93 464.87,352.95 467.58,352.96 470.29,352.99 473.00,353.01 475.72,353.05 478.43,353.08 481.14,353.13 483.85,353.18 486.56,353.23 489.28,353.30 491.99,353.37 494.70,353.45 497.41,353.55 500.12,353.65 502.84,353.77 505.55,353.90 508.26,354.04 510.97,354.20 513.68,354.38 516.40,354.57 519.11,354.79 521.82,355.03 524.53,355.29 527.25,355.59 529.96,355.91 532.67,356.26 535.38,356.65 538.09,357.08 540.81,357.55 543.52,358.07 546.23,358.64 548.94,359.26 551.65,359.94 554.37,360.68 557.08,361.49 559.79,362.37 562.50,363.33 565.22,364.38 567.93,365.51 570.64,366.74 573.35,368.07 576.06,369.50 578.78,371.05 581.49,372.71 584.20,374.50 586.91,376.41 589.62,378.45 592.34,380.63 595.05,382.94 597.76,385.40 600.47,387.99 603.18,390.72 605.90,393.58 608.61,396.59 611.32,399.72 614.03,402.98 616.75,406.36 619.46,409.85 622.17,413.44 624.88,417.12 627.59,420.87 630.31,424.70 633.02,428.58 635.73,432.49 638.44,436.43 641.15,440.38 643.87,444.32 646.58,448.24 649.29,452.12 652.00,455.96 654.72,459.74 657.43,463.44 660.14,467.06 662.85,470.58 665.56,474.01 668.28,477.32 670.99,480.52 673.70,483.60"/>
<path fill="none" stroke="#0000ff" stroke-width="1.15" d="M402.50 353.29h5.40M405.20 350.59v5.40M403.25 351.34l3.90 3.90M403.25 355.24l3.90 -3.90M405.21 353.25h5.40M407.91 350.55v5.40M405.96 351.30l3.90 3.90M405.96 355.20l3.90 -3.90M407.92 353.21h5.40M410.62 350.51v5.40M408.67 351.26l3.90 3.90M408.67 355.16l3.90 -3.90M410.64 353.18h5.40M413.34 350.48v5.40M411.39 351.23l3.90 3.90M411.39 355.13l3.90 -3.90M413.35 353.15h5.40M416.05 350.45v5.40M414.10 351.20l3.90 3.90M414.10 355.10l3.90 -3.90M416.06 353.11h5.40M418.76 350.41v5.40M416.81 351.16l3.90 3.90M416.81 355.06l3.90 -3.90M418.77 353.09h5.40M421.47 350.39v5.40M419.52 351.14l3.90 3.90M419.52 355.04l3.90 -3.90M421.48 353.06h5.40M424.18 350.36v5.40M422.23 351.11l3.90 3.90M422.23 355.01l3.90 -3.90M424.20 353.04h5.40M426.90 350.34v5.40M424.95 351.09l3.90 3.90M424.95 354.99l3.90 -3.90M426.91 353.01h5.40M429.61 350.31v5.40M427.66 351.06l3.90 3.90M427.66 354.96l3.90 -3.90M429.62 352.99h5.40M432.32 350.29v5.40M430.37 351.04l3.90 3.90M430.37 354.94l3.90 -3.90M432.33 352.97h5.40M435.03 350.27v5.40M433.08 351.02l3.90 3.90M433.08 354.92l3.90 -3.90M435.05 352.96h5.40M437.75 350.26v5.40M435.80 351.01l3.90 3.90M435.80 354.91l3.90 -3.90M437.76 352.94h5.40M440.46 350.24v5.40M438.51 350.99l3.90 3.90M438.51 354.89l3.90 -3.90M440.47 352.93h5.40M443.17 350.23v5.40M441.22 350.98l3.90 3.90M441.22 354.88l3.90 -3.90M443.18 352.92h5.40M445.88 350.22v5.40M443.93 350.97l3.90 3.90M443.93 354.87l3.90 -3.90M445.89 352.92h5.40M448.59 350.22v5.40M446.64 350.97l3.90 3.90M446.64 354.87l3.90 -3.90M448.61 352.92h5.40M451.31 350.22v5.40M449.36 350.97l3.90 3.90M449.36 354.87l3.90 -3.90M451.32 352.91h5.40M454.02 350.21v5.40M452.07 350.96l3.90 3.90M452.07 354.86l3.90 -3.90M454.03 352.92h5.40M456.73 350.22v5.40M454.78 350.97l3.90 3.90M454.78 354.87l3.90 -3.90M456.74 352.92h5.40M459.44 350.22v5.40M457.49 350.97l3.90 3.90M457.49 354.87l3.90 -3.90M459.45 352.93h5.40M462.15 350.23v5.40M460.20 350.98l3.90 3.90M460.20 354.88l3.90 -3.90M462.17 352.95h5.40M464.87 350.25v5.40M462.92 351.00l3.90 3.90M462.92 354.90l3.90 -3.90M464.88 352.96h5.40M467.58 350.26v5.40M465.63 351.01l3.90 3.90M465.63 354.91l3.90 -3.90M467.59 352.99h5.40M470.29 350.29v5.40M468.34 351.04l3.90 3.90M468.34 354.94l3.90 -3.90M470.30 353.01h5.40M473.00 350.31v5.40M471.05 351.06l3.90 3.90M471.05 354.96l3.90 -3.90M473.02 353.05h5.40M475.72 350.35v5.40M473.77 351.10l3.90 3.90M473.77 355.00l3.90 -3.90M475.73 353.08h5.40M478.43 350.38v5.40M476.48 351.13l3.90 3.90M476.48 355.03l3.90 -3.90M478.44 353.13h5.40M481.14 350.43v5.40M479.19 351.18l3.90 3.90M479.19 355.08l3.90 -3.90M481.15 353.18h5.40M483.85 350.48v5.40M481.90 351.23l3.90 3.90M481.90 355.13l3.90 -3.90M483.86 353.23h5.40M486.56 350.53v5.40M484.61 351.28l3.90 3.90M484.61 355.18l3.90 -3.90M486.58 353.30h5.40M489.28 350.60v5.40M487.33 351.35l3.90 3.90M487.33 355.25l3.90 -3.90M489.29 353.37h5.40M491.99 350.67v5.40M490.04 351.42l3.90 3.90M490.04 355.32l3.90 -3.90M492.00 353.45h5.40M494.70 350.75v5.40M492.75 351.50l3.90 3.90M492.75 355.40l3.90 -3.90M494.71 353.55h5.40M497.41 350.85v5.40M495.46 351.60l3.90 3.90M495.46 355.50l3.90 -3.90M497.42 353.65h5.40M500.12 350.95v5.40M498.17 351.70l3.90 3.90M498.17 355.60l3.90 -3.90M500.14 353.77h5.40M502.84 351.07v5.40M500.89 351.82l3.90 3.90M500.89 355.72l3.90 -3.90M502.85 353.90h5.40M505.55 351.20v5.40M503.60 351.95l3.90 3.90M503.60 355.85l3.90 -3.90M505.56 354.04h5.40M508.26 351.34v5.40M506.31 352.09l3.90 3.90M506.31 355.99l3.90 -3.90M508.27 354.20h5.40M510.97 351.50v5.40M509.02 352.25l3.90 3.90M509.02 356.15l3.90 -3.90M510.98 354.38h5.40M513.68 351.68v5.40M511.73 352.43l3.90 3.90M511.73 356.33l3.90 -3.90M513.70 354.57h5.40M516.40 351.87v5.40M514.45 352.62l3.90 3.90M514.45 356.52l3.90 -3.90M516.41 354.79h5.40M519.11 352.09v5.40M517.16 352.84l3.90 3.90M517.16 356.74l3.90 -3.90M519.12 355.03h5.40M521.82 352.33v5.40M519.87 353.08l3.90 3.90M519.87 356.98l3.90 -3.90M521.83 355.29h5.40M524.53 352.59v5.40M522.58 353.34l3.90 3.90M522.58 357.24l3.90 -3.90M524.55 355.59h5.40M527.25 352.89v5.40M525.30 353.64l3.90 3.90M525.30 357.54l3.90 -3.90M527.26 355.91h5.40M529.96 353.21v5.40M528.01 353.96l3.90 3.90M528.01 357.86l3.90 -3.90M529.97 356.26h5.40M532.67 353.56v5.40M530.72 354.31l3.90 3.90M530.72 358.21l3.90 -3.90M532.68 356.65h5.40M535.38 353.95v5.40M533.43 354.70l3.90 3.90M533.43 358.60l3.90 -3.90M535.39 357.08h5.40M538.09 354.38v5.40M536.14 355.13l3.90 3.90M536.14 359.03l3.90 -3.90M538.11 357.55h5.40M540.81 354.85v5.40M538.86 355.60l3.90 3.90M538.86 359.50l3.90 -3.90M540.82 358.07h5.40M543.52 355.37v5.40M541.57 356.12l3.90 3.90M541.57 360.02l3.90 -3.90M543.53 358.64h5.40M546.23 355.94v5.40M544.28 356.69l3.90 3.90M544.28 360.59l3.90 -3.90M546.24 359.26h5.40M548.94 356.56v5.40M546.99 357.31l3.90 3.90M546.99 361.21l3.90 -3.90M548.95 359.94h5.40M551.65 357.24v5.40M549.70 357.99l3.90 3.90M549.70 361.89l3.90 -3.90M551.67 360.68h5.40M554.37 357.98v5.40M552.42 358.73l3.90 3.90M552.42 362.63l3.90 -3.90M554.38 361.49h5.40M557.08 358.79v5.40M555.13 359.54l3.90 3.90M555.13 363.44l3.90 -3.90M557.09 362.37h5.40M559.79 359.67v5.40M557.84 360.42l3.90 3.90M557.84 364.32l3.90 -3.90M559.80 363.33h5.40M562.50 360.63v5.40M560.55 361.38l3.90 3.90M560.55 365.28l3.90 -3.90M562.52 364.38h5.40M565.22 361.68v5.40M563.27 362.43l3.90 3.90M563.27 366.33l3.90 -3.90M565.23 365.51h5.40M567.93 362.81v5.40M565.98 363.56l3.90 3.90M565.98 367.46l3.90 -3.90M567.94 366.74h5.40M570.64 364.04v5.40M568.69 364.79l3.90 3.90M568.69 368.69l3.90 -3.90M570.65 368.07h5.40M573.35 365.37v5.40M571.40 366.12l3.90 3.90M571.40 370.02l3.90 -3.90M573.36 369.50h5.40M576.06 366.80v5.40M574.11 367.55l3.90 3.90M574.11 371.45l3.90 -3.90M576.08 371.05h5.40M578.78 368.35v5.40M576.83 369.10l3.90 3.90M576.83 373.00l3.90 -3.90M578.79 372.71h5.40M581.49 370.01v5.40M579.54 370.76l3.90 3.90M579.54 374.66l3.90 -3.90M581.50 374.50h5.40M584.20 371.80v5.40M582.25 372.55l3.90 3.90M582.25 376.45l3.90 -3.90M584.21 376.41h5.40M586.91 373.71v5.40M584.96 374.46l3.90 3.90M584.96 378.36l3.90 -3.90M586.92 378.45h5.40M589.62 375.75v5.40M587.67 376.50l3.90 3.90M587.67 380.40l3.90 -3.90M589.64 380.63h5.40M592.34 377.93v5.40M590.39 378.68l3.90 3.90M590.39 382.58l3.90 -3.90M592.35 382.94h5.40M595.05 380.24v5.40M593.10 380.99l3.90 3.90M593.10 384.89l3.90 -3.90M595.06 385.40h5.40M597.76 382.70v5.40M595.81 383.45l3.90 3.90M595.81 387.35l3.90 -3.90M597.77 387.99h5.40M600.47 385.29v5.40M598.52 386.04l3.90 3.90M598.52 389.94l3.90 -3.90M600.48 390.72h5.40M603.18 388.02v5.40M601.23 388.77l3.90 3.90M601.23 392.67l3.90 -3.90M603.20 393.58h5.40M605.90 390.88v5.40M603.95 391.63l3.90 3.90M603.95 395.53l3.90 -3.90M605.91 396.59h5.40M608.61 393.89v5.40M606.66 394.64l3.90 3.90M606.66 398.54l3.90 -3.90M608.62 399.72h5.40M611.32 397.02v5.40M609.37 397.77l3.90 3.90M609.37 401.67l3.90 -3.90M611.33 402.98h5.40M614.03 400.28v5.40M612.08 401.03l3.90 3.90M612.08 404.93l3.90 -3.90M614.05 406.36h5.40M616.75 403.66v5.40M614.80 404.41l3.90 3.90M614.80 408.31l3.90 -3.90M616.76 409.85h5.40M619.46 407.15v5.40M617.51 407.90l3.90 3.90M617.51 411.80l3.90 -3.90M619.47 413.44h5.40M622.17 410.74v5.40M620.22 411.49l3.90 3.90M620.22 415.39l3.90 -3.90M622.18 417.12h5.40M624.88 414.42v5.40M622.93 415.17l3.90 3.90M622.93 419.07l3.90 -3.90M624.89 420.87h5.40M627.59 418.17v5.40M625.64 418.92l3.90 3.90M625.64 422.82l3.90 -3.90M627.61 424.70h5.40M630.31 422.00v5.40M628.36 422.75l3.90 3.90M628.36 426.65l3.90 -3.90M630.32 428.58h5.40M633.02 425.88v5.40M631.07 426.63l3.90 3.90M631.07 430.53l3.90 -3.90M633.03 432.49h5.40M635.73 429.79v5.40M633.78 430.54l3.90 3.90M633.78 434.44l3.90 -3.90M635.74 436.43h5.40M638.44 433.73v5.40M636.49 434.48l3.90 3.90M636.49 438.38l3.90 -3.90M638.45 440.38h5.40M641.15 437.68v5.40M639.20 438.43l3.90 3.90M639.20 442.33l3.90 -3.90M641.17 444.32h5.40M643.87 441.62v5.40M641.92 442.37l3.90 3.90M641.92 446.27l3.90 -3.90M643.88 448.24h5.40M646.58 445.54v5.40M644.63 446.29l3.90 3.90M644.63 450.19l3.90 -3.90M646.59 452.12h5.40M649.29 449.42v5.40M647.34 450.17l3.90 3.90M647.34 454.07l3.90 -3.90M649.30 455.96h5.40M652.00 453.26v5.40M650.05 454.01l3.90 3.90M650.05 457.91l3.90 -3.90M652.02 459.74h5.40M654.72 457.04v5.40M652.77 457.79l3.90 3.90M652.77 461.69l3.90 -3.90M654.73 463.44h5.40M657.43 460.74v5.40M655.48 461.49l3.90 3.90M655.48 465.39l3.90 -3.90M657.44 467.06h5.40M660.14 464.36v5.40M658.19 465.11l3.90 3.90M658.19 469.01l3.90 -3.90M660.15 470.58h5.40M662.85 467.88v5.40M660.90 468.63l3.90 3.90M660.90 472.53l3.90 -3.90M662.86 474.01h5.40M665.56 471.31v5.40M663.61 472.06l3.90 3.90M663.61 475.96l3.90 -3.90M665.58 477.32h5.40M668.28 474.62v5.40M666.33 475.37l3.90 3.90M666.33 479.27l3.90 -3.90M668.29 480.52h5.40M670.99 477.82v5.40M669.04 478.57l3.90 3.90M669.04 482.47l3.90 -3.90M671.00 483.60h5.40M673.70 480.90v5.40M671.75 481.65l3.90 3.90M671.75 485.55l3.90 -3.90"/>
<polyline fill="none" stroke="#0072bd" stroke-width="1" points="405.20,337.42 407.91,337.49 410.62,337.56 413.34,337.62 416.05,337.69 418.76,337.75 421.47,337.80 424.18,337.85 426.90,337.90 429.61,337.95 432.32,337.99 435.03,338.03 437.75,338.07 440.46,338.10 443.17,338.14 445.88,338.17 448.59,338.19 451.31,338.22 454.02,338.24 456.73,338.26 459.44,338.28 462.15,338.30 464.87,338.31 467.58,338.32 470.29,338.34 473.00,338.35 475.72,338.36 478.43,338.37 481.14,338.38 483.85,338.38 486.56,338.39 489.28,338.40 491.99,338.41 494.70,338.43 497.41,338.44 500.12,338.46 502.84,338.48 505.55,338.51 508.26,338.54 510.97,338.59 513.68,338.64 516.40,338.70 519.11,338.77 521.82,338.86 524.53,338.96 527.25,339.09 529.96,339.23 532.67,339.41 535.38,339.61 538.09,339.84 540.81,340.11 543.52,340.42 546.23,340.78 548.94,341.18 551.65,341.64 554.37,342.17 557.08,342.76 559.79,343.42 562.50,344.16 565.22,344.98 567.93,345.89 570.64,346.90 573.35,348.01 576.06,349.22 578.78,350.55 581.49,352.00 584.20,353.56 586.91,355.25 589.62,357.07 592.34,359.02 595.05,361.11 597.76,363.33 600.47,365.69 603.18,368.18 605.90,370.81 608.61,373.58 611.32,376.50 614.03,379.56 616.75,382.77 619.46,386.13 622.17,389.63 624.88,393.23 627.59,396.92 630.31,400.65 633.02,404.41 635.73,408.15 638.44,411.87 641.15,415.58 643.87,419.31 646.58,423.08 649.29,426.92 652.00,430.86 654.72,434.91 657.43,439.12 660.14,443.48 662.85,447.96 665.56,452.52 668.28,457.08 670.99,461.61 673.70,466.04"/>
<g fill="none" stroke="#0072bd" stroke-width="1.1"><circle cx="405.20" cy="337.42" r="2.15"/><circle cx="407.91" cy="337.49" r="2.15"/><circle cx="410.62" cy="337.56" r="2.15"/><circle cx="413.34" cy="337.62" r="2.15"/><circle cx="416.05" cy="337.69" r="2.15"/><circle cx="418.76" cy="337.75" r="2.15"/><circle cx="421.47" cy="337.80" r="2.15"/><circle cx="424.18" cy="337.85" r="2.15"/><circle cx="426.90" cy="337.90" r="2.15"/><circle cx="429.61" cy="337.95" r="2.15"/><circle cx="432.32" cy="337.99" r="2.15"/><circle cx="435.03" cy="338.03" r="2.15"/><circle cx="437.75" cy="338.07" r="2.15"/><circle cx="440.46" cy="338.10" r="2.15"/><circle cx="443.17" cy="338.14" r="2.15"/><circle cx="445.88" cy="338.17" r="2.15"/><circle cx="448.59" cy="338.19" r="2.15"/><circle cx="451.31" cy="338.22" r="2.15"/><circle cx="454.02" cy="338.24" r="2.15"/><circle cx="456.73" cy="338.26" r="2.15"/><circle cx="459.44" cy="338.28" r="2.15"/><circle cx="462.15" cy="338.30" r="2.15"/><circle cx="464.87" cy="338.31" r="2.15"/><circle cx="467.58" cy="338.32" r="2.15"/><circle cx="470.29" cy="338.34" r="2.15"/><circle cx="473.00" cy="338.35" r="2.15"/><circle cx="475.72" cy="338.36" r="2.15"/><circle cx="478.43" cy="338.37" r="2.15"/><circle cx="481.14" cy="338.38" r="2.15"/><circle cx="483.85" cy="338.38" r="2.15"/><circle cx="486.56" cy="338.39" r="2.15"/><circle cx="489.28" cy="338.40" r="2.15"/><circle cx="491.99" cy="338.41" r="2.15"/><circle cx="494.70" cy="338.43" r="2.15"/><circle cx="497.41" cy="338.44" r="2.15"/><circle cx="500.12" cy="338.46" r="2.15"/><circle cx="502.84" cy="338.48" r="2.15"/><circle cx="505.55" cy="338.51" r="2.15"/><circle cx="508.26" cy="338.54" r="2.15"/><circle cx="510.97" cy="338.59" r="2.15"/><circle cx="513.68" cy="338.64" r="2.15"/><circle cx="516.40" cy="338.70" r="2.15"/><circle cx="519.11" cy="338.77" r="2.15"/><circle cx="521.82" cy="338.86" r="2.15"/><circle cx="524.53" cy="338.96" r="2.15"/><circle cx="527.25" cy="339.09" r="2.15"/><circle cx="529.96" cy="339.23" r="2.15"/><circle cx="532.67" cy="339.41" r="2.15"/><circle cx="535.38" cy="339.61" r="2.15"/><circle cx="538.09" cy="339.84" r="2.15"/><circle cx="540.81" cy="340.11" r="2.15"/><circle cx="543.52" cy="340.42" r="2.15"/><circle cx="546.23" cy="340.78" r="2.15"/><circle cx="548.94" cy="341.18" r="2.15"/><circle cx="551.65" cy="341.64" r="2.15"/><circle cx="554.37" cy="342.17" r="2.15"/><circle cx="557.08" cy="342.76" r="2.15"/><circle cx="559.79" cy="343.42" r="2.15"/><circle cx="562.50" cy="344.16" r="2.15"/><circle cx="565.22" cy="344.98" r="2.15"/><circle cx="567.93" cy="345.89" r="2.15"/><circle cx="570.64" cy="346.90" r="2.15"/><circle cx="573.35" cy="348.01" r="2.15"/><circle cx="576.06" cy="349.22" r="2.15"/><circle cx="578.78" cy="350.55" r="2.15"/><circle cx="581.49" cy="352.00" r="2.15"/><circle cx="584.20" cy="353.56" r="2.15"/><circle cx="586.91" cy="355.25" r="2.15"/><circle cx="589.62" cy="357.07" r="2.15"/><circle cx="592.34" cy="359.02" r="2.15"/><circle cx="595.05" cy="361.11" r="2.15"/><circle cx="597.76" cy="363.33" r="2.15"/><circle cx="600.47" cy="365.69" r="2.15"/><circle cx="603.18" cy="368.18" r="2.15"/><circle cx="605.90" cy="370.81" r="2.15"/><circle cx="608.61" cy="373.58" r="2.15"/><circle cx="611.32" cy="376.50" r="2.15"/><circle cx="614.03" cy="379.56" r="2.15"/><circle cx="616.75" cy="382.77" r="2.15"/><circle cx="619.46" cy="386.13" r="2.15"/><circle cx="622.17" cy="389.63" r="2.15"/><circle cx="624.88" cy="393.23" r="2.15"/><circle cx="627.59" cy="396.92" r="2.15"/><circle cx="630.31" cy="400.65" r="2.15"/><circle cx="633.02" cy="404.41" r="2.15"/><circle cx="635.73" cy="408.15" r="2.15"/><circle cx="638.44" cy="411.87" r="2.15"/><circle cx="641.15" cy="415.58" r="2.15"/><circle cx="643.87" cy="419.31" r="2.15"/><circle cx="646.58" cy="423.08" r="2.15"/><circle cx="649.29" cy="426.92" r="2.15"/><circle cx="652.00" cy="430.86" r="2.15"/><circle cx="654.72" cy="434.91" r="2.15"/><circle cx="657.43" cy="439.12" r="2.15"/><circle cx="660.14" cy="443.48" r="2.15"/><circle cx="662.85" cy="447.96" r="2.15"/><circle cx="665.56" cy="452.52" r="2.15"/><circle cx="668.28" cy="457.08" r="2.15"/><circle cx="670.99" cy="461.61" r="2.15"/><circle cx="673.70" cy="466.04" r="2.15"/></g>
<polyline fill="none" stroke="#d95319" stroke-width="1" points="405.20,324.62 407.91,324.63 410.62,324.63 413.34,324.63 416.05,324.64 418.76,324.64 421.47,324.64 424.18,324.65 426.90,324.65 429.61,324.65 432.32,324.66 435.03,324.66 437.75,324.67 440.46,324.67 443.17,324.68 445.88,324.68 448.59,324.69 451.31,324.70 454.02,324.71 456.73,324.71 459.44,324.72 462.15,324.73 464.87,324.75 467.58,324.76 470.29,324.77 473.00,324.79 475.72,324.81 478.43,324.83 481.14,324.85 483.85,324.88 486.56,324.90 489.28,324.94 491.99,324.97 494.70,325.01 497.41,325.06 500.12,325.11 502.84,325.16 505.55,325.22 508.26,325.29 510.97,325.37 513.68,325.46 516.40,325.56 519.11,325.67 521.82,325.79 524.53,325.92 527.25,326.07 529.96,326.24 532.67,326.43 535.38,326.64 538.09,326.87 540.81,327.13 543.52,327.42 546.23,327.74 548.94,328.10 551.65,328.49 554.37,328.92 557.08,329.40 559.79,329.93 562.50,330.52 565.22,331.16 567.93,331.87 570.64,332.65 573.35,333.51 576.06,334.44 578.78,335.47 581.49,336.58 584.20,337.80 586.91,339.12 589.62,340.56 592.34,342.11 595.05,343.79 597.76,345.60 600.47,347.54 603.18,349.62 605.90,351.85 608.61,354.23 611.32,356.76 614.03,359.44 616.75,362.27 619.46,365.25 622.17,368.39 624.88,371.67 627.59,375.10 630.31,378.66 633.02,382.36 635.73,386.17 638.44,390.10 641.15,394.13 643.87,398.25 646.58,402.45 649.29,406.71 652.00,411.02 654.72,415.37 657.43,419.74 660.14,424.11 662.85,428.47 665.56,432.81 668.28,437.12 670.99,441.37 673.70,445.56"/>
<path fill="none" stroke="#d95319" stroke-width="1.15" d="M403.00 322.27L407.40 324.62L403.00 326.97ZM405.71 322.28L410.11 324.63L405.71 326.98ZM408.42 322.28L412.82 324.63L408.42 326.98ZM411.14 322.28L415.54 324.63L411.14 326.98ZM413.85 322.29L418.25 324.64L413.85 326.99ZM416.56 322.29L420.96 324.64L416.56 326.99ZM419.27 322.29L423.67 324.64L419.27 326.99ZM421.98 322.30L426.38 324.65L421.98 327.00ZM424.70 322.30L429.10 324.65L424.70 327.00ZM427.41 322.30L431.81 324.65L427.41 327.00ZM430.12 322.31L434.52 324.66L430.12 327.01ZM432.83 322.31L437.23 324.66L432.83 327.01ZM435.55 322.32L439.95 324.67L435.55 327.02ZM438.26 322.32L442.66 324.67L438.26 327.02ZM440.97 322.33L445.37 324.68L440.97 327.03ZM443.68 322.33L448.08 324.68L443.68 327.03ZM446.39 322.34L450.79 324.69L446.39 327.04ZM449.11 322.35L453.51 324.70L449.11 327.05ZM451.82 322.36L456.22 324.71L451.82 327.06ZM454.53 322.36L458.93 324.71L454.53 327.06ZM457.24 322.37L461.64 324.72L457.24 327.07ZM459.95 322.38L464.35 324.73L459.95 327.08ZM462.67 322.40L467.07 324.75L462.67 327.10ZM465.38 322.41L469.78 324.76L465.38 327.11ZM468.09 322.42L472.49 324.77L468.09 327.12ZM470.80 322.44L475.20 324.79L470.80 327.14ZM473.52 322.46L477.92 324.81L473.52 327.16ZM476.23 322.48L480.63 324.83L476.23 327.18ZM478.94 322.50L483.34 324.85L478.94 327.20ZM481.65 322.53L486.05 324.88L481.65 327.23ZM484.36 322.55L488.76 324.90L484.36 327.25ZM487.08 322.59L491.48 324.94L487.08 327.29ZM489.79 322.62L494.19 324.97L489.79 327.32ZM492.50 322.66L496.90 325.01L492.50 327.36ZM495.21 322.71L499.61 325.06L495.21 327.41ZM497.92 322.76L502.32 325.11L497.92 327.46ZM500.64 322.81L505.04 325.16L500.64 327.51ZM503.35 322.87L507.75 325.22L503.35 327.57ZM506.06 322.94L510.46 325.29L506.06 327.64ZM508.77 323.02L513.17 325.37L508.77 327.72ZM511.48 323.11L515.88 325.46L511.48 327.81ZM514.20 323.21L518.60 325.56L514.20 327.91ZM516.91 323.32L521.31 325.67L516.91 328.02ZM519.62 323.44L524.02 325.79L519.62 328.14ZM522.33 323.57L526.73 325.92L522.33 328.27ZM525.05 323.72L529.45 326.07L525.05 328.42ZM527.76 323.89L532.16 326.24L527.76 328.59ZM530.47 324.08L534.87 326.43L530.47 328.78ZM533.18 324.29L537.58 326.64L533.18 328.99ZM535.89 324.52L540.29 326.87L535.89 329.22ZM538.61 324.78L543.01 327.13L538.61 329.48ZM541.32 325.07L545.72 327.42L541.32 329.77ZM544.03 325.39L548.43 327.74L544.03 330.09ZM546.74 325.75L551.14 328.10L546.74 330.45ZM549.45 326.14L553.85 328.49L549.45 330.84ZM552.17 326.57L556.57 328.92L552.17 331.27ZM554.88 327.05L559.28 329.40L554.88 331.75ZM557.59 327.58L561.99 329.93L557.59 332.28ZM560.30 328.17L564.70 330.52L560.30 332.87ZM563.02 328.81L567.42 331.16L563.02 333.51ZM565.73 329.52L570.13 331.87L565.73 334.22ZM568.44 330.30L572.84 332.65L568.44 335.00ZM571.15 331.16L575.55 333.51L571.15 335.86ZM573.86 332.09L578.26 334.44L573.86 336.79ZM576.58 333.12L580.98 335.47L576.58 337.82ZM579.29 334.23L583.69 336.58L579.29 338.93ZM582.00 335.45L586.40 337.80L582.00 340.15ZM584.71 336.77L589.11 339.12L584.71 341.47ZM587.42 338.21L591.82 340.56L587.42 342.91ZM590.14 339.76L594.54 342.11L590.14 344.46ZM592.85 341.44L597.25 343.79L592.85 346.14ZM595.56 343.25L599.96 345.60L595.56 347.95ZM598.27 345.19L602.67 347.54L598.27 349.89ZM600.98 347.27L605.38 349.62L600.98 351.97ZM603.70 349.50L608.10 351.85L603.70 354.20ZM606.41 351.88L610.81 354.23L606.41 356.58ZM609.12 354.41L613.52 356.76L609.12 359.11ZM611.83 357.09L616.23 359.44L611.83 361.79ZM614.55 359.92L618.95 362.27L614.55 364.62ZM617.26 362.90L621.66 365.25L617.26 367.60ZM619.97 366.04L624.37 368.39L619.97 370.74ZM622.68 369.32L627.08 371.67L622.68 374.02ZM625.39 372.75L629.79 375.10L625.39 377.45ZM628.11 376.31L632.51 378.66L628.11 381.01ZM630.82 380.01L635.22 382.36L630.82 384.71ZM633.53 383.82L637.93 386.17L633.53 388.52ZM636.24 387.75L640.64 390.10L636.24 392.45ZM638.95 391.78L643.35 394.13L638.95 396.48ZM641.67 395.90L646.07 398.25L641.67 400.60ZM644.38 400.10L648.78 402.45L644.38 404.80ZM647.09 404.36L651.49 406.71L647.09 409.06ZM649.80 408.67L654.20 411.02L649.80 413.37ZM652.52 413.02L656.92 415.37L652.52 417.72ZM655.23 417.39L659.63 419.74L655.23 422.09ZM657.94 421.76L662.34 424.11L657.94 426.46ZM660.65 426.12L665.05 428.47L660.65 430.82ZM663.36 430.46L667.76 432.81L663.36 435.16ZM666.08 434.77L670.48 437.12L666.08 439.47ZM668.79 439.02L673.19 441.37L668.79 443.72ZM671.50 443.21L675.90 445.56L671.50 447.91Z"/>
</g>
<rect x="402.60" y="314.20" width="281.70" height="232.40" fill="none" stroke="#262626" stroke-width="1.1"/>
<path stroke="#262626" stroke-width="1" d="M402.60 538.20h3.1M684.30 538.20h-3.1M402.60 510.20h3.1M684.30 510.20h-3.1M402.60 482.20h3.1M684.30 482.20h-3.1M402.60 454.20h3.1M684.30 454.20h-3.1M402.60 426.20h3.1M684.30 426.20h-3.1M402.60 398.20h3.1M684.30 398.20h-3.1M402.60 370.20h3.1M684.30 370.20h-3.1M402.60 342.20h3.1M684.30 342.20h-3.1M402.60 314.20h3.1M684.30 314.20h-3.1M402.60 546.60v-3.0M402.60 314.20v3.0M435.19 546.60v-1.7M435.19 314.20v1.7M454.25 546.60v-1.7M454.25 314.20v1.7M467.78 546.60v-1.7M467.78 314.20v1.7M478.27 546.60v-1.7M478.27 314.20v1.7M486.84 546.60v-1.7M486.84 314.20v1.7M494.09 546.60v-1.7M494.09 314.20v1.7M500.37 546.60v-1.7M500.37 314.20v1.7M505.91 546.60v-1.7M505.91 314.20v1.7M510.86 546.60v-3.0M510.86 314.20v3.0M543.45 546.60v-1.7M543.45 314.20v1.7M562.51 546.60v-1.7M562.51 314.20v1.7M576.04 546.60v-1.7M576.04 314.20v1.7M586.53 546.60v-1.7M586.53 314.20v1.7M595.10 546.60v-1.7M595.10 314.20v1.7M602.35 546.60v-1.7M602.35 314.20v1.7M608.63 546.60v-1.7M608.63 314.20v1.7M614.17 546.60v-1.7M614.17 314.20v1.7M619.12 546.60v-3.0M619.12 314.20v3.0M651.71 546.60v-1.7M651.71 314.20v1.7M670.77 546.60v-1.7M670.77 314.20v1.7M684.30 546.60v-1.7M684.30 314.20v1.7"/>
<text x="387.99" y="542.80" class="t">0</text>
<text x="379.73" y="514.80" class="t">0.1</text>
<text x="379.73" y="486.80" class="t">0.2</text>
<text x="379.73" y="458.80" class="t">0.3</text>
<text x="379.73" y="430.80" class="t">0.4</text>
<text x="379.73" y="402.80" class="t">0.5</text>
<text x="379.73" y="374.80" class="t">0.6</text>
<text x="379.73" y="346.80" class="t">0.7</text>
<text x="379.73" y="318.80" class="t">0.8</text>
<text x="392.58" y="564.60" class="t">10</text>
<text x="406.03" y="559.60" class="s">2</text>
<text x="500.28" y="564.60" class="t">10</text>
<text x="514.13" y="559.60" class="s">3</text>
<text x="609.08" y="564.60" class="t">10</text>
<text x="621.98" y="559.30" class="s">4</text>
<text x="543.30" y="586.70" text-anchor="middle" class="f">Frequency [kHz]</text>
<text transform="translate(364.10,426.80) rotate(-90)" text-anchor="middle" class="f">Reflection coefficient</text>
<text x="350.4" y="315.7" class="p" letter-spacing="0.7">(d)</text>
</svg>
</body></html>
